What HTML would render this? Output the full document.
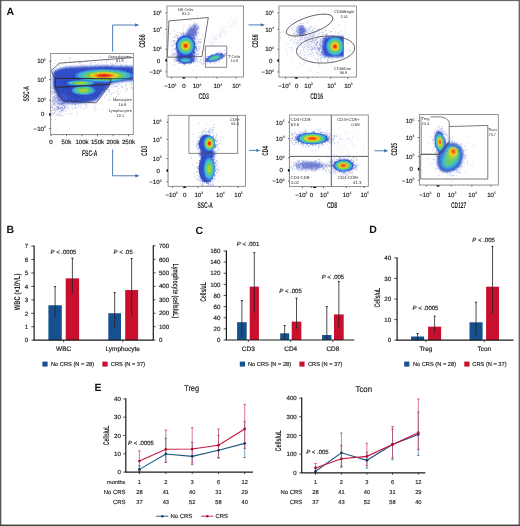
<!DOCTYPE html><html><head><meta charset="utf-8"><style>html,body{margin:0;padding:0;background:#fff;}svg{display:block;will-change:transform;}</style></head><body>
<svg width="520" height="526" viewBox="0 0 520 526" text-rendering="geometricPrecision" font-family='"Liberation Sans", sans-serif'>
<defs>
<filter id="bl04" x="-50%" y="-50%" width="200%" height="200%"><feGaussianBlur stdDeviation="0.4"/></filter>
<filter id="bl06" x="-50%" y="-50%" width="200%" height="200%"><feGaussianBlur stdDeviation="0.6"/></filter>
<filter id="bl07" x="-50%" y="-50%" width="200%" height="200%"><feGaussianBlur stdDeviation="0.7"/></filter>
<filter id="bl08" x="-50%" y="-50%" width="200%" height="200%"><feGaussianBlur stdDeviation="0.8"/></filter>
<filter id="bl09" x="-50%" y="-50%" width="200%" height="200%"><feGaussianBlur stdDeviation="0.9"/></filter>
<filter id="bl12" x="-50%" y="-50%" width="200%" height="200%"><feGaussianBlur stdDeviation="1.2"/></filter>
<filter id="bl16" x="-50%" y="-50%" width="200%" height="200%"><feGaussianBlur stdDeviation="1.6"/></filter>
</defs>
<rect width="520" height="526" fill="#fff"/>
<text x="10.2" y="15.08" font-size="10.5" text-anchor="middle" font-weight="bold" fill="#111">A</text>
<clipPath id="c1"><rect x="51.1" y="53.5" width="82.00000000000001" height="81.1"/></clipPath>
<g clip-path="url(#c1)">
<path d="M88.86 79.58h0.8M89.57 73.79h0.8M72.68 74.51h0.8M121.69 78.97h0.8M119.89 77.74h0.8M104.47 77.3h0.8M55.01 81.99h0.8M107.15 79.49h0.8M54.41 63.79h0.8M73.65 72.72h0.8M102.33 75.68h0.8M107.5 71.5h0.8M102.41 78.76h0.8M79.13 88.02h0.8M108.36 84.38h0.8M80.11 70.82h0.8M86.74 75.26h0.8M110.17 77.74h0.8M84.26 69.3h0.8M82.51 84.55h0.8M75.61 77.71h0.8M105.24 65.57h0.8M96.16 85.14h0.8M46.66 73.75h0.8M92.45 70.28h0.8M106.94 75.56h0.8M59.85 81.79h0.8M111.06 82.62h0.8M129.57 78.54h0.8M97.86 66.91h0.8M109.77 71.72h0.8M84.14 67.15h0.8M71.78 72.28h0.8M125.93 61.78h0.8M60.02 77.68h0.8M129.64 80.05h0.8M49.4 58.37h0.8M103.58 70.85h0.8M68.13 82.84h0.8M121.44 77.1h0.8M100.9 79.04h0.8M133.26 80.33h0.8M107.45 79.83h0.8M57.36 84.97h0.8M117.92 79.71h0.8M47.63 71.56h0.8M115.22 63.32h0.8M90.58 83.14h0.8M63.53 87.27h0.8M108.25 74.95h0.8M102.8 80.55h0.8M97.89 84.02h0.8M79.12 73.1h0.8M120 76.19h0.8M73.87 82.63h0.8M130.17 72.89h0.8M61.88 75.06h0.8M91.42 73.91h0.8M128.71 68.81h0.8M125.25 67.12h0.8M76.11 80.42h0.8M122.09 82.01h0.8M103.29 77h0.8M98.66 80.03h0.8M90.77 77.94h0.8M108.75 76.01h0.8M113.34 79.96h0.8M143.26 78.27h0.8M84.74 73.39h0.8M94.69 82.47h0.8M86.92 78.7h0.8M139.1 58.05h0.8M68.03 77.71h0.8M104.56 77.67h0.8M84.65 80.59h0.8M101.77 72.35h0.8M153.32 78.49h0.8M81.7 75.3h0.8M89.59 75.56h0.8M29.53 72.59h0.8M119.21 67.82h0.8M93.4 82.67h0.8M115.55 86.44h0.8M54.17 73.53h0.8M86.82 80.36h0.8M121.2 57.22h0.8M121.13 65.87h0.8M111.4 65.56h0.8M99.22 84.36h0.8M91.42 77.34h0.8M114.13 76.99h0.8M92.88 86.73h0.8M120.16 73.94h0.8M160.89 67.97h0.8M116.95 74.14h0.8M98.18 80.94h0.8M100.33 80.47h0.8M58.34 65.43h0.8M109.76 69.26h0.8M70.36 65.71h0.8M125.39 81.23h0.8M130.35 69.44h0.8M95.02 68.02h0.8M113.38 87.13h0.8M73.63 86.92h0.8M118.71 74.76h0.8M47.67 85.85h0.8M92.69 71.78h0.8M104.59 78.87h0.8M130.95 68.86h0.8M122.27 86.41h0.8M129.85 74.74h0.8M77.14 83.13h0.8M97.76 76.87h0.8M129.18 74.16h0.8M39.88 73.29h0.8M50.51 81.73h0.8M102.61 71.72h0.8M94.77 81.83h0.8M96.89 85.29h0.8M93.53 83.28h0.8M130.8 87.27h0.8M78.88 82.16h0.8M49.98 68.42h0.8M47.89 83.48h0.8M65.43 75.91h0.8M90.39 75.8h0.8M80.8 77.64h0.8M137.99 76.31h0.8M107.74 83h0.8M90.25 67.18h0.8M81.67 83.52h0.8M55.49 71.82h0.8M119.18 81.55h0.8M95.18 81.64h0.8M98.98 67.75h0.8M57.47 71.53h0.8M117.15 72.04h0.8M73.34 70.6h0.8M58.24 75.18h0.8M66.69 78.55h0.8M38.36 78.29h0.8M79.6 62.4h0.8M112.39 74.07h0.8M41.48 69.87h0.8M101.98 72.79h0.8M113.72 81.23h0.8M110.99 78.29h0.8M127.01 80.62h0.8M105.83 61.41h0.8M116.52 85.17h0.8M87.87 72.71h0.8M141.57 63.69h0.8M106.25 92.97h0.8M72.74 80.83h0.8M140.27 75.16h0.8M108.47 82.32h0.8M73.26 75.38h0.8M102.03 81.78h0.8M94.17 74.63h0.8M70.61 73.49h0.8M116.4 76.71h0.8M74.53 70.11h0.8M159 83.98h0.8M110.3 57.85h0.8M109.92 79.36h0.8M135.42 78.99h0.8M93.38 79.66h0.8M48.34 83.23h0.8M102.8 71.09h0.8M126.81 88.67h0.8M61.34 71.34h0.8M101.99 77.28h0.8M85.44 69.18h0.8M145.89 83.26h0.8M66.34 66.58h0.8M135.88 82.92h0.8M138.7 81.67h0.8M74.07 77.82h0.8M43.16 70.76h0.8M93.59 79.66h0.8M77.54 75.13h0.8M106.01 78.64h0.8M110.31 77.46h0.8M87.23 81.52h0.8M96.18 70.22h0.8M79.98 76h0.8M92.37 77.1h0.8M94.99 77.23h0.8M91.78 67.19h0.8M105.11 83.38h0.8M105.43 74.68h0.8M105.71 69.24h0.8M49.49 76.42h0.8M72.67 81.18h0.8M68.98 57.6h0.8M70.05 87.05h0.8M85.84 66.41h0.8M76.68 79.65h0.8M106.92 77.24h0.8M130.61 80.95h0.8M94.5 80.18h0.8M134.71 82.8h0.8M119.57 68.42h0.8M91.44 81.11h0.8M87.89 83.48h0.8M109.31 82.36h0.8M89.9 93.82h0.8M124.76 74.49h0.8M97.17 94.17h0.8M86.76 82.12h0.8M118.53 76.05h0.8M66.99 77.31h0.8M103.63 83.91h0.8M113.79 76.17h0.8M115.49 79.78h0.8M99.95 76.39h0.8M89.16 80.8h0.8M69.7 71.6h0.8M95.12 65.75h0.8M84.54 61.94h0.8M78.61 79.98h0.8M108.59 75.62h0.8M89.43 66.08h0.8M138.87 79.61h0.8M121.24 69.82h0.8M90.55 63.26h0.8M113.73 82.55h0.8M49.46 75.64h0.8M110.13 63.67h0.8M51.19 68.54h0.8M79.9 66.18h0.8M95.76 77.75h0.8M110.22 80.91h0.8M131.06 84.15h0.8M63.51 72.46h0.8M69.56 68.46h0.8M93.05 76.04h0.8M106.77 64.89h0.8M65.3 75.84h0.8M90.21 73.82h0.8M93.48 70.68h0.8M111.83 78.48h0.8M92.89 71.3h0.8M90.82 56.95h0.8M71.45 76.26h0.8M58.9 77.4h0.8M98.54 66.36h0.8M88.99 73.8h0.8M106.04 80.28h0.8M94.13 70.04h0.8M91.54 75.54h0.8M112.63 78.06h0.8M77.66 66.52h0.8M86.05 70.82h0.8M68.31 75.19h0.8M83.21 76.74h0.8M107.56 73.11h0.8M150.78 73.75h0.8M121.44 76.85h0.8M121.79 59.37h0.8M76.96 77.73h0.8M109.46 92.36h0.8M102.74 84.96h0.8M113.39 82.63h0.8M107.24 74.91h0.8M107.22 68.45h0.8M123.35 68.88h0.8M100.98 90.85h0.8M89.64 76.14h0.8M122.91 76.18h0.8M75.62 77.81h0.8M108.97 80.97h0.8M76.46 88.27h0.8M135 76.13h0.8M101.45 73h0.8M128.94 71.07h0.8M111.18 72.64h0.8M78.34 81.03h0.8M127.01 75.93h0.8M78.74 81.68h0.8M93.81 78.17h0.8M131.55 83.92h0.8M82.52 91.99h0.8M95.08 81.5h0.8M79.46 75.69h0.8M53 88.51h0.8M127.78 67.49h0.8M58.88 64.65h0.8M123.22 72.78h0.8M93.55 73.81h0.8M92.09 68.38h0.8M95.58 65.93h0.8M93.28 78.16h0.8M106.22 74.38h0.8M73.31 77.12h0.8M83.37 86.96h0.8M113.43 75.19h0.8M83.69 71.08h0.8M72.51 73.53h0.8M102.07 79.61h0.8M108.65 90.69h0.8M78.08 76.09h0.8M162.07 62.93h0.8M82.48 77.19h0.8M98.71 78.86h0.8M89.27 78.56h0.8M96.27 81.4h0.8M49.58 69.8h0.8M94.95 68.78h0.8M69.93 80.39h0.8M79.4 80.44h0.8M112.9 78.15h0.8M107.19 75.27h0.8M61.18 75.79h0.8M105.9 72.29h0.8M92.61 81.24h0.8M73.93 80.48h0.8M139.7 72.12h0.8M98.52 74.95h0.8M131.97 78.21h0.8M116.55 71.17h0.8M94.61 75.93h0.8M52.38 86.09h0.8M116.59 63.76h0.8M112.86 75.08h0.8M105.76 78.57h0.8M59.02 74.52h0.8M130.82 71.98h0.8M70.45 66.48h0.8M65.69 78.35h0.8M135.62 79.01h0.8M100.89 91.64h0.8M82.53 71.28h0.8M107.68 79.84h0.8M70.65 67.81h0.8M101.98 77.73h0.8M63.64 74.58h0.8M81.98 79.22h0.8M92.2 75.4h0.8M86.52 83.37h0.8M128.38 73.43h0.8M115.31 70.7h0.8M96.73 81.25h0.8M131.34 73.32h0.8M93.22 77.37h0.8M59.05 76.11h0.8M78.78 78.6h0.8M67.88 62.16h0.8M95.92 77.82h0.8M81.83 82.22h0.8M88.44 71.76h0.8M106.47 65.02h0.8M78.74 75.85h0.8M115.37 74.86h0.8M102.4 71.41h0.8M102.24 87.64h0.8M78.53 92.56h0.8M79.55 76.12h0.8M99.16 83.17h0.8M65.31 61.3h0.8M109.54 81.57h0.8M109.97 94.41h0.8M99.92 77.78h0.8M117.3 78.58h0.8M134.93 67.33h0.8M85.99 51.89h0.8M114.5 73.39h0.8M117.18 91.08h0.8M94.86 74.22h0.8M83.01 70.13h0.8M79.87 80.47h0.8M95.88 76.46h0.8M90.84 82.4h0.8M106.86 75.01h0.8M110.95 74.94h0.8M67.33 86.19h0.8M106.17 69.3h0.8M120.89 78.41h0.8M57.46 87.27h0.8M103 82.24h0.8M99.75 74.95h0.8M57.84 82.8h0.8M95.72 73.99h0.8M103.42 76.55h0.8M111.22 73.4h0.8M94.12 61.03h0.8M84.84 80.73h0.8M127.08 73.45h0.8M92.09 87.08h0.8M87.18 81.14h0.8M135.28 76.28h0.8M124.45 71.03h0.8M99.98 75.46h0.8M97.76 83.91h0.8M152.36 71.34h0.8M81.2 79.48h0.8M69.68 79.48h0.8M108.73 74.06h0.8M107.75 65.15h0.8M113.24 65.19h0.8M78.29 72.11h0.8M85.37 82.01h0.8M96.96 73.22h0.8M108.04 87.07h0.8M95.15 78.56h0.8M124.75 77.87h0.8M64.19 93.43h0.8M148 62.11h0.8M94.06 78.92h0.8M118.18 80.68h0.8M88.47 68.62h0.8M97.47 83.23h0.8M68.85 68.81h0.8M94.41 62.44h0.8M88.75 72.94h0.8M105.82 71.09h0.8M73.83 73.24h0.8M93.8 71.35h0.8M95.29 81.25h0.8M123.44 87.93h0.8M76.2 73.06h0.8M35.41 89.3h0.8M77.61 75.77h0.8M107.54 66.49h0.8M106.13 75.82h0.8M51.18 78.04h0.8M123.67 62.93h0.8M114.37 77.46h0.8M106.4 79.09h0.8M126.29 74.43h0.8M115.97 73.13h0.8M112.47 70.3h0.8M92.4 88.12h0.8M105.69 74.89h0.8M67.52 70.47h0.8M99.65 82.58h0.8M105.23 79.67h0.8M94 85.46h0.8M85.62 72.15h0.8M116.31 76.45h0.8M88.31 71.97h0.8M88.83 80.36h0.8M103.49 67.53h0.8M105.23 77.25h0.8M71 81.41h0.8M88.27 73.65h0.8M114.1 85.24h0.8M78.47 79.07h0.8M73.97 92.2h0.8M83.15 84.36h0.8M79.46 81.68h0.8M148.25 58.21h0.8M84.57 79.5h0.8M92.77 71.32h0.8M146.65 76.56h0.8M55.53 81.98h0.8M53.68 84.06h0.8M81.13 77.01h0.8M125.26 76.83h0.8M61.61 64.13h0.8M123.38 81.18h0.8M75.42 82.02h0.8M106.92 80.53h0.8M40.79 73.89h0.8M116.61 81.13h0.8M116.15 58.8h0.8M99.06 79.45h0.8M156.25 69.32h0.8M87.1 76.25h0.8M116.27 72.9h0.8M122.53 70.48h0.8M101.4 72.31h0.8M98.8 71.16h0.8M56.67 83.65h0.8M102.28 72.09h0.8M99.82 82.93h0.8M71.54 75.23h0.8M107.94 79.68h0.8M86.95 61.25h0.8M124.83 78.3h0.8M95.31 74.05h0.8M101.32 73.02h0.8M70.41 70.82h0.8M80.68 71.71h0.8M67.19 80.45h0.8M63.56 80.62h0.8M70.65 78.47h0.8M127.98 77.42h0.8M77.46 76.34h0.8M98.56 63.86h0.8M80.42 77.14h0.8M83.74 76.56h0.8M112.62 81.37h0.8M116.74 80.12h0.8M88.09 75.87h0.8M88.49 73.81h0.8M90.69 63.93h0.8M87 75.83h0.8M71.62 75.83h0.8M107.37 74.85h0.8M144.84 57.75h0.8M90.05 63.22h0.8M118.52 94.58h0.8M34.95 76.9h0.8M107.46 73.88h0.8M108.24 60.3h0.8M115.45 78.6h0.8M95.55 71.89h0.8M110.32 72.6h0.8M100.35 72.43h0.8M41.08 75.78h0.8M99.85 81.28h0.8M73.97 75.77h0.8M109.81 77.02h0.8M124.82 89.94h0.8M73.19 62.55h0.8M115.56 86.71h0.8M117.14 81.7h0.8M80.15 71.01h0.8M116.32 69.62h0.8M51.48 69.02h0.8M154.81 89.46h0.8M78.52 70.9h0.8M100.55 70.75h0.8M126.44 75.45h0.8M68.93 85.16h0.8M81 77.55h0.8M94.7 73.8h0.8M102.8 71.15h0.8M50.73 60.54h0.8M64.6 70.69h0.8M94.45 76.39h0.8M108.34 76.84h0.8M75.96 71.04h0.8M44.15 74.82h0.8M106.64 79.71h0.8M92.09 74.78h0.8M117.47 76.11h0.8M112.71 80.08h0.8M100.12 85.14h0.8M81.26 73.49h0.8M75.61 70.42h0.8M132.34 88.32h0.8M95.55 79.98h0.8M123.21 81.65h0.8M123.93 67.16h0.8M79.65 79.17h0.8M129.45 76.73h0.8M74.4 73.52h0.8M79.15 69.99h0.8M131.03 71.62h0.8M95.49 91.14h0.8M123.43 78.35h0.8M80.31 78.87h0.8M133.92 80.36h0.8M125.28 76.69h0.8M107.39 74.59h0.8M105.25 85.1h0.8M60.65 75.56h0.8M100.77 72h0.8M87.61 81.51h0.8M143.04 80.41h0.8M102.83 65.14h0.8M141.26 76.54h0.8M94.19 68.17h0.8M93.64 68.33h0.8M96.7 79.26h0.8M95.75 77.96h0.8M74.56 86.01h0.8M79.32 63.27h0.8M90.5 70.65h0.8M70.77 73.52h0.8M101.99 67.73h0.8M91.7 85.99h0.8M111.39 74.94h0.8M98.07 75.16h0.8M93.85 81.13h0.8M92.78 59.17h0.8M94.48 69.77h0.8M110.63 71.73h0.8M98.56 91.24h0.8M69.87 68.13h0.8M61.12 59.24h0.8M49.92 78.55h0.8M79.69 62.92h0.8M59.42 80.32h0.8M76.39 73.43h0.8M102.93 85.49h0.8M141.58 83.23h0.8M98.45 77.29h0.8M138.25 86h0.8M87.55 79.2h0.8M101.89 76.37h0.8M83 66.71h0.8M82.18 65.19h0.8M124.37 79.76h0.8M66.06 85.77h0.8M116.4 62.64h0.8M139.19 81.67h0.8M144.54 67.38h0.8M107.74 78.96h0.8M99.84 77.2h0.8M120.28 65.54h0.8M65.19 66.24h0.8M81.62 71.76h0.8M103.82 77.87h0.8M95.75 71.26h0.8M84.39 82.67h0.8M113.33 76.71h0.8M87.26 86.87h0.8M80.74 80.54h0.8M122.69 74.14h0.8M114.81 68.19h0.8M119.3 77.4h0.8M56.92 80.69h0.8M73.59 84.97h0.8M78.7 74.85h0.8M101.79 73.67h0.8M101.23 72.13h0.8M111.12 76.04h0.8M100.07 56.73h0.8M122.87 76.22h0.8M52.22 76.67h0.8M106.21 83.5h0.8M69.01 86.83h0.8M91.18 92.76h0.8M91.49 80.76h0.8M86.2 68.19h0.8M121.32 82.34h0.8M131.93 82h0.8M81.24 64.36h0.8M79.39 71.27h0.8M75.44 80.08h0.8M102.87 74.11h0.8M99.14 74.98h0.8M100.11 81.26h0.8M118.03 71.2h0.8M58.84 85.99h0.8M97.75 83.74h0.8M55.57 73.69h0.8M95.65 65.91h0.8M82.62 81.07h0.8M120.89 87.16h0.8M74.27 66.19h0.8M107.49 82.58h0.8M99.63 66.89h0.8M113.77 81.55h0.8M108.28 72.59h0.8M102.3 81.53h0.8M81.59 63.09h0.8M102.89 79.37h0.8M95.32 82.22h0.8M80.92 75.42h0.8M87.68 80h0.8M133.3 74.24h0.8M144.32 86.7h0.8M113.98 80.11h0.8M137.5 74.74h0.8M92.31 68.56h0.8M106.35 85.41h0.8M107.78 78.96h0.8M90.18 77.19h0.8M60.8 83.34h0.8M85.16 68.27h0.8M76.97 70.23h0.8M115.53 83.41h0.8M62.41 82.48h0.8M116.31 71.94h0.8M59.32 70.78h0.8M79.79 78.4h0.8M86.42 61.8h0.8M100.61 65.26h0.8M116.73 67.55h0.8M78.37 70.02h0.8M81.98 85.09h0.8M115.45 80.21h0.8M102.66 65.17h0.8M82.5 72.14h0.8M71.54 79.56h0.8M77.21 71.03h0.8M69.93 61.6h0.8M109.29 85.32h0.8M99.19 69.16h0.8M30.08 77.21h0.8M124.19 78.08h0.8M117.25 86.35h0.8M122.05 72.91h0.8M120.26 81.43h0.8M58.11 73.16h0.8M60.83 75.24h0.8M108.88 68.52h0.8M45.66 85.09h0.8M104.04 86.3h0.8M63.23 83.42h0.8M144.77 90.05h0.8M89.96 77.88h0.8M91.3 82.99h0.8M119.91 76.61h0.8M62.38 81.19h0.8" stroke="#4050c8" stroke-width="0.8" opacity="0.45"/>
<path d="M66.36 100.4h0.8M75.16 107.37h0.8M85.65 92.84h0.8M76.19 108.35h0.8M65.55 99.03h0.8M86.29 104.8h0.8M78.22 86.76h0.8M56.87 97.73h0.8M76.65 113.83h0.8M61.66 103.96h0.8M81.25 84.3h0.8M62.18 97.16h0.8M66.08 94.92h0.8M77.64 90.33h0.8M77.6 91.55h0.8M65.46 99.76h0.8M65.12 98.01h0.8M91.19 96.19h0.8M70.25 101.15h0.8M67.61 103.58h0.8M56.61 100.33h0.8M65.86 90.41h0.8M93.24 90.05h0.8M93.08 100.61h0.8M89.44 89.16h0.8M86.39 106.2h0.8M70.6 95.1h0.8M101.47 97.24h0.8M66.93 91.59h0.8M77.35 98.31h0.8M74.13 108.05h0.8M68.07 99.31h0.8M89.51 88.97h0.8M84.46 108.82h0.8M55.74 88.32h0.8M59.54 83.08h0.8M77.43 83.01h0.8M77.99 106.17h0.8M52.62 93.78h0.8M48.98 101.45h0.8M63.15 94.14h0.8M72.65 99.82h0.8M67.84 96.11h0.8M65.44 96.8h0.8M57.93 96.45h0.8M48.81 92.57h0.8M94.98 96.56h0.8M56.88 97.8h0.8M60.33 84.44h0.8M63.16 101.16h0.8M76.61 95.32h0.8M60.88 88.45h0.8M88.2 97.71h0.8M60.58 81.22h0.8M55.56 113.33h0.8M58.21 95.46h0.8M74.52 94.9h0.8M68.66 86.39h0.8M59.39 107.82h0.8M62.92 101.92h0.8M51.67 94.08h0.8M75.13 103.26h0.8M58.53 100.17h0.8M76.63 90.84h0.8M77.73 89.71h0.8M62.45 95.87h0.8M39.43 95.23h0.8M60 85.76h0.8M66.9 101.34h0.8M67.15 104.86h0.8M58.08 86.81h0.8M90.61 98.79h0.8M83.34 90.21h0.8M81.65 97.82h0.8M79.78 96.18h0.8M86.48 91.46h0.8M60.43 85.66h0.8M85.93 90.83h0.8M59.48 89.42h0.8M66.66 87.1h0.8M68.51 91.61h0.8M65.38 89.28h0.8M72.44 92.77h0.8M73.38 97.75h0.8M76.08 80.67h0.8M65.57 90.43h0.8M81.29 84.96h0.8M63.43 93.94h0.8M67.97 102.94h0.8M66.69 102.75h0.8M54.41 83.31h0.8M86.63 99.05h0.8M77.85 96.86h0.8M77.81 87.49h0.8M83.38 92.27h0.8M83.83 96.61h0.8M48.32 86.99h0.8M85.53 95.04h0.8M67.25 97.7h0.8M66.9 92.19h0.8M73.23 97.01h0.8M90.2 96.32h0.8M94.56 108.62h0.8M92.6 103.43h0.8M73.57 96.96h0.8M70.29 90.88h0.8M71.2 91.51h0.8M91.68 99.74h0.8M66.64 82.59h0.8M71.36 93.09h0.8M58.97 88.05h0.8M45 99.98h0.8M71.21 114.07h0.8M71.63 94.96h0.8M89.33 96.94h0.8M74.01 93.4h0.8M64.74 106.5h0.8M84.01 108.01h0.8M67.8 96.21h0.8M61.43 102.77h0.8M55.28 99.95h0.8M85.15 105.88h0.8M60.72 103.63h0.8M63.44 90.7h0.8M56.12 104.09h0.8M91.78 91.84h0.8M62.89 93.63h0.8M102.09 103.03h0.8M65.49 83.44h0.8M63.93 104.31h0.8M94.41 94.13h0.8M63.7 92.43h0.8M49.37 102.36h0.8M58.97 103.44h0.8M51.51 87.11h0.8M75.46 90.66h0.8M81.38 96.06h0.8M57.9 100.35h0.8M82.1 82.61h0.8M93.91 99.48h0.8M81.12 82.98h0.8M63.36 93.56h0.8M84.93 85.78h0.8M61.39 81.79h0.8M69.11 98.42h0.8M51.77 91.86h0.8M78.12 107.1h0.8M79.97 93.87h0.8M57.87 89.45h0.8M64.03 97.03h0.8M71.4 107.67h0.8M75.45 88.5h0.8M90.53 102.64h0.8M73.21 90.95h0.8M49.55 88.84h0.8M82.94 90.38h0.8M56.16 97.37h0.8M74.93 100.24h0.8M79.87 105.86h0.8M61.93 102.85h0.8M60.15 100.86h0.8M74.15 97.7h0.8M83.61 95.88h0.8M85.35 102.13h0.8M73.63 92.03h0.8M62.96 92.31h0.8M69.57 95.83h0.8M107.77 100.47h0.8M81.23 89.98h0.8M63.47 93.77h0.8M74.31 88.75h0.8M91.34 92.06h0.8M84.94 79.65h0.8M71.92 97.94h0.8M74.3 100.21h0.8M75.36 97.14h0.8M49.29 91.01h0.8M43.89 100.4h0.8M75.69 94.63h0.8M62.14 91.93h0.8M94.15 108.12h0.8M71.3 105.02h0.8M52.94 82.45h0.8M66.2 89.88h0.8M65.29 97.32h0.8M108.3 91.37h0.8M72.6 97.93h0.8M71.59 102.52h0.8M93.31 87.29h0.8M73.94 94.15h0.8M76.28 85.28h0.8M50.9 79.78h0.8M78.3 97.34h0.8M72.88 79.43h0.8M67.52 90.71h0.8M55.04 89.59h0.8M80.37 99.81h0.8M71.73 99.6h0.8M64.76 96.5h0.8M72.48 99.88h0.8M71.16 95h0.8M70.38 91.49h0.8M98.8 99.6h0.8M77.15 112.04h0.8M88.84 85.1h0.8M80.34 101.87h0.8M94.62 105.21h0.8M81.25 87.76h0.8M61.55 97.88h0.8M78.06 88.85h0.8M67.39 93.2h0.8M72.73 98.35h0.8M68.56 87.34h0.8M86.91 107.17h0.8M70.73 103.17h0.8M77.33 100.62h0.8M77.78 90.66h0.8M78.89 103.07h0.8M61.24 109.76h0.8M97.08 108.76h0.8M95.87 101.2h0.8M67.94 91.8h0.8M62.24 96.81h0.8M71.61 100.69h0.8M47.76 112.18h0.8M99.32 95.81h0.8M80.11 99.33h0.8M75.28 94.54h0.8M70.53 90.23h0.8M74.14 95.83h0.8M75.84 90.01h0.8M72.47 96.33h0.8M79.25 88.56h0.8M77.03 102.88h0.8M79.17 93.42h0.8M66.1 94.35h0.8M80.75 106.87h0.8M70.1 91.5h0.8M76.51 97.43h0.8M61.1 90.84h0.8M70.78 100.7h0.8M57.68 88.87h0.8M77.99 87.43h0.8M73.31 98.47h0.8M70.67 88.87h0.8M71.28 93.67h0.8M76.03 90.13h0.8M85.1 84.27h0.8M69.88 96.05h0.8M83.54 91.74h0.8M78.55 92.03h0.8M80.86 108.16h0.8M67.19 99.1h0.8M60.87 102.81h0.8M86.53 96.25h0.8M58.38 98.82h0.8M85.79 103.63h0.8M81.76 83.19h0.8M63.84 105.95h0.8M57.29 103.92h0.8M94.59 101.33h0.8M85.44 93.67h0.8M57.29 95.28h0.8M69.61 95.67h0.8M80.36 94.99h0.8M74.3 98.97h0.8M71.94 108.9h0.8M77.31 96.59h0.8M69.51 91.62h0.8M88.13 97.05h0.8M59.05 92.06h0.8M70.36 92.88h0.8M85.01 87.87h0.8M77.9 97h0.8M57.87 96.33h0.8M70.87 99.51h0.8M66.6 98.12h0.8M52.02 88.41h0.8M81.42 103.29h0.8M71.85 91.81h0.8M84.99 81.36h0.8M62.41 100.71h0.8M79.83 88.77h0.8M49.35 106.16h0.8M73.84 89.73h0.8M72.66 102.31h0.8M40.9 103.77h0.8M80.88 81.43h0.8M81.25 83.54h0.8M85.67 98.79h0.8M99.03 91.73h0.8M72.06 103.33h0.8M64.32 91.07h0.8M67.54 95.49h0.8M59.01 99.39h0.8M78.52 96.5h0.8M92.4 93.71h0.8M87.68 92.17h0.8M81.07 82.46h0.8M74.38 94.77h0.8" stroke="#4858c8" stroke-width="0.8" opacity="0.4"/>
<path d="M57.03 96.5h0.8M57.92 95.52h0.8M46.84 96.63h0.8M56.7 97.28h0.8M53.65 100.78h0.8M64.71 99.75h0.8M57.04 114.22h0.8M65.86 110.3h0.8M66.93 99.06h0.8M59.22 112.02h0.8M56.68 100.92h0.8M62.27 105.35h0.8M58.34 110.85h0.8M58.93 108.53h0.8M66.42 107.93h0.8M64.4 91.56h0.8M52.13 96.43h0.8M62.85 115.51h0.8M52.67 104.76h0.8M54.88 95.41h0.8M58.34 108.23h0.8M61.28 112.62h0.8M54.09 110h0.8M65.58 102.63h0.8M62.86 96.93h0.8M53.46 98.35h0.8M56.14 128.01h0.8M57.09 116.85h0.8M61.21 104.81h0.8M64.46 94.99h0.8M65.5 105.39h0.8M50.91 107.41h0.8M63.32 106.07h0.8M69.51 98.27h0.8M63.07 108.74h0.8M54.6 112.8h0.8M51.3 90.3h0.8M63.13 92.2h0.8M59.3 87.2h0.8M60.41 91.8h0.8M62.05 88.21h0.8M62.69 99.6h0.8M60.38 101.39h0.8M60.78 90.11h0.8M44.61 102.31h0.8M54.39 97.91h0.8M62.56 84.13h0.8M55.42 96.51h0.8M53.66 104.94h0.8M59.16 94.61h0.8M54.09 109.27h0.8M56.04 107.27h0.8M62.7 84.96h0.8M53.5 102.03h0.8M62.05 109.02h0.8M64.81 111.31h0.8M57.76 100.11h0.8M64.65 98.17h0.8M66.34 87.7h0.8M63.92 100.44h0.8M48.2 110.82h0.8M61.87 102.19h0.8M53.54 97.81h0.8M69.07 94.55h0.8M39.17 94.29h0.8M52.8 100.81h0.8M57.64 93.79h0.8M54.95 111.43h0.8M51.35 119.61h0.8M56.74 92.17h0.8M64.72 107.08h0.8M53.74 108.74h0.8M48.96 93.69h0.8M66.76 99.7h0.8M52.19 106.63h0.8M65.5 101.8h0.8M49.16 98.88h0.8M62.51 108.92h0.8M71.12 99.73h0.8M57.11 101.66h0.8M67.24 93.53h0.8M67.83 77.26h0.8M64.79 95.92h0.8M62.75 108.2h0.8M52.9 101.22h0.8M61.44 107.29h0.8M54.42 93.08h0.8M48.46 124.86h0.8M58.85 100h0.8M51.03 110.37h0.8M56.79 114.92h0.8M65.11 102.19h0.8M64.36 91.99h0.8M58.05 96.82h0.8M52.38 102.15h0.8M59.13 114.92h0.8M39.88 95.95h0.8M54.49 97.82h0.8M62.53 105.63h0.8M60.17 97.73h0.8M62.97 105.24h0.8M48.94 99.64h0.8M51.75 91.37h0.8M60.88 102.54h0.8M60.68 94.12h0.8M58.79 93.79h0.8M62.29 108.2h0.8M70.53 113.39h0.8M55.17 97.88h0.8M54.37 104.75h0.8M71.88 108.38h0.8M46.8 90.68h0.8M52.24 106.64h0.8M60.01 104.7h0.8M70.69 94.56h0.8M54.91 119.69h0.8M62.05 94.99h0.8M47.83 88.28h0.8M45.33 102.62h0.8M60.26 110.94h0.8M59.16 95.76h0.8M55.55 119.11h0.8M49.41 103.56h0.8M60.15 107.55h0.8M57.57 106.49h0.8M64.89 100.67h0.8M57.25 100.32h0.8M54.21 100.13h0.8M58.19 103.89h0.8M68.02 113.77h0.8M57.33 107.43h0.8M61.77 108.85h0.8M60.13 104.39h0.8M57.19 94.94h0.8M65.23 113.69h0.8M63.97 105.92h0.8M61.6 97.95h0.8M49.3 107.97h0.8M61.2 97.01h0.8M54.21 113.5h0.8M49.17 117.86h0.8M63.84 123.34h0.8M55.69 101.8h0.8M56.96 103.4h0.8M58.74 95.26h0.8M66.45 94.94h0.8M56.95 106.99h0.8M56.77 98.09h0.8M62.14 98.69h0.8M52.52 101.08h0.8" stroke="#5060d0" stroke-width="0.8" opacity="0.4"/>
<g filter="url(#bl09)">
<path d="M53 72 Q58 67.5 70 67 Q100 65.5 134 66.5 L134 80.5 Q118 81 111 83.5 Q104 92 97 100 Q85 104.5 64 103 Q55 96 53 86 Z" fill="#3050c8"/>
</g>
<path d="M68.02 102.23h0.8M60.13 97.82h0.8M62.93 89.86h0.8M67.06 93.62h0.8M77.77 102.5h0.8M64.27 99.98h0.8M78.96 96.88h0.8M63.17 97.4h0.8M69.03 94.12h0.8M67.58 95.98h0.8M80.04 98.79h0.8M68.15 97.97h0.8M83.07 86.39h0.8M83.25 83.99h0.8M74.88 95.56h0.8M83.35 93.67h0.8M65.67 87.22h0.8M58.74 96.6h0.8M67.87 87.69h0.8M74.79 87.41h0.8M66.07 89.25h0.8M84.89 100.78h0.8M68.58 82.57h0.8M72.49 92.43h0.8M73.14 95.39h0.8M67.12 97.55h0.8M77.53 93.26h0.8M66.34 89.12h0.8M76.23 85.4h0.8M68.56 87.5h0.8M57.46 95.62h0.8M69.77 92.21h0.8M77.87 83.04h0.8M69.4 93.73h0.8M77.49 85.49h0.8M76.44 93.32h0.8M82.2 98.83h0.8M74.95 104.89h0.8M69.99 89.45h0.8M66.93 86.36h0.8M69.74 80.73h0.8M69.24 94.56h0.8M78.92 89.92h0.8M82.5 88.09h0.8M68.79 80.73h0.8M63.15 87.25h0.8M83.13 95.11h0.8M60.3 95.13h0.8M74.23 90.63h0.8M70.2 90.21h0.8M65.23 81.61h0.8M69.2 99.53h0.8M82.59 90.37h0.8M63.44 90.76h0.8M77.89 94.06h0.8M64.87 94.12h0.8M68.19 95.02h0.8M66.42 83.39h0.8M70.51 96.45h0.8M60.28 91.37h0.8M77.7 89.81h0.8M64.29 103.88h0.8M77.28 98.01h0.8M61.71 101.54h0.8M55.48 88.97h0.8M76.48 99.77h0.8M61.85 88.12h0.8M71.72 80.74h0.8M75.6 95.27h0.8M66.08 95.14h0.8M76.79 93.8h0.8M74.57 100.82h0.8M65.83 92.94h0.8M65.44 98.02h0.8M66.44 94.76h0.8M71.19 92.39h0.8M84.98 91.51h0.8M82.36 96.8h0.8M81.5 91.04h0.8M78.08 96.39h0.8M64.65 93.56h0.8M68.88 91.79h0.8M81.33 87.82h0.8M55.37 81.9h0.8M66.07 88.26h0.8M70.12 95.28h0.8M85.3 93.79h0.8M74.03 87.75h0.8M75.04 99.87h0.8M81.64 80.69h0.8M77.73 101.16h0.8M77.17 83.35h0.8M67.34 95.4h0.8M73.6 87.31h0.8M62.28 97.58h0.8M58.43 100.29h0.8M70.17 93.74h0.8M58.44 88.56h0.8M75.97 83.5h0.8M87.94 83.89h0.8M59.42 92.25h0.8M74.17 96.23h0.8M66.79 90.8h0.8M67.96 88.68h0.8M47.69 97.55h0.8M72.17 92.91h0.8M64.56 93.45h0.8M69.89 91.56h0.8M79.56 82.07h0.8M72.18 85.85h0.8M67.25 100.64h0.8M60.63 91.42h0.8M64.89 97.47h0.8M61.53 82.3h0.8M74.44 89.96h0.8M67.24 98.23h0.8M62.33 89.85h0.8M71.28 94.38h0.8M65.53 97.96h0.8M89.37 89.65h0.8M86.16 79.84h0.8M82.16 90.02h0.8M71.19 90.04h0.8M64.5 84.64h0.8M66.59 99.47h0.8M79.85 89.99h0.8M65.44 87.96h0.8M59.63 102.39h0.8M75.73 92.68h0.8M65.75 86.11h0.8M81.38 96.5h0.8M61.77 97.7h0.8M60.43 95.7h0.8M61.7 89.61h0.8M74.28 94.49h0.8M78.74 87.18h0.8M83.64 99.74h0.8M69.91 94.68h0.8M63.28 91.12h0.8M58.59 92.51h0.8M71.72 99.74h0.8M78.19 96.69h0.8M66.87 90.71h0.8M67.05 93.28h0.8M53.32 96.44h0.8M56.46 89.03h0.8M70.19 89.04h0.8M84.37 91.44h0.8M83.58 98.76h0.8M65.71 94.31h0.8M81.22 90.08h0.8M70.76 88.79h0.8M70.51 89.96h0.8M70.71 97.77h0.8M82.03 92.77h0.8M71.74 96.93h0.8M67.49 85.9h0.8M79.59 86.62h0.8M78.04 86.44h0.8M85.82 85.99h0.8M77.34 100.64h0.8M61.7 100.56h0.8M62.89 81.84h0.8M76.24 96.04h0.8M68.25 77.46h0.8M69.53 90.24h0.8M66.72 90.33h0.8M54.53 88.73h0.8M85.55 100.91h0.8M66.88 87.9h0.8M73.42 98.12h0.8M76.25 85.27h0.8M71.4 92.81h0.8M82.43 98.89h0.8M74.53 99.01h0.8M66.58 100.86h0.8M66.32 94.28h0.8M77.93 86.74h0.8M63.93 81.87h0.8M71.42 91.68h0.8M67.18 94.87h0.8M51.72 91.86h0.8M70.75 90.47h0.8M76.86 102.09h0.8M66.15 86.59h0.8M64.78 92.53h0.8M75.06 87.04h0.8M78.63 86.1h0.8M77.15 94.46h0.8M74.01 104.43h0.8M67.72 91.05h0.8M74.12 96.97h0.8M58.43 93.58h0.8M63.59 95.63h0.8M81.83 92.3h0.8M69.08 93.06h0.8M44.47 96.44h0.8M74.85 92.95h0.8M66.58 87.79h0.8M68.45 98.99h0.8M69.12 99.76h0.8M47.78 89.35h0.8M72.37 91.92h0.8M55.66 88.17h0.8M80.8 84.56h0.8M61.44 85.68h0.8M65.23 95.7h0.8M75.13 80.31h0.8M82.61 88.59h0.8M64.92 101.61h0.8M69.29 84.86h0.8M64.48 87.81h0.8M61.28 90.08h0.8M77.58 94.02h0.8M58.07 108.06h0.8M61.45 92.67h0.8M70.27 96.39h0.8M67.16 94.63h0.8M88.19 92.55h0.8M60.65 93.89h0.8M63.06 89.87h0.8M71.63 93.94h0.8M67.54 96.89h0.8M68.33 84.49h0.8M77.59 89.9h0.8M80.48 88.23h0.8M74.95 93.81h0.8M46.7 83.4h0.8M60.33 100.1h0.8M53.69 97.26h0.8M79.44 94.85h0.8M75.83 89.14h0.8M69.91 93.29h0.8M73.64 96.07h0.8M68.21 87.96h0.8M65.14 94.37h0.8M55.65 84.78h0.8M66.44 88.82h0.8M67.66 76.66h0.8M67.05 90.55h0.8M76.71 80.6h0.8M67.36 94.73h0.8M74.23 98.89h0.8M79.12 85.95h0.8M75.5 90.07h0.8M63.06 100.84h0.8M64.56 87.08h0.8M66.47 87.09h0.8M78.71 94.19h0.8M82.12 94.37h0.8M64.68 98.04h0.8M64.33 89.33h0.8M68.55 92.23h0.8M80.34 88.5h0.8M73.05 91.84h0.8M59.1 85.68h0.8M68.1 94.34h0.8M72.78 94.77h0.8M70.42 89.41h0.8M73.7 86.21h0.8M58.36 90.08h0.8M57.61 89.03h0.8M63.52 88.8h0.8M69.61 87.37h0.8M66.33 82.11h0.8M71.26 86.91h0.8M73.51 75.65h0.8M63.04 93.41h0.8M48.82 89.92h0.8M70.82 92.6h0.8M57.02 93.33h0.8M71.29 86.37h0.8M76.46 91.72h0.8M70.16 89.4h0.8M74.76 92.56h0.8M79.87 94.61h0.8M64.64 90.71h0.8M77.98 89.88h0.8M73.33 95.02h0.8M68.44 78.51h0.8M71.15 93.24h0.8M71.18 87.6h0.8M80.52 91.22h0.8M64.58 87.84h0.8M73.12 85.67h0.8M61.29 103.6h0.8M81.4 98.11h0.8M81.88 95.45h0.8M55.33 98.93h0.8M80.79 94.85h0.8M52.96 99.22h0.8M81.89 89.14h0.8M71.11 96.51h0.8M69.26 98.38h0.8M70.71 96.02h0.8M70.74 83.41h0.8M61.32 110.4h0.8M72.43 99.62h0.8M79.93 101.97h0.8M74.83 88.54h0.8M70.16 80.84h0.8M68.36 97.27h0.8M51.13 93.15h0.8M77.19 99.73h0.8M61.91 88.21h0.8M53.62 86.07h0.8M74.66 104.05h0.8M59.99 100.03h0.8M73.73 89.12h0.8M89.17 77.31h0.8M69.41 93.28h0.8M88.62 102.47h0.8M89.79 92.78h0.8M78.57 99.95h0.8M74.48 94.1h0.8M68.4 89.62h0.8M59.25 103.36h0.8M66.1 79.87h0.8M72.31 91.8h0.8M71.54 102.58h0.8M69.07 90.45h0.8M63.47 91.87h0.8M66.16 93.19h0.8M97.34 94.29h0.8M62.5 103.26h0.8M77.56 96.76h0.8M76.26 96.78h0.8M75.91 100.23h0.8M78.81 99.87h0.8M65.61 91.99h0.8M63.62 97.59h0.8M77.28 89.28h0.8M75.12 107.33h0.8M80.83 85.48h0.8M69.19 95.71h0.8M69.69 94.26h0.8M80.34 93.92h0.8M60.38 96.18h0.8M69.15 92.67h0.8M65.04 83.92h0.8M59.08 89.94h0.8M60.63 76.14h0.8M80.06 85.21h0.8M63.65 95.11h0.8M48.87 99.84h0.8M63.26 95.86h0.8M65.78 93.79h0.8M70.92 91.99h0.8M53.99 83.41h0.8M69.64 100.24h0.8" stroke="#1e2c98" stroke-width="0.8" opacity="0.45"/>
<path d="M61.34 102.59h0.8M64.79 102.36h0.8M68.83 92.7h0.8M65.34 99.13h0.8M62.48 95.84h0.8M60.17 94.99h0.8M58.65 112.23h0.8M72.28 100.05h0.8M67.62 95.25h0.8M50.45 91.12h0.8M64.69 107.01h0.8M63.79 95.12h0.8M62.82 95.14h0.8M57.21 98.87h0.8M62.05 96.04h0.8M59.68 95.47h0.8M65.15 106.79h0.8M62.98 110.89h0.8M56.12 101.34h0.8M58.36 99.21h0.8M64.5 102.72h0.8M69.51 97.3h0.8M57.95 99.08h0.8M65.43 96.6h0.8M68.35 108.2h0.8M57.07 101.77h0.8M68.95 90.64h0.8M65 98.9h0.8M57.06 106.41h0.8M65.06 97.67h0.8M66.16 103.13h0.8M67.75 102.83h0.8M65.99 94.27h0.8M61.95 100.63h0.8M50.51 110.39h0.8M62.15 94.86h0.8M55.14 101.21h0.8M64.16 97.15h0.8M61.97 95.67h0.8M60.35 99.52h0.8M60.86 103.31h0.8M63.31 100.64h0.8M65.98 106.19h0.8M66.93 101.11h0.8M63.2 96.07h0.8M62.33 103.33h0.8M65.1 98.11h0.8M57.51 92.53h0.8M65.57 105h0.8M65.82 93.31h0.8M62.96 101.08h0.8M59.53 101.69h0.8M63.02 95.93h0.8M57.95 103.95h0.8M65.74 95.68h0.8M59.06 104.34h0.8M66.9 98.52h0.8M71.76 98.59h0.8M58.85 105.32h0.8M63.08 101.68h0.8M64.19 95.12h0.8M58.22 99.05h0.8M70.85 95.11h0.8M70.62 101.07h0.8M58.58 101.3h0.8M66.76 95.62h0.8M53.63 101.74h0.8M58.6 102.15h0.8M54.7 99.31h0.8M60.06 92.79h0.8M62.83 100.83h0.8M61.29 94.25h0.8M65.03 91.49h0.8M66.6 102.39h0.8M72.16 104.3h0.8M65.73 101.28h0.8M64.13 93.56h0.8M71.11 102.56h0.8M62.61 94.43h0.8M71.21 102.59h0.8M58.24 103.27h0.8M73.21 99.89h0.8M65.94 97.98h0.8M60.95 105.21h0.8M78.96 100.57h0.8M63.4 103.85h0.8M62.52 103.54h0.8M68.02 95.06h0.8M58.79 99.64h0.8M68.04 101.35h0.8M70.03 93.32h0.8M66.39 96.98h0.8M64.49 101.56h0.8M59.29 98.89h0.8M58.35 101.29h0.8M59.87 97.6h0.8M65.06 96.83h0.8M69.57 96.91h0.8M68.12 101.37h0.8M58.98 98.94h0.8M59.94 98.25h0.8M62.69 108.82h0.8M61.97 107.61h0.8M66.17 93.66h0.8M52.79 103.29h0.8M54.35 103.48h0.8M68.99 101.89h0.8M62.98 98.78h0.8M65.26 98.53h0.8M61.41 98.21h0.8M69.67 96.99h0.8M65.84 94.42h0.8M60.55 93.35h0.8M63.04 103.31h0.8M65.48 97.61h0.8M66.96 98.32h0.8M65.8 101.32h0.8M66.62 88.01h0.8M57.7 103.75h0.8M63.48 110.86h0.8M62.86 97.33h0.8M71.23 102.69h0.8M73.18 102.47h0.8M63.01 103.5h0.8M60.19 97.84h0.8M61.32 98.93h0.8M67.77 97.67h0.8M65.56 97.59h0.8M68.27 86.67h0.8M63 100.82h0.8M58.79 104.9h0.8M65.05 106.19h0.8M68.65 103.1h0.8M63.28 94.75h0.8M62.94 97.78h0.8M65.21 97.75h0.8M78.77 92.28h0.8M69.68 97.73h0.8M62.83 104.47h0.8M64.01 94.14h0.8M66 99.06h0.8M54.06 100.96h0.8M58.9 96.4h0.8M66.33 101.45h0.8M62.6 110.48h0.8M66.03 97.04h0.8M65.14 99.41h0.8M53.36 92.39h0.8M57.29 109.97h0.8M63.11 98.67h0.8M61.27 104.74h0.8M64.13 108.23h0.8M67.81 107.94h0.8M63.43 101.81h0.8M61.91 99.19h0.8M55.65 97.2h0.8M59.41 96.86h0.8M69.87 101.26h0.8M69.91 104.14h0.8M68.44 104.84h0.8M61.08 103.87h0.8M62.45 97.44h0.8M69.76 110.43h0.8M59.28 108.37h0.8M68 95.92h0.8M65.32 101.79h0.8M65.81 98.28h0.8M57.81 100.15h0.8M68.15 103.78h0.8M67.18 105.31h0.8M59.22 99.8h0.8M65.64 104.81h0.8M64.75 102.5h0.8M64.64 110.11h0.8M53.48 99.88h0.8M75.93 101.14h0.8M55.18 100.64h0.8M57.09 96.73h0.8M65.08 108.26h0.8M66.23 103.22h0.8M68.9 100.96h0.8M59.87 99.53h0.8M65.62 98.67h0.8M60.79 98.27h0.8M56.77 95.07h0.8M63.56 98.26h0.8M64.18 106.76h0.8M65.44 99.84h0.8M58.35 94.81h0.8M65.81 95.8h0.8M66.07 94.83h0.8M64.65 99.65h0.8M68.79 98.11h0.8M62.21 101.18h0.8M64.26 108.13h0.8M62.76 97.42h0.8M62.46 102.28h0.8M65.13 103.34h0.8M57.34 111.92h0.8M72.85 99.85h0.8" stroke="#7080d8" stroke-width="0.8" opacity="0.5"/>
<path d="M53.93 105.74h0.8M59.4 94.26h0.8M58.05 97.89h0.8M59.54 111.65h0.8M61.48 97.75h0.8M62.65 109.36h0.8M56.78 107.42h0.8M63.11 103.4h0.8M57.95 102.31h0.8M61.89 94.64h0.8M62.78 100.34h0.8M61.12 97.18h0.8M54.85 102.12h0.8M60.79 97.2h0.8M60.03 101.94h0.8M62.18 103.5h0.8M59.64 104.17h0.8M64.04 103.27h0.8M57.92 114.55h0.8M58.26 108.3h0.8M55.52 105.96h0.8M50.36 105.51h0.8M55.82 97.77h0.8M53.23 110.49h0.8M59.44 97.71h0.8M64.11 101.65h0.8M56.76 106.19h0.8M54.17 97.22h0.8M55.49 110.68h0.8M61.21 97.4h0.8M62.05 105.16h0.8M59.69 105.25h0.8M59.39 100.19h0.8M54.94 101.62h0.8M56.76 107.98h0.8M53.9 112.67h0.8M55.87 102.17h0.8M60.37 107.09h0.8M56.86 99.85h0.8M54.63 97.31h0.8M61.85 110.21h0.8M64.29 107.4h0.8M59.12 108.64h0.8M61.2 103.75h0.8M59.19 115.36h0.8M52.29 98.24h0.8M54.76 108.63h0.8M62 103.37h0.8M60.26 104.77h0.8M59.01 102.4h0.8M57.91 104.98h0.8M61.81 115.74h0.8M51.89 107.56h0.8M57.98 109.66h0.8M61.58 108.76h0.8M60.73 100.43h0.8M52.25 113.04h0.8M62.07 100.42h0.8M62.35 108.21h0.8M49.73 109.33h0.8M54.67 110.61h0.8M55.7 101.42h0.8M52.79 103.96h0.8M61.43 101.77h0.8M51.73 115.33h0.8M64.22 108.32h0.8M56.19 99.16h0.8M52.48 107.69h0.8M62.38 99.89h0.8M58 103.66h0.8M57.14 107.42h0.8M65.06 101.93h0.8M60.87 110.25h0.8M57.04 104.28h0.8M53.48 110.2h0.8M56.21 101.85h0.8M58.23 100.86h0.8M54.48 103.56h0.8M63.02 104.01h0.8M59.78 97.93h0.8M51.43 113.76h0.8M56.66 97.58h0.8M57.64 107.93h0.8M52.17 100.75h0.8M58.88 100.55h0.8M60.69 109.64h0.8M59.49 102.93h0.8M57.84 101.95h0.8M57.56 106.53h0.8M56.99 109.7h0.8M66.76 102.36h0.8M59.16 108.97h0.8M60.18 103.85h0.8M56.38 109.85h0.8M60.11 107.44h0.8M55.28 108.05h0.8M60.69 104.11h0.8M60.18 115.49h0.8M51.66 107.93h0.8M54.04 98.41h0.8M57.2 107.64h0.8M58.18 99.37h0.8M53.14 102.31h0.8M58.05 100.99h0.8M52.91 113.48h0.8M55.16 104.24h0.8M56.14 102.17h0.8M58.14 103.56h0.8M60.1 99.27h0.8M52.97 114.43h0.8M57.75 108.72h0.8M62 107.68h0.8M58.12 97.47h0.8M52.58 109.73h0.8M60.29 107.76h0.8M52.38 94.68h0.8M54.42 99.28h0.8M58.54 100.05h0.8M63.36 101.99h0.8M56.1 109.19h0.8M59.11 100.64h0.8M60.79 114.32h0.8M53.84 103.8h0.8M54.35 95.59h0.8M60.13 108.38h0.8M61.31 107.08h0.8M51.16 104.87h0.8M55.73 99.29h0.8M54.24 108.71h0.8M56.99 114.54h0.8M59.6 95.73h0.8M61.04 111.07h0.8M58.11 99.11h0.8M64.01 98.62h0.8M57.71 95.73h0.8M53.73 96.74h0.8M61.71 110.73h0.8M56.62 98.4h0.8M57.79 106.84h0.8M52.8 99.36h0.8M57.65 108.43h0.8M58.25 107.19h0.8M53.74 92.87h0.8M59.06 100.53h0.8M57.58 103.16h0.8M59.64 101.24h0.8M62.93 105.15h0.8M59.81 108.07h0.8M61.54 106.97h0.8M52.02 101.93h0.8" stroke="#4050c0" stroke-width="0.8" opacity="0.5"/>
<path d="M140.43 73.85h0.8M122.67 73.83h0.8M106.23 69.35h0.8M106.15 76.53h0.8M119.99 78.96h0.8M121.82 79.4h0.8M121.27 67.37h0.8M138.85 73.32h0.8M131.33 72.84h0.8M110.51 72.66h0.8M99.61 67.32h0.8M102.81 69.94h0.8M96.39 71.6h0.8M119.18 79.96h0.8M140.27 71.8h0.8M127.15 71.14h0.8M120.37 71.87h0.8M107.57 72.3h0.8M94.67 73.73h0.8M111.02 67.74h0.8M110.05 74.18h0.8M105.65 73.87h0.8M122.85 78.13h0.8M100.03 71.56h0.8M122.05 77.91h0.8M118.61 74.97h0.8M94.78 69.7h0.8M137.9 70.88h0.8M144.82 69.13h0.8M111.17 65.72h0.8M123.77 73.04h0.8M142.85 72.65h0.8M111.54 66.45h0.8M113.86 75.73h0.8M125.22 76.85h0.8M126.94 71.82h0.8M123.36 72.68h0.8M96.59 78.76h0.8M120.18 67.85h0.8M120.33 73.14h0.8M128.78 77.71h0.8M72.94 74.19h0.8M136.18 68.25h0.8M89.28 73.11h0.8M119.65 73.39h0.8M99.63 70.15h0.8M117.7 74.95h0.8M145.37 73.16h0.8M106.65 62.66h0.8M129.89 71.48h0.8M113.48 68.09h0.8M125.18 64.9h0.8M116.5 72.48h0.8M119.16 77.17h0.8M113.63 72.37h0.8M126.89 65.85h0.8M110.94 72.27h0.8M128.27 68.82h0.8M126.16 73.53h0.8M94.34 66.13h0.8M95.1 72.55h0.8M117.87 74.87h0.8M126.41 69.81h0.8M129.87 75.25h0.8M121.56 73.9h0.8M97.11 73.44h0.8M100.64 67.26h0.8M110.14 72.55h0.8M114.26 70.69h0.8M101.08 72.74h0.8M104.69 66.4h0.8M116.3 77.78h0.8M109.37 67.78h0.8M134.28 78.81h0.8M110.91 71.16h0.8M117.95 83.74h0.8M116.86 75.96h0.8M121.18 64.76h0.8M99.65 67.09h0.8M121.03 72.42h0.8M139.94 70.92h0.8M119.3 72.3h0.8M116.94 81.23h0.8M118.97 77.86h0.8M133.09 69.58h0.8M124.56 70.48h0.8M116.53 72.63h0.8M115.29 70.13h0.8M136.72 70.94h0.8M124.8 78.69h0.8M123.74 76.09h0.8M134.38 76.34h0.8M138.99 66.31h0.8M142.34 72.11h0.8M90.6 69.45h0.8M95.53 71.91h0.8M94.2 67.99h0.8M119.13 72.63h0.8M103.86 71.07h0.8M113.62 72.3h0.8M114.9 71.12h0.8M127.27 65.59h0.8M108.1 72.53h0.8M109.4 69.79h0.8M108.89 72.83h0.8M132.4 71.26h0.8M111.26 73.42h0.8M111.61 64.27h0.8M118.75 70.49h0.8M106.99 74.51h0.8M115.62 69.74h0.8M84.55 65.12h0.8M115.19 71.53h0.8M121.13 72.89h0.8M108.31 66.94h0.8M99.68 71.44h0.8M98.93 75.02h0.8M96.44 64.84h0.8M112.29 64.9h0.8M137.78 68.03h0.8M114.27 71.02h0.8M103.52 64.93h0.8M88.95 75.46h0.8M129.29 80.65h0.8M94.53 74.24h0.8M114.8 75.38h0.8M107.81 74.89h0.8M127.54 74.43h0.8M135.25 71.3h0.8M136.61 69.2h0.8M138.34 61.01h0.8M115.19 68.8h0.8M115.02 76.12h0.8M125.05 72.38h0.8M138.82 66.1h0.8M103.6 78.04h0.8M119.59 63.7h0.8M119.77 67.26h0.8M135.68 76.58h0.8M107.34 77.17h0.8M103.33 75.68h0.8M123.11 71.49h0.8M95.1 70.88h0.8M82.95 69.75h0.8M89.09 76.86h0.8M101.47 62.27h0.8M123.18 73.48h0.8M107.9 80.47h0.8M125.83 72.27h0.8M105.97 60.18h0.8M121.72 75.84h0.8M106.72 66.35h0.8M114.42 65.31h0.8M115.1 75.08h0.8M136.14 73.06h0.8M117.75 75h0.8M134.6 70.72h0.8M97.81 68.83h0.8M97.38 68.44h0.8M113.31 73.37h0.8M117.19 72.28h0.8M110 73.69h0.8M127.4 75.04h0.8M135.96 70.84h0.8M111.48 78.78h0.8M117.81 73.65h0.8M110.29 75.88h0.8M109.37 67.97h0.8M114.15 70.23h0.8M126.68 70.49h0.8M116.73 71.13h0.8M119.76 69.48h0.8M130.47 66.3h0.8M109.61 69.17h0.8M124.07 72.16h0.8M121.79 70.68h0.8M104.95 67.52h0.8M110.32 69.86h0.8M118.92 73.42h0.8M128.68 71.57h0.8M104.52 67.76h0.8M115.86 73.44h0.8M142.27 72.73h0.8M139.61 79.49h0.8M100.32 76.84h0.8M130.91 77.38h0.8M114.86 75.82h0.8M108.26 71.72h0.8M115.27 79.13h0.8M111.99 75.82h0.8M115.93 69.16h0.8M118.4 74.64h0.8M105.03 74.54h0.8M105.03 68.49h0.8M118.08 71.06h0.8M101.24 65.48h0.8M115.33 72.97h0.8M108.57 72.75h0.8M93.62 73.57h0.8M120.83 73.11h0.8" stroke="#1e2c98" stroke-width="0.8" opacity="0.4"/>
<g transform="translate(104 75.6) rotate(0)" filter="url(#bl06)">
<ellipse cx="0" cy="0" rx="29" ry="6.6" fill="#3a86dc"/>
<ellipse cx="0" cy="0" rx="25.83" ry="5.88" fill="#42b6dc"/>
<ellipse cx="0" cy="0" rx="22.69" ry="5.16" fill="#4cc8a8"/>
<ellipse cx="0" cy="0" rx="19.59" ry="4.46" fill="#66cc66"/>
<ellipse cx="0" cy="0" rx="16.53" ry="3.76" fill="#a8d438"/>
<ellipse cx="0" cy="0" rx="13.53" ry="3.08" fill="#e8d424"/>
<ellipse cx="0" cy="0" rx="10.58" ry="2.41" fill="#f4a020"/>
<ellipse cx="0" cy="0" rx="7.71" ry="1.76" fill="#f05a1a"/>
<ellipse cx="0" cy="0" rx="4.94" ry="1.12" fill="#e02a16"/>
</g>
<g transform="translate(80.5 83) rotate(0)" filter="url(#bl06)">
<ellipse cx="0" cy="0" rx="14" ry="2.8" fill="#3a86dc"/>
<ellipse cx="0" cy="0" rx="12.06" ry="2.41" fill="#42b6dc"/>
<ellipse cx="0" cy="0" rx="10.02" ry="2" fill="#4cc8a8"/>
<ellipse cx="0" cy="0" rx="7.82" ry="1.56" fill="#66cc66"/>
<ellipse cx="0" cy="0" rx="5.39" ry="1.08" fill="#a8d438"/>
</g>
<g transform="translate(83.5 90.4) rotate(0)" filter="url(#bl06)">
<ellipse cx="0" cy="0" rx="12" ry="4.6" fill="#3a86dc"/>
<ellipse cx="0" cy="0" rx="10.34" ry="3.96" fill="#42b6dc"/>
<ellipse cx="0" cy="0" rx="8.59" ry="3.29" fill="#4cc8a8"/>
<ellipse cx="0" cy="0" rx="6.7" ry="2.57" fill="#66cc66"/>
<ellipse cx="0" cy="0" rx="4.62" ry="1.77" fill="#a8d438"/>
</g>
<path d="M73.61 84.79h0.7M95.9 94.69h0.7M100.28 86.54h0.7M70.29 92.62h0.7M127.18 79.06h0.7M111.17 87.08h0.7M90.6 71.14h0.7M144.69 65.35h0.7M101.09 80.24h0.7M126.33 79.77h0.7M93.18 90.1h0.7M105.68 78.81h0.7M112.42 87.92h0.7M121.63 78.9h0.7M90.62 80.09h0.7M66.9 86.54h0.7M104.25 98.17h0.7M82.25 87.87h0.7M126.22 82.86h0.7M93.89 85.34h0.7M71.35 74.14h0.7M125.42 85.73h0.7M89.77 71.61h0.7M95.52 95.7h0.7M57.59 75.11h0.7M125.17 98.26h0.7M138.42 78.49h0.7M109.93 76.52h0.7M107.56 80.37h0.7M97.86 97.36h0.7M102.11 81.6h0.7M93.67 86.65h0.7M76.69 86.06h0.7M109.91 99.52h0.7M30.47 72.16h0.7M55.08 92.71h0.7M164.82 85.93h0.7M95.62 95.32h0.7M19.17 82.22h0.7M-0.93 85.54h0.7M76.84 79.18h0.7M102.14 78.2h0.7M125.13 83.97h0.7M103.36 109.21h0.7M78.63 93.2h0.7M67.36 96.39h0.7M120.73 85.39h0.7M121.54 99.97h0.7M133.03 84.01h0.7M90.37 94.99h0.7M48.21 78.02h0.7M106.43 89.65h0.7M147.37 101.45h0.7M101.65 88.38h0.7M52.79 82.16h0.7M99.77 81.76h0.7M93.79 90.03h0.7M63.72 78.38h0.7M39.18 95.34h0.7M60.65 67.14h0.7M114.88 81.88h0.7M120.69 80.35h0.7M155.11 91.07h0.7M96.47 85.14h0.7M85.89 92h0.7M151.34 79.82h0.7M59.71 89.91h0.7M123.66 69.25h0.7M71.48 74.15h0.7M108.67 89h0.7M70.25 72.87h0.7M112.25 63.69h0.7M111.08 82.47h0.7M148.87 93.81h0.7M74.83 81.29h0.7M83.8 76.82h0.7M94.42 93.52h0.7M47.38 81.75h0.7M136.17 91.32h0.7M67.92 76.05h0.7M66.71 68.17h0.7M126.01 84.69h0.7M71.38 69.87h0.7M80.65 78.96h0.7M142.87 79.47h0.7M95.41 94.55h0.7M111.73 82.22h0.7M27.56 97.8h0.7M109.66 79.73h0.7M89.38 74.6h0.7M65.48 69.4h0.7M106.81 89.1h0.7M97.16 91.67h0.7M107.82 85.2h0.7M65.94 89.81h0.7M127 90.21h0.7M128.8 79.35h0.7M63.13 96.3h0.7M74.8 86.39h0.7M86.38 84.22h0.7M84.03 78.71h0.7M39.48 102.71h0.7M98 65.11h0.7M65.3 72.95h0.7M70.15 59h0.7M108.93 100.09h0.7M84.76 91.3h0.7M109.68 71.79h0.7M127.86 67.47h0.7M75.08 80.48h0.7M128.95 85.16h0.7M88.35 76.12h0.7M94.65 84.42h0.7M113.48 97.67h0.7M113.68 84.18h0.7M87.51 99.69h0.7M97.91 83.84h0.7M144.78 99.36h0.7M108.72 82.94h0.7M73.37 94.45h0.7M78.69 93.4h0.7M69 85.03h0.7M103.82 85.42h0.7M98.87 87.73h0.7M59.04 73.14h0.7M87.68 101.66h0.7M88.35 74.94h0.7M72.64 84.33h0.7M126.69 78.47h0.7M108.45 85.83h0.7M81.56 74.77h0.7M87.54 76.94h0.7M107.76 66.79h0.7M125.07 91.41h0.7M108.97 98.63h0.7M109.68 67.31h0.7M93.56 88.4h0.7M71.97 72.96h0.7M104.68 88.99h0.7M79.55 81.63h0.7M77.16 78.46h0.7M90.31 94.48h0.7M44.87 80.68h0.7M139.26 87.1h0.7M96.51 92.15h0.7M62.64 72.2h0.7M43.44 69.78h0.7M99.28 92.29h0.7M79.82 77.37h0.7M103.82 89.98h0.7M99.51 65.44h0.7M76.07 59.32h0.7M99.11 75.72h0.7M72.83 98.65h0.7M130.64 88.7h0.7M100.06 85.69h0.7M74.88 83.51h0.7M147.87 75.47h0.7M72.66 85.58h0.7M118.07 92.12h0.7M63.77 82.73h0.7M84.27 72h0.7M94.26 79.32h0.7M118.85 88.22h0.7M69.23 84.79h0.7M81.59 77.82h0.7M77.8 94.35h0.7M79.94 67.33h0.7M69.4 91.85h0.7M154.81 73.75h0.7M81.63 80.8h0.7M50.94 87.91h0.7M90.52 86.72h0.7M157.32 81.41h0.7M115.16 92.11h0.7M73.46 78.24h0.7M137.44 90.96h0.7M96.19 73.37h0.7M117.77 89.13h0.7M156.11 98.34h0.7M115.46 86.61h0.7M93.82 78.65h0.7M101 86.38h0.7M111.02 94.56h0.7M101.11 78.72h0.7M115.55 99.1h0.7M67.66 88.08h0.7M107.99 89.22h0.7M106.73 83.12h0.7M89.04 100.4h0.7M142.52 70.38h0.7M18 88.26h0.7M72.34 78.98h0.7M45.53 87.44h0.7M90.41 78.76h0.7M118.21 107.64h0.7M135.01 95.41h0.7M80 90.4h0.7M90.91 95.25h0.7M108.98 83.66h0.7M108.12 77.03h0.7M115.11 98.62h0.7M81.48 89.41h0.7M43.45 93.11h0.7M117.59 74.08h0.7M142.83 85.11h0.7M41.58 70.7h0.7M117.5 81.36h0.7M124.17 68.94h0.7M89.13 93.5h0.7M72.25 90.61h0.7M81.54 87.35h0.7M101.41 105.7h0.7M55.92 91.57h0.7M130.25 73.08h0.7M94.38 106.44h0.7M122.61 55.19h0.7M85.09 67.39h0.7M100.84 76.95h0.7M75.64 75.87h0.7M100.58 79.47h0.7M65.65 81.8h0.7M103.85 75.69h0.7M124.38 67.87h0.7M103.89 80.22h0.7M137.86 77.75h0.7M72.67 70.97h0.7M149.88 90h0.7M60.39 80.74h0.7M64.1 98.8h0.7M104.19 64.22h0.7M98.12 92.89h0.7M92.06 88.6h0.7M88.79 86.03h0.7M98.21 77.13h0.7M102.14 85.61h0.7M90.89 77.36h0.7M62.45 86.39h0.7M116.08 60.51h0.7M76.41 97.16h0.7M118.7 77.07h0.7M131.42 74.41h0.7M68.98 102.85h0.7M79.28 81.9h0.7M43.91 74.18h0.7M57.72 82.66h0.7M38.5 94.33h0.7M81.63 78.11h0.7M73.51 91.23h0.7M136.74 80.04h0.7M139.07 99.66h0.7M131.15 86.91h0.7M48.54 90.56h0.7M80.08 85.89h0.7M37.02 81.25h0.7M98.81 74.89h0.7M100.58 100.28h0.7M98.74 77.34h0.7M161.6 63.05h0.7M65.17 87.97h0.7M74.74 61.68h0.7M99.6 92.09h0.7M68.8 98.27h0.7M106.6 95.6h0.7M47.42 83.97h0.7M138.72 103.63h0.7M130.5 84h0.7M97.35 77.89h0.7M124.1 77.23h0.7M95.61 63.89h0.7M48.03 101.34h0.7M93.73 86.1h0.7M27.81 83.68h0.7M152.56 69.42h0.7M22.48 82.43h0.7M76.46 81.95h0.7M55.23 70.77h0.7M55.84 90.25h0.7M90.62 92.02h0.7M60.42 89.76h0.7M79.05 84.87h0.7M119.34 84.32h0.7M81.71 67.75h0.7M93.87 91.66h0.7M73.47 83.35h0.7M40.15 70.95h0.7M103.83 96.67h0.7M82.89 67.65h0.7M80.85 68.7h0.7M83.92 102.9h0.7M100.79 82.51h0.7M122.46 80.28h0.7M101.76 85.96h0.7M105.1 69.6h0.7M112.89 92.65h0.7M24.9 57.41h0.7M65.66 98.63h0.7M92.61 90.66h0.7M108.32 92.72h0.7M73.22 78.25h0.7M103.07 89.97h0.7M108.92 87.33h0.7M77.72 94.85h0.7M105.9 94.45h0.7M17.07 93.92h0.7M20.06 86.08h0.7M72.39 85.19h0.7M77.95 80.95h0.7M97.69 87.41h0.7M68.41 59.09h0.7M68.96 89.33h0.7M67.09 88.22h0.7M81.11 74.71h0.7M126.53 100.34h0.7M88.94 83.5h0.7M120.35 70.91h0.7M66.18 95.17h0.7M118.66 79.13h0.7M68.98 87.46h0.7M50.31 79.07h0.7M85.13 59.69h0.7M109.5 91.55h0.7M123.63 69.79h0.7M53.91 75.94h0.7M53.28 104.32h0.7M63.01 80.9h0.7M98.12 88.51h0.7M135.08 73.22h0.7M118.14 85.48h0.7M57.18 85.49h0.7M50.33 100.07h0.7M70.3 93.98h0.7M130.69 77.87h0.7M65.3 85.3h0.7M60.8 92.93h0.7M97.22 76.43h0.7M71.59 91.2h0.7M48.83 100.77h0.7M68.62 82.05h0.7M64.45 100.13h0.7M116.55 96.93h0.7M111.47 84.89h0.7M142.55 90.61h0.7M105.02 89.74h0.7M113.96 86.77h0.7M87.02 68.13h0.7M153.46 71.06h0.7M27.68 76.9h0.7M149.76 96.15h0.7M74.02 86.64h0.7M91.27 64.22h0.7M82.01 86.91h0.7M127.04 72.01h0.7M24.51 68.3h0.7M101.89 84.8h0.7M96.47 85.48h0.7M81.04 70.38h0.7M105.58 87.86h0.7M109.29 96.44h0.7M54.9 60.65h0.7M38.58 105.35h0.7M64.62 87.99h0.7M91.55 91.28h0.7M188.23 78.84h0.7M86.9 78.03h0.7M99.35 89.2h0.7M62.92 97.16h0.7M126.38 88.45h0.7M88.69 81.63h0.7M42.7 90.56h0.7M62.77 78.98h0.7M121.88 74.81h0.7M76.35 92.58h0.7M147.7 77.1h0.7M125.11 77.46h0.7M103.64 88.84h0.7M57.85 94.25h0.7M145.97 84.52h0.7M100.09 72.28h0.7M145.63 84.63h0.7M53.71 91.64h0.7M48.16 77.14h0.7M28.06 97.76h0.7M158.31 77.65h0.7M72.4 78.22h0.7M75.04 89.54h0.7M135.75 73.92h0.7M105.21 65.97h0.7M137.71 83.12h0.7M70.99 99.31h0.7M88.82 97.7h0.7M124.23 100.57h0.7M68 84.57h0.7M103.05 82.06h0.7M137.68 76.86h0.7M122.07 97.63h0.7M33.4 74.31h0.7M64.89 78.54h0.7M103.71 82.26h0.7M94.37 79.41h0.7M89.54 88.84h0.7M114.36 76.19h0.7M88.58 76.38h0.7M86.65 69.65h0.7M120.63 90.71h0.7M88.33 77.16h0.7M78.31 77.35h0.7M45.69 100.33h0.7M190.69 71.71h0.7M56.99 89.78h0.7M110.17 68.27h0.7M34.37 89.42h0.7M32.25 98.23h0.7M77.15 84.86h0.7M91.91 78.4h0.7M87.74 81h0.7M129.33 83.08h0.7M91.04 78.71h0.7M72.97 76.63h0.7M92.31 102.37h0.7M125.46 86.37h0.7M142.07 94.14h0.7M98.22 82.35h0.7M59.08 86.49h0.7M82.52 68.15h0.7M53.46 103.36h0.7M98.43 88.98h0.7M98 79.35h0.7M105.84 94.84h0.7M82.74 89.12h0.7M122.76 79.17h0.7M97.09 76.6h0.7M110.09 80.31h0.7M126.39 76.36h0.7M142.67 80.89h0.7M66.8 74.96h0.7M111.88 75.44h0.7M146.14 96.82h0.7M107.54 69.78h0.7M91.28 76.74h0.7M37.65 88.25h0.7M158.05 78.64h0.7M116.28 96.84h0.7M63.17 80.6h0.7M100.05 88.72h0.7M57.63 86.16h0.7M88.79 93.51h0.7M44.08 78.36h0.7M76.9 80.83h0.7M113.67 77.72h0.7M174.14 76.93h0.7M117.2 94.2h0.7M120.94 81.96h0.7M67.11 81.45h0.7M111.97 85.21h0.7M109.46 89.75h0.7M65.48 74.65h0.7M135.24 79.14h0.7M44.47 102.59h0.7M66.99 74.66h0.7M121.02 72.68h0.7M65.87 94.48h0.7M67.4 109.08h0.7M94.93 110.84h0.7M95.88 84.55h0.7M72.76 81.77h0.7M76.97 83.76h0.7M115.15 71.29h0.7M64.46 63.06h0.7M137.12 83.25h0.7M91.59 83.42h0.7M122.14 87.21h0.7M117.51 82.33h0.7M88.37 83.44h0.7M36.13 94.9h0.7M44.67 74.06h0.7M112.13 84.55h0.7M116.38 101.06h0.7M147.86 97.83h0.7M85.23 104.49h0.7M65.6 83.14h0.7M121.9 81.86h0.7M88.37 80.47h0.7M132.94 59.33h0.7M130.18 94.6h0.7M89.83 89.61h0.7M62.95 95.09h0.7M183.81 74.81h0.7M133.89 83.44h0.7M81.86 79.13h0.7M86.31 71.48h0.7M51.27 100.62h0.7M91.47 89.52h0.7M101.31 88.77h0.7M46.23 74.51h0.7M111 93.98h0.7M57.66 78.22h0.7M59.94 90.53h0.7M102.33 84.33h0.7M72.5 87.43h0.7" stroke="#1c2a90" stroke-width="0.7" opacity="0.35"/>
</g>
<g clip-path="url(#c1)">
<polygon points="51,71 59.2,63.2 140,57 140,78.75 55.3,78.4" fill="none" stroke="#333" stroke-width="0.7" stroke-linejoin="round"/>
</g>
<polygon points="55.3,78.4 111,78.7 109.8,84.3 55.3,87.4" fill="none" stroke="#222" stroke-width="0.7" stroke-linejoin="round"/>
<polygon points="55.3,87.4 109.8,84.3 96.3,102.8 63.1,100.9" fill="none" stroke="#333" stroke-width="0.7" stroke-linejoin="round"/>
<rect x="50.7" y="53.5" width="82.6" height="81.1" fill="none" stroke="#7a7a7a" stroke-width="0.8"/>
<line x1="49.1" y1="61.2" x2="50.7" y2="61.2" stroke="#444" stroke-width="0.8"/>
<text x="45.9" y="63.4" font-size="6.1" text-anchor="end" font-weight="normal" fill="#1a1a1a" stroke="#1a1a1a" stroke-width="0.16">10<tspan dy="-2.44" font-size="3.54" stroke-width="0.04">5</tspan></text>
<line x1="49.1" y1="79.6" x2="50.7" y2="79.6" stroke="#444" stroke-width="0.8"/>
<text x="45.9" y="81.8" font-size="6.1" text-anchor="end" font-weight="normal" fill="#1a1a1a" stroke="#1a1a1a" stroke-width="0.16">10<tspan dy="-2.44" font-size="3.54" stroke-width="0.04">4</tspan></text>
<line x1="49.1" y1="100.2" x2="50.7" y2="100.2" stroke="#444" stroke-width="0.8"/>
<text x="45.9" y="102.4" font-size="6.1" text-anchor="end" font-weight="normal" fill="#1a1a1a" stroke="#1a1a1a" stroke-width="0.16">10<tspan dy="-2.44" font-size="3.54" stroke-width="0.04">3</tspan></text>
<line x1="49.1" y1="114" x2="50.7" y2="114" stroke="#444" stroke-width="0.8"/>
<text x="44.3" y="116.2" font-size="6.1" text-anchor="end" font-weight="normal" fill="#1a1a1a" stroke="#1a1a1a" stroke-width="0.16">0</text>
<line x1="49.1" y1="128.5" x2="50.7" y2="128.5" stroke="#444" stroke-width="0.8"/>
<text x="45.9" y="130.7" font-size="6.1" text-anchor="end" font-weight="normal" fill="#1a1a1a" stroke="#1a1a1a" stroke-width="0.16">&#8722;10<tspan dy="-2.44" font-size="3.54" stroke-width="0.04">3</tspan></text>
<line x1="49.9" y1="64.88" x2="50.7" y2="64.88" stroke="#666" stroke-width="0.5"/>
<line x1="49.9" y1="68.56" x2="50.7" y2="68.56" stroke="#666" stroke-width="0.5"/>
<line x1="49.9" y1="72.24" x2="50.7" y2="72.24" stroke="#666" stroke-width="0.5"/>
<line x1="49.9" y1="75.92" x2="50.7" y2="75.92" stroke="#666" stroke-width="0.5"/>
<line x1="49.9" y1="83.72" x2="50.7" y2="83.72" stroke="#666" stroke-width="0.5"/>
<line x1="49.9" y1="87.84" x2="50.7" y2="87.84" stroke="#666" stroke-width="0.5"/>
<line x1="49.9" y1="91.96" x2="50.7" y2="91.96" stroke="#666" stroke-width="0.5"/>
<line x1="49.9" y1="96.08" x2="50.7" y2="96.08" stroke="#666" stroke-width="0.5"/>
<line x1="49.9" y1="102.96" x2="50.7" y2="102.96" stroke="#666" stroke-width="0.5"/>
<line x1="49.9" y1="105.72" x2="50.7" y2="105.72" stroke="#666" stroke-width="0.5"/>
<line x1="49.9" y1="108.48" x2="50.7" y2="108.48" stroke="#666" stroke-width="0.5"/>
<line x1="49.9" y1="111.24" x2="50.7" y2="111.24" stroke="#666" stroke-width="0.5"/>
<line x1="49.9" y1="116.9" x2="50.7" y2="116.9" stroke="#666" stroke-width="0.5"/>
<line x1="49.9" y1="119.8" x2="50.7" y2="119.8" stroke="#666" stroke-width="0.5"/>
<line x1="49.9" y1="122.7" x2="50.7" y2="122.7" stroke="#666" stroke-width="0.5"/>
<line x1="49.9" y1="125.6" x2="50.7" y2="125.6" stroke="#666" stroke-width="0.5"/>
<line x1="51" y1="134.6" x2="51" y2="136.2" stroke="#444" stroke-width="0.8"/>
<text x="51" y="144.4" font-size="6.1" text-anchor="middle" font-weight="normal" fill="#1a1a1a" stroke="#1a1a1a" stroke-width="0.16">0</text>
<line x1="66.5" y1="134.6" x2="66.5" y2="136.2" stroke="#444" stroke-width="0.8"/>
<text x="66.5" y="144.4" font-size="6.1" text-anchor="middle" font-weight="normal" fill="#1a1a1a" stroke="#1a1a1a" stroke-width="0.16">50k</text>
<line x1="82" y1="134.6" x2="82" y2="136.2" stroke="#444" stroke-width="0.8"/>
<text x="82" y="144.4" font-size="6.1" text-anchor="middle" font-weight="normal" fill="#1a1a1a" stroke="#1a1a1a" stroke-width="0.16">100k</text>
<line x1="97.5" y1="134.6" x2="97.5" y2="136.2" stroke="#444" stroke-width="0.8"/>
<text x="97.5" y="144.4" font-size="6.1" text-anchor="middle" font-weight="normal" fill="#1a1a1a" stroke="#1a1a1a" stroke-width="0.16">150k</text>
<line x1="113" y1="134.6" x2="113" y2="136.2" stroke="#444" stroke-width="0.8"/>
<text x="113" y="144.4" font-size="6.1" text-anchor="middle" font-weight="normal" fill="#1a1a1a" stroke="#1a1a1a" stroke-width="0.16">200k</text>
<line x1="128.5" y1="134.6" x2="128.5" y2="136.2" stroke="#444" stroke-width="0.8"/>
<text x="128.5" y="144.4" font-size="6.1" text-anchor="middle" font-weight="normal" fill="#1a1a1a" stroke="#1a1a1a" stroke-width="0.16">250k</text>
<line x1="54.1" y1="134.6" x2="54.1" y2="135.4" stroke="#666" stroke-width="0.5"/>
<line x1="57.2" y1="134.6" x2="57.2" y2="135.4" stroke="#666" stroke-width="0.5"/>
<line x1="60.3" y1="134.6" x2="60.3" y2="135.4" stroke="#666" stroke-width="0.5"/>
<line x1="63.4" y1="134.6" x2="63.4" y2="135.4" stroke="#666" stroke-width="0.5"/>
<line x1="69.6" y1="134.6" x2="69.6" y2="135.4" stroke="#666" stroke-width="0.5"/>
<line x1="72.7" y1="134.6" x2="72.7" y2="135.4" stroke="#666" stroke-width="0.5"/>
<line x1="75.8" y1="134.6" x2="75.8" y2="135.4" stroke="#666" stroke-width="0.5"/>
<line x1="78.9" y1="134.6" x2="78.9" y2="135.4" stroke="#666" stroke-width="0.5"/>
<line x1="85.1" y1="134.6" x2="85.1" y2="135.4" stroke="#666" stroke-width="0.5"/>
<line x1="88.2" y1="134.6" x2="88.2" y2="135.4" stroke="#666" stroke-width="0.5"/>
<line x1="91.3" y1="134.6" x2="91.3" y2="135.4" stroke="#666" stroke-width="0.5"/>
<line x1="94.4" y1="134.6" x2="94.4" y2="135.4" stroke="#666" stroke-width="0.5"/>
<line x1="100.6" y1="134.6" x2="100.6" y2="135.4" stroke="#666" stroke-width="0.5"/>
<line x1="103.7" y1="134.6" x2="103.7" y2="135.4" stroke="#666" stroke-width="0.5"/>
<line x1="106.8" y1="134.6" x2="106.8" y2="135.4" stroke="#666" stroke-width="0.5"/>
<line x1="109.9" y1="134.6" x2="109.9" y2="135.4" stroke="#666" stroke-width="0.5"/>
<line x1="116.1" y1="134.6" x2="116.1" y2="135.4" stroke="#666" stroke-width="0.5"/>
<line x1="119.2" y1="134.6" x2="119.2" y2="135.4" stroke="#666" stroke-width="0.5"/>
<line x1="122.3" y1="134.6" x2="122.3" y2="135.4" stroke="#666" stroke-width="0.5"/>
<line x1="125.4" y1="134.6" x2="125.4" y2="135.4" stroke="#666" stroke-width="0.5"/>
<ellipse cx="49.9" cy="114.6" rx="0.8" ry="1.5" fill="#111"/>
<text x="119.4" y="58" font-size="3.9" text-anchor="middle" font-weight="normal" fill="#2a2a2a">Granulocytes</text>
<text x="119.8" y="62.3" font-size="3.9" text-anchor="middle" font-weight="normal" fill="#2a2a2a">51.8</text>
<text x="122.3" y="101" font-size="3.9" text-anchor="middle" font-weight="normal" fill="#2a2a2a">Monocytes</text>
<text x="122.3" y="105.9" font-size="3.9" text-anchor="middle" font-weight="normal" fill="#2a2a2a">16.8</text>
<text x="120.2" y="112.2" font-size="3.9" text-anchor="middle" font-weight="normal" fill="#2a2a2a">Lymphocytes</text>
<text x="120.4" y="116.8" font-size="3.9" text-anchor="middle" font-weight="normal" fill="#2a2a2a">22.1</text>
<text x="89.7" y="155.79" font-size="8.3" text-anchor="middle" font-weight="bold" fill="#222" textLength="15.5" lengthAdjust="spacingAndGlyphs">FSC-A</text>
<text x="26.2" y="96.79" font-size="8.3" text-anchor="middle" font-weight="bold" fill="#222" textLength="15.6" lengthAdjust="spacingAndGlyphs" transform="rotate(-90 26.2 93.8)">SSC-A</text>
<path d="M112.6 51.5 L112.6 25 L138.5 25" fill="none" stroke="#3a6ea8" stroke-width="0.9"/>
<polygon points="138.5,25 135.1,23.3 135.1,26.7" fill="#3a6ea8"/>
<path d="M112.6 149.5 L112.6 175.8 L138.8 175.8" fill="none" stroke="#3a6ea8" stroke-width="0.9"/>
<polygon points="138.8,175.8 135.4,174.1 135.4,177.5" fill="#3a6ea8"/>
<clipPath id="c2"><rect x="167.4" y="6.0" width="76.0" height="71.0"/></clipPath>
<g clip-path="url(#c2)">
<path d="M220.09 31.32h0.7M223.36 28.64h0.7M231.95 25.25h0.7M214.83 40.53h0.7M220.52 31.06h0.7M208.71 38.47h0.7M209.82 44.24h0.7M232.51 20.52h0.7M223.24 32.14h0.7M229.86 26.51h0.7M235.05 22.93h0.7M213.74 40.87h0.7M196.33 54.61h0.7M222.18 33.88h0.7M219.25 37.37h0.7M233.34 19.07h0.7M215.78 38.57h0.7M226.34 28.67h0.7M227.67 23.02h0.7M231.02 27.9h0.7M233.26 23.39h0.7M219.2 35.97h0.7M217.57 30.75h0.7M214.63 38.6h0.7M214.07 36.1h0.7M217.97 34.48h0.7M221.64 32.26h0.7M224.45 33.23h0.7M223.1 32.48h0.7M203.35 38.97h0.7M217.97 38.01h0.7M216.43 35.02h0.7M209.59 46.27h0.7M215.92 38.4h0.7M233.66 23.4h0.7M244.12 11.74h0.7M232.11 25.33h0.7M214.26 39.23h0.7M213.41 36.39h0.7M222.82 28.75h0.7M237.24 15.89h0.7M215.49 38.27h0.7M215.69 37.96h0.7M212.3 36.05h0.7M193.74 53.2h0.7M237.57 19.57h0.7M221.82 30.7h0.7M219.99 34.92h0.7M205.21 44.53h0.7M213.84 43.68h0.7M211.97 45.08h0.7M220.72 42.43h0.7M220.24 33.8h0.7M236.52 21.97h0.7M228.98 22.21h0.7M235.63 25.48h0.7M219.13 33.06h0.7M211.35 45.11h0.7M224.07 30.26h0.7M210.86 47.58h0.7M230.07 24.76h0.7M234.77 17.4h0.7M228.5 22.89h0.7M235.22 19.27h0.7M233.03 20.77h0.7M227.06 31.39h0.7M211.78 41.63h0.7M213.7 42.44h0.7M214.1 37.96h0.7M220.84 37.06h0.7M210.12 42.71h0.7M216.66 35.06h0.7M212.54 40.08h0.7M220.45 28.29h0.7M221.45 28.61h0.7M224.97 37.1h0.7M210.82 41.94h0.7M219.99 37.21h0.7M213.08 34.13h0.7M204.53 48.42h0.7M225.42 32.61h0.7M216.53 39.27h0.7M212.09 45.38h0.7M219.13 32.41h0.7M225.77 34.57h0.7M210.11 38.63h0.7M208.5 40.37h0.7M221.06 34.13h0.7M219.62 34.9h0.7M232.85 21.36h0.7M204.14 40.49h0.7M222.38 29.47h0.7M219.09 36.09h0.7M223.19 25.75h0.7M211.17 42.1h0.7M221.42 36.48h0.7M212.33 33.86h0.7M230.44 19h0.7M211.55 42.82h0.7M214.14 47.55h0.7M224.37 31.76h0.7M220.17 41.21h0.7M225.42 26.61h0.7M231.23 18.11h0.7M215.38 39.03h0.7M220.83 29.93h0.7M239.9 20.93h0.7M211.9 42.45h0.7M213.68 38.14h0.7M231.47 23.99h0.7M220.04 34.21h0.7M210.85 46.25h0.7M215.37 42.47h0.7M215.47 36.45h0.7M236.78 19.44h0.7M213.45 37.99h0.7M230.43 30.8h0.7M226.73 26.52h0.7M208.21 42.25h0.7M220.17 34.57h0.7" stroke="#8090d8" stroke-width="0.7" opacity="0.35"/>
<path d="M187.13 65.36h0.7M183.51 41.43h0.7M200.97 55.77h0.7M190.32 61.54h0.7M178.1 69.61h0.7M221.24 73.43h0.7M196.43 73.61h0.7M195.64 65.95h0.7M192.61 52.33h0.7M201.29 29.04h0.7M192.5 70.61h0.7M159.94 54.62h0.7M206.06 53.93h0.7M197.33 66.64h0.7M199.03 27.3h0.7M183.67 46.45h0.7M196.73 44.63h0.7M193.74 70.02h0.7M159.82 63.82h0.7M206.24 57.22h0.7M195.18 50.76h0.7M199.36 52.91h0.7M186.32 59.37h0.7M185.09 49.51h0.7M190.7 36.19h0.7" stroke="#7080d0" stroke-width="0.7" opacity="0.35"/>
<ellipse cx="191.5" cy="33" rx="8.5" ry="4.6" transform="rotate(-62 191.5 33)" fill="#5a6cd0" opacity="0.55" filter="url(#bl09)"/>
<path d="M192.55 30.68h0.9M189.04 37.23h0.9M191.82 39.72h0.9M196.72 33.32h0.9M191.88 35.89h0.9M187.79 35.63h0.9M192.19 33.79h0.9M192.75 29.28h0.9M195.71 30h0.9M189.4 36.04h0.9M193.3 38.3h0.9M192.29 36.03h0.9M192.76 29.33h0.9M191.27 35.19h0.9M187.31 34.45h0.9M190.32 36.95h0.9M195.6 34.27h0.9M188.97 40.32h0.9M191.67 38.56h0.9M193.13 30.57h0.9M193.61 27.14h0.9M188.24 33.78h0.9M190.45 35.55h0.9M195.52 31.95h0.9M189.43 33.17h0.9M189.94 33.75h0.9M189.73 34.27h0.9M189.68 36.16h0.9M190.14 34.7h0.9M189.09 38.27h0.9M193.99 31.61h0.9M188.02 33.74h0.9M186.48 36.48h0.9M189.59 35.02h0.9M189.44 40.28h0.9M187.05 37.9h0.9M191.83 36.58h0.9M194.36 25.84h0.9M190.14 33.57h0.9M190.75 33.55h0.9M194.04 22.71h0.9M189.63 32.52h0.9M191.11 31.11h0.9M190.36 29.68h0.9M196.07 25.48h0.9M189.52 40.27h0.9M188.16 33.44h0.9M191.28 30.8h0.9M191.79 29.68h0.9M193.58 29.85h0.9M192.53 31.86h0.9M190.03 33.94h0.9M193.87 32.13h0.9M195.39 36.99h0.9M192.4 25.52h0.9M193.47 28.94h0.9M190.3 31.27h0.9M193 26.03h0.9M189.83 32.49h0.9M197.89 27.31h0.9M187.99 37.33h0.9M191.31 31.19h0.9M188.56 33.1h0.9M189.71 30.87h0.9M198.13 32.61h0.9M194.3 36.02h0.9M190.83 30.89h0.9M188.83 33.2h0.9M193.19 33.36h0.9M192.73 29.29h0.9M189.02 37.28h0.9M195.34 27.19h0.9M187.05 30.93h0.9M191.8 35.19h0.9M192.48 37.96h0.9M188.59 34.11h0.9M190.18 35.02h0.9M192.27 28.72h0.9M187.88 39.43h0.9M195.73 32.8h0.9M192.41 38.74h0.9M193.77 31.03h0.9M188.18 34.83h0.9M191.59 37.52h0.9M194.15 33.38h0.9M195.08 26.38h0.9M195.4 35.3h0.9M188.04 37.27h0.9M190 33.93h0.9M190.04 31.55h0.9M190.93 27.26h0.9M186.42 34.11h0.9M190.01 38.77h0.9M192.32 30.49h0.9M194.43 30.61h0.9M190.31 35.07h0.9M196.4 33.88h0.9M191.43 35.02h0.9M195.1 32.36h0.9M194.56 32.64h0.9M188.9 36.6h0.9M187.65 40.01h0.9M196.53 24.77h0.9M192.24 32.97h0.9M189.05 31.02h0.9M189.81 35.34h0.9M190.05 31.44h0.9M189.79 32.58h0.9M187.59 37.09h0.9M191.69 36.86h0.9M195.31 28.76h0.9M189.95 33.17h0.9M187.38 38.15h0.9M196.94 28.57h0.9M191.44 31.92h0.9M192.4 33.46h0.9M192.39 33.51h0.9M190.11 35.87h0.9M193.06 35.47h0.9M191.79 38.96h0.9M190.31 32.76h0.9M191.81 33.06h0.9M191.94 34.32h0.9M186.89 33.25h0.9M192.81 30.44h0.9M195.54 27.36h0.9M190.2 41.66h0.9M191.32 36.11h0.9M198.07 26.12h0.9M189.21 36.89h0.9M189.78 39.6h0.9M190.48 29.83h0.9M194.33 32.38h0.9M191.7 29.33h0.9M187.86 34.3h0.9M189.66 38.06h0.9M194.28 34.29h0.9M191.38 31.66h0.9M191.94 39.9h0.9M191.77 32.37h0.9M187.41 35.52h0.9M190.74 29.63h0.9M193.95 31.57h0.9M187.43 32.62h0.9M195.21 33.05h0.9M187.32 34.63h0.9M193.92 29.2h0.9M192.84 36.62h0.9M191.91 34.51h0.9M189.19 33.65h0.9M190.17 31.27h0.9M186.97 38.88h0.9M196.17 29.72h0.9M197.77 26.18h0.9M195.16 27.41h0.9M191.64 35.1h0.9M191.2 37.27h0.9M191.18 34.92h0.9M189.6 35.97h0.9M192.97 29.21h0.9M190.8 35.77h0.9M192.84 29.6h0.9M186.05 35.56h0.9M191.12 39.05h0.9M192.33 33.86h0.9M194.18 29.42h0.9M191.42 30.7h0.9M189.7 39.55h0.9M192.52 33.99h0.9M189.17 36.73h0.9M193.69 24.76h0.9M194.4 34.08h0.9M191.33 33.99h0.9M189 41.61h0.9M193.31 36.02h0.9M190.58 32.94h0.9M191.87 31.17h0.9M193.69 36.57h0.9M193.65 29.56h0.9M194.78 30.97h0.9M192.74 30.95h0.9M192.5 33.19h0.9M193.34 31.34h0.9M190.31 34.93h0.9M190.4 30.28h0.9M193.06 33.87h0.9M191.27 32.09h0.9M190.5 32.57h0.9M192.66 29.04h0.9M185.85 37.75h0.9M192.53 32.15h0.9M187.94 33.31h0.9M189.53 32.65h0.9M190.26 35.4h0.9M190.68 36.14h0.9M189.16 35.2h0.9M194.06 35.42h0.9M196.49 28.31h0.9M190.12 35.69h0.9M194.93 30.57h0.9M188.27 38.87h0.9M191.63 36.51h0.9M191.67 30.12h0.9M195.1 24.94h0.9M195.9 23.97h0.9M195.22 35.37h0.9M189.56 34.42h0.9M194.3 27.62h0.9M189.9 29.92h0.9M196.98 27.58h0.9M193.65 32.48h0.9M189.61 34.32h0.9M189.25 39.12h0.9M195.65 29.45h0.9M194.74 30.44h0.9M187.12 34.95h0.9M193.11 30.87h0.9M192.88 29.14h0.9M190.73 36.7h0.9M187.14 33.27h0.9M188.59 34.28h0.9M188.27 36.47h0.9M198.12 32.1h0.9M194.03 26.3h0.9M193.59 28.79h0.9M190.94 30.83h0.9M188 31.49h0.9M193.45 25.69h0.9M191.48 30.26h0.9M189.68 30.77h0.9M192.65 35.36h0.9M188.76 28.78h0.9M190.53 28.52h0.9M193.13 32.54h0.9M189.66 35.01h0.9M191.87 34.34h0.9M196.05 31.16h0.9M196.19 33.97h0.9M193.29 38.36h0.9M192.58 34.79h0.9M191.46 33.56h0.9M190.54 36.77h0.9M195.74 25.83h0.9M191.5 33.1h0.9M192.5 30.21h0.9M191.96 33.27h0.9M195.97 29.31h0.9M188.23 36.16h0.9M193.28 33.85h0.9M192.99 29.28h0.9M195.31 25.12h0.9M197.12 29.44h0.9M195.02 27.44h0.9M189.57 29.29h0.9M186.87 38.82h0.9M195.07 31.55h0.9M193.43 34.5h0.9M195.72 32.55h0.9M186.79 37.91h0.9M187.59 35.37h0.9" stroke="#2e44b8" stroke-width="0.9" opacity="0.55"/>
<path d="M193.23 23.87h0.8M188.38 36.4h0.8M192.54 28.16h0.8M194.89 30.31h0.8M183.59 32.69h0.8M185.88 35.61h0.8M193.76 24.22h0.8M189.85 38.65h0.8M189.17 31.43h0.8M196.77 29.12h0.8M190.22 30.61h0.8M183.84 34.25h0.8M193.57 31.76h0.8M189.28 37.44h0.8M196.81 15.81h0.8M188.86 42.02h0.8M189.14 34.35h0.8M192.77 29.88h0.8M195.44 29.02h0.8M194.8 27.67h0.8M189.72 45.23h0.8M190.04 42.61h0.8M188.45 29.84h0.8M194.07 33.96h0.8M189.07 37.94h0.8M186.97 35.1h0.8M193.4 37.78h0.8M193.2 29.71h0.8M191.67 33.59h0.8M192.76 31.92h0.8M189.66 42.51h0.8M182.37 33.38h0.8M190.08 27.95h0.8M190.92 33.56h0.8M191.47 36.6h0.8M190.09 33.92h0.8M188.36 37.16h0.8M189.02 38.01h0.8M197.6 28.15h0.8M188.96 29.03h0.8M196.65 29.45h0.8M190.71 19.97h0.8M190.68 32.46h0.8M191.37 26.27h0.8M196.8 38.14h0.8M188.7 25.42h0.8M195.26 34.87h0.8M191.57 36.81h0.8M187.85 30.45h0.8M192.99 37.63h0.8M192.92 26.5h0.8M192.47 26.63h0.8M192.09 31.8h0.8M189.22 39.44h0.8M183.15 30.94h0.8M187.14 35.76h0.8M186.77 35.6h0.8M183.18 32.79h0.8M193.98 28.86h0.8M191.45 31.42h0.8M190.98 32.33h0.8M184.66 36.04h0.8M194.45 34.11h0.8M196.46 34.2h0.8M187.34 39.15h0.8M193.27 37.73h0.8M194.42 24.17h0.8M192.72 29.17h0.8M188.68 37.62h0.8M193.05 40.2h0.8M196.22 31.89h0.8M185.87 27.81h0.8M193.8 29.31h0.8M185.73 44.54h0.8M198.7 30.63h0.8M191.05 39.02h0.8M191.9 31.17h0.8M192.22 35.12h0.8M194.76 31.2h0.8M186.92 33.06h0.8M198.37 28.57h0.8M189.99 35.66h0.8M188.82 26.63h0.8M199.32 34.1h0.8M190.3 30.7h0.8M196.73 23.26h0.8M190.9 31.38h0.8M187.12 29.56h0.8M184.26 37.01h0.8M193.55 28.56h0.8M188.93 24.57h0.8M193.93 37.96h0.8M184.46 34.11h0.8M188.68 36.07h0.8M195 34.94h0.8M199.08 28.89h0.8M191.63 29.51h0.8M186.25 33.24h0.8M198.13 28.73h0.8M189.32 31.3h0.8M194.54 30.48h0.8M188.75 30.59h0.8M190.58 31.04h0.8M195 30.33h0.8M191.47 30.29h0.8M197.47 26.85h0.8M197 28.16h0.8M194.25 30.4h0.8M183.87 35.49h0.8M190.79 38.35h0.8M194.31 28.92h0.8M196.7 35.22h0.8M185.67 32.33h0.8M186.71 39.92h0.8M195.27 30.72h0.8M193.16 35.23h0.8M189.42 32.19h0.8M192.59 35.89h0.8M190.88 26.83h0.8M189.33 37.89h0.8" stroke="#7080d8" stroke-width="0.8" opacity="0.5"/>
<path d="M195.25 52.31h0.9M184.86 48.54h0.9M194.16 52.24h0.9M176.79 52.79h0.9M190.72 62.88h0.9M173.22 59.04h0.9M177.84 61.05h0.9M184.28 62.8h0.9M196.62 53.43h0.9M176.45 58.99h0.9M179.7 62.14h0.9M191.98 61.13h0.9M194.21 52.89h0.9M173.64 60.25h0.9M176.08 60.96h0.9M178.73 63.14h0.9M174.83 53.77h0.9M195.98 58.07h0.9M196.68 54.71h0.9M175.82 60.14h0.9M200.78 60.04h0.9M194.69 60.99h0.9M176.61 53.05h0.9M193.26 50.44h0.9M193.93 51.17h0.9M185.53 63.58h0.9M180.04 62.94h0.9M176.03 58.71h0.9M187.03 48.95h0.9M176.09 59.36h0.9M185.45 65.11h0.9M191.93 61.16h0.9M182.39 49.5h0.9M189.95 47.4h0.9M197.07 60.95h0.9M175.56 58.98h0.9M180.27 62.73h0.9M192.43 50.4h0.9M193.3 59.87h0.9M188.26 49.47h0.9M184.05 62.79h0.9M194.37 59.97h0.9M183.43 64.26h0.9M179.17 61.15h0.9M173.83 54.47h0.9M195.46 56.32h0.9M178.22 63.38h0.9M191.63 50.77h0.9M180.13 62.14h0.9M190.95 63.66h0.9M184.07 46.57h0.9M173.55 64.63h0.9M174.05 54.2h0.9M175.87 52.4h0.9M194.54 53.79h0.9M195.99 54.58h0.9M172.4 54.92h0.9" stroke="#5a6ad0" stroke-width="0.9" opacity="0.5"/>
<path d="M177.5 55.93h0.9M178.89 60.25h0.9M190.49 51.01h0.9M179.32 60.4h0.9M187.27 61.37h0.9M188.26 61.59h0.9M180.88 60.75h0.9M186.59 62.3h0.9M191.04 51.76h0.9M180.85 60.51h0.9M177.79 53.31h0.9M187.62 61.58h0.9M178.04 54.28h0.9M191.29 59.69h0.9M194.29 56.94h0.9M178.85 51.42h0.9M192.23 60.31h0.9M186.68 50.57h0.9M178.9 58.93h0.9M179.2 59.95h0.9M177.08 57.07h0.9M193.64 59.12h0.9M178.4 52.59h0.9M193.17 55.82h0.9M184.5 50.48h0.9M178.83 52.78h0.9M189.3 50.67h0.9M184.23 50.62h0.9M180.64 51.4h0.9M177.64 56.21h0.9M192.45 52.08h0.9M182.83 50.42h0.9M186.36 61.87h0.9M191.54 51.07h0.9M193.23 58.51h0.9M177.54 58.24h0.9M184.19 61.69h0.9M187.58 61.96h0.9M187.58 50.37h0.9M193.27 55.37h0.9M194.01 57.62h0.9M182.99 62.19h0.9M182.27 50.6h0.9M183.22 50.35h0.9M190.52 61.12h0.9M177.21 57.48h0.9M177.79 55.55h0.9M190.59 51.74h0.9M177.63 54.9h0.9M191.8 52.8h0.9M177.16 56.49h0.9M177.7 53.71h0.9M193 52.59h0.9M194.33 55.45h0.9M190.71 51.17h0.9M192.36 60.12h0.9M178.11 52.71h0.9M185.13 62.12h0.9M193.88 55.92h0.9M177.46 57.5h0.9M177.03 53.68h0.9M188.41 62.2h0.9M185.21 61.99h0.9" stroke="#2e44b8" stroke-width="0.9" opacity="0.7"/>
<g transform="translate(185.5 56) rotate(0)" filter="url(#bl09)">
<ellipse cx="0" cy="0" rx="8.5" ry="6" fill="#3050c8"/>
</g>
<path d="M190.92 57.6h0.9M175.77 57.77h0.9M176.79 61.28h0.9M177.25 59.12h0.9M181.88 63.28h0.9M174 62.1h0.9M193.45 58.4h0.9M184.52 63.89h0.9M195.75 62.08h0.9M175.03 57.83h0.9M186.93 56.47h0.9M183 56.9h0.9M179.13 57.37h0.9M176.63 60.61h0.9M191.33 57.51h0.9M178.48 62.82h0.9M191.94 56.06h0.9M195.96 59.09h0.9M200.49 59.8h0.9M175.46 58.61h0.9M176.19 58.26h0.9M195.47 61.13h0.9M183.59 63.81h0.9M189.77 63.08h0.9M184.72 63.91h0.9M194.03 58.81h0.9M174.85 60.03h0.9M178.5 56.92h0.9M178.98 63.53h0.9M174.88 57.92h0.9M190.05 57.16h0.9M177.2 58.55h0.9M176.92 58.96h0.9M176.3 59.17h0.9M184.04 64.56h0.9M198.54 61.54h0.9M193.6 58.84h0.9M175.29 60.16h0.9M183.96 63.97h0.9M191.33 57.61h0.9M193.24 61.82h0.9M187.99 56.33h0.9M194.31 62.08h0.9M175.6 61.23h0.9M194.37 61.6h0.9M190.99 62.81h0.9M183.57 64.21h0.9M195.54 59.05h0.9M192.39 57.38h0.9M193.13 63.48h0.9M178.08 58.67h0.9M189.15 63.75h0.9M184.86 63.79h0.9M195.27 59.41h0.9" stroke="#5a6ad0" stroke-width="0.9" opacity="0.5"/>
<path d="M190.82 61.88h0.9M180.95 58.22h0.9M180.79 57.49h0.9M184.92 63.06h0.9M191.63 58.46h0.9M188.12 57.49h0.9M189.7 57.61h0.9M186.47 57.26h0.9M179.75 61.61h0.9M182.62 63.18h0.9M190.35 62.85h0.9M179.36 58.72h0.9M192.66 59.84h0.9M193.2 60.58h0.9M187.59 63.14h0.9M193.22 60.52h0.9M191.69 61.5h0.9M187.98 63.31h0.9M188.74 57.37h0.9M177.62 59.7h0.9M191.63 61.57h0.9M186.33 63.06h0.9M182.67 62.66h0.9M178.25 60.33h0.9M191.65 61.31h0.9M187.29 63.05h0.9M178.24 58.73h0.9M179.26 58.12h0.9M193.34 61.24h0.9M182.71 63.11h0.9M185.22 62.92h0.9M178.4 59.88h0.9M193.48 59.56h0.9M190.62 62.26h0.9M179.79 57.91h0.9M184.77 63.5h0.9M191.03 62.09h0.9M178.16 58.9h0.9M193.42 60.7h0.9M191.69 58.96h0.9M192.75 58.7h0.9M180.99 57.83h0.9M190.54 62.8h0.9M191.25 58.61h0.9M192.8 61.72h0.9M184.75 63.02h0.9M177.32 60.49h0.9M182.58 63.2h0.9M189.86 62.92h0.9M183.99 63.12h0.9M185.84 57.05h0.9M192.93 61.24h0.9M179.32 59.19h0.9M189.28 62.53h0.9M192.96 59.6h0.9M188.82 57.53h0.9M181.82 63.11h0.9M179.48 61.51h0.9M186.72 56.94h0.9M191.43 62.51h0.9M184.21 63.27h0.9M178.06 59.76h0.9M183 62.99h0.9M191.48 58.3h0.9M181.52 62.81h0.9M182.13 57.35h0.9" stroke="#2e44b8" stroke-width="0.9" opacity="0.7"/>
<g transform="translate(185.5 60.2) rotate(0)" filter="url(#bl06)">
<ellipse cx="0" cy="0" rx="7.4" ry="3" fill="#3050c8"/>
<ellipse cx="0" cy="0" rx="5.74" ry="2.33" fill="#3a86dc"/>
<ellipse cx="0" cy="0" rx="4.07" ry="1.65" fill="#42b6dc"/>
<ellipse cx="0" cy="0" rx="2.4" ry="0.97" fill="#4cc8a8"/>
</g>
<path d="M195.08 51.9h0.9M173.19 41.33h0.9M181.21 33.75h0.9M199.36 46.87h0.9M194.74 32.58h0.9M176.71 56.07h0.9M198.67 49.06h0.9M171.64 46.45h0.9M195.53 39.89h0.9M198.11 46.51h0.9M174.25 48.39h0.9M191.3 28.76h0.9M185.04 58.78h0.9M185.63 59.9h0.9M174.43 55.77h0.9M184.78 59.76h0.9M192.4 61.35h0.9M178.14 55.15h0.9M195.4 34.08h0.9M198.44 49.82h0.9M187.75 58.06h0.9M196.02 50.17h0.9M176.23 35.52h0.9M177.77 53.91h0.9M195.05 38.09h0.9M185.88 34.29h0.9M191.16 57h0.9M185.39 34.12h0.9M176.24 52.45h0.9M197.61 59.79h0.9M178.1 36.29h0.9M194.05 53.74h0.9M182.23 33.09h0.9M173.15 40.81h0.9M172.6 41.29h0.9M198.12 41.6h0.9M191.42 32.87h0.9M194.8 38.65h0.9M170.82 41.61h0.9M198.58 42.09h0.9M177.59 36.11h0.9M176.77 61.23h0.9M197.58 42.24h0.9M179.21 56.86h0.9M196.64 35.89h0.9M196.86 50.96h0.9M200.06 42.07h0.9M173.57 37.21h0.9M195.28 53.46h0.9M196.85 50.75h0.9M187.6 34.33h0.9M177.17 61.81h0.9M193.16 55.34h0.9M199.05 49.04h0.9M177.51 35.45h0.9M180.62 34.47h0.9M180.46 57.25h0.9M189.22 31.68h0.9M180.75 34.77h0.9M194.04 58.63h0.9M198.31 54.24h0.9M176.48 55.57h0.9M180.47 35.41h0.9M200.13 42.62h0.9M193.94 38h0.9M183.53 25.83h0.9M188.88 64.33h0.9M197.26 39.04h0.9M177.31 54.17h0.9M192.35 36.71h0.9M171 49.95h0.9M175.3 34.81h0.9M174.34 31.01h0.9M200.67 52.08h0.9M174.4 42.12h0.9M199.76 46.61h0.9M195.17 39.24h0.9M196.86 50.92h0.9M194.09 37.24h0.9M179.63 32.74h0.9M172.78 49.21h0.9M172.6 54.21h0.9M177.03 37.14h0.9M198.17 52.14h0.9M183.43 33.78h0.9M176.84 57.96h0.9M182.26 59.02h0.9M172.88 53h0.9M171.66 52.72h0.9M173.52 41h0.9M170.33 55.16h0.9M194.8 55.39h0.9M181.23 58.19h0.9M172.81 45.5h0.9M181.82 56.97h0.9M196.15 41.94h0.9M197.85 44.64h0.9M201.71 34.92h0.9M177.15 32.53h0.9M191.34 33.98h0.9M196.67 29.46h0.9M193.49 54.58h0.9M185.25 32.12h0.9M196.63 43.82h0.9M199.27 42.61h0.9M172.71 55.73h0.9M183.11 34.63h0.9M183.01 57.06h0.9M174.75 40.66h0.9M181.36 34.4h0.9M182.81 33.75h0.9M174.82 48.7h0.9M175.01 49.78h0.9M178.44 61.52h0.9M175.54 55.07h0.9M196.44 49.13h0.9M174.6 53.18h0.9M194.05 56.42h0.9M186.42 33.89h0.9M191.29 33.85h0.9M201.08 41.74h0.9M174.47 42.92h0.9M175.24 49.79h0.9M171.54 45.06h0.9M182.5 28.85h0.9M200.22 39.26h0.9M197.14 43.15h0.9M174.32 50.96h0.9M182.08 58.38h0.9M190.56 34.47h0.9M197.63 48.27h0.9M183.63 33.46h0.9M177.68 37.54h0.9M188.74 34.38h0.9M172.7 44.27h0.9M187.81 59.62h0.9M175.82 38.18h0.9M183.07 57.88h0.9M174.05 36.86h0.9M183.49 33.58h0.9M177.61 57.04h0.9M187.23 33.38h0.9M183.92 57.1h0.9M184.78 57.71h0.9M198.94 42.11h0.9M183.21 58.74h0.9M187.97 57.02h0.9M198.69 39.59h0.9M175.21 37.15h0.9M185.49 58.77h0.9M188.55 30.92h0.9M184.32 57.5h0.9M173.59 49.03h0.9M169.81 33.91h0.9" stroke="#5a6ad0" stroke-width="0.9" opacity="0.5"/>
<path d="M178 51.92h0.9M194.08 51.99h0.9M193.48 38.1h0.9M189.25 54.32h0.9M182.12 56.47h0.9M191.63 54.78h0.9M182.78 36h0.9M185.27 36.26h0.9M190.65 55.13h0.9M180.59 53.36h0.9M194.54 50.37h0.9M183.03 35h0.9M184.88 56.6h0.9M185.28 56.25h0.9M195.05 47.85h0.9M188.82 35.02h0.9M193.51 52.25h0.9M190.31 37.24h0.9M181.58 54h0.9M185.56 35.82h0.9M177.88 40.11h0.9M193.57 52.89h0.9M193.31 51.87h0.9M189.08 35.62h0.9M174.8 44.32h0.9M191.62 53.81h0.9M195.77 47.4h0.9M194.39 44.13h0.9M189.03 37.18h0.9M185.19 55.33h0.9M195.87 46.42h0.9M176.42 44.86h0.9M175.57 48.73h0.9M185.27 36.03h0.9M180.91 37.75h0.9M177.44 41.82h0.9M176.42 46.59h0.9M193.48 50.95h0.9M176.02 45.19h0.9M176.59 45.45h0.9M177.83 38.72h0.9M181.77 55.55h0.9M188.68 55.17h0.9M176.5 46.67h0.9M180.01 54.95h0.9M189.16 36.53h0.9M192.72 51.55h0.9M184.61 55.67h0.9M181.76 55.93h0.9M185.49 35.46h0.9M181.91 36.89h0.9M186.26 35.01h0.9M177.13 52.51h0.9M175.57 43.23h0.9M193.06 52.77h0.9M176.29 44.34h0.9M175.36 46.88h0.9M176.55 46.76h0.9M184.8 35.85h0.9M180.91 54.82h0.9M177.04 50.55h0.9M194.49 44.09h0.9M182.77 35.71h0.9M179.6 53.37h0.9M190.06 37.52h0.9M180.86 54.16h0.9M194.29 42.23h0.9M183.85 36.6h0.9M179.43 37.4h0.9M184.12 35.32h0.9M176.7 51.52h0.9M186.61 34.43h0.9M185.17 36.48h0.9M176.52 41.07h0.9M192.63 53.77h0.9M177.39 52.2h0.9M179.78 53.63h0.9M194.17 38.67h0.9M189.1 56h0.9M175.95 44.91h0.9M184.01 36.69h0.9M176.22 47.67h0.9M176.13 48.97h0.9M182.84 35.84h0.9M195.41 46.83h0.9M185.07 36.61h0.9M193.97 39.23h0.9M183.44 56.19h0.9M182.14 37.01h0.9M193.82 52.54h0.9M177.22 38.85h0.9M188.83 36.11h0.9M178.55 38.41h0.9M177.98 52.58h0.9M190.43 37.96h0.9M188.58 54.66h0.9M193.73 52.48h0.9M194.43 50.95h0.9M175.44 43.86h0.9M181.91 54.39h0.9M190.89 53.59h0.9M191.23 55.02h0.9M192.61 38.18h0.9M176.32 47.85h0.9M186.9 55.02h0.9M195.89 49.57h0.9M176.39 51.29h0.9M176.1 47.95h0.9M195.2 47.73h0.9M184.19 54.95h0.9M189.35 36.59h0.9M180.83 36.39h0.9M178 51.18h0.9M194.43 44.27h0.9M194.67 41.53h0.9M179.94 37.09h0.9M183.46 56.12h0.9M178.54 51.59h0.9M176.65 50.81h0.9M194.79 46.67h0.9M196.11 48.66h0.9M177.92 40.32h0.9M195.71 47.96h0.9M182.4 36.92h0.9M192.72 38.42h0.9M191.57 53.25h0.9M189.48 55.02h0.9M190.35 53.93h0.9M176.9 42.24h0.9M182.61 35.69h0.9M193.89 39.6h0.9M176.57 50.75h0.9M190.02 54.51h0.9M178.4 39.74h0.9M193.79 53.36h0.9M189.4 56.02h0.9M176.41 44.53h0.9M195.16 48.73h0.9M193.06 52.91h0.9M193.98 40.17h0.9M187.77 56.27h0.9M195.33 44.03h0.9M177.48 50.88h0.9M176.15 42.77h0.9M192.4 52.01h0.9M176.92 50.04h0.9" stroke="#2e44b8" stroke-width="0.9" opacity="0.7"/>
<g transform="translate(185.6 45.8) rotate(0)" filter="url(#bl06)">
<ellipse cx="0" cy="0" rx="9.8" ry="10.2" fill="#3050c8"/>
<ellipse cx="0" cy="0" rx="8.71" ry="9.07" fill="#3a86dc"/>
<ellipse cx="0" cy="0" rx="7.65" ry="7.96" fill="#42b6dc"/>
<ellipse cx="0" cy="0" rx="6.61" ry="6.88" fill="#4cc8a8"/>
<ellipse cx="0" cy="0" rx="5.61" ry="5.84" fill="#66cc66"/>
<ellipse cx="0" cy="0" rx="4.64" ry="4.83" fill="#a8d438"/>
<ellipse cx="0" cy="0" rx="3.71" ry="3.86" fill="#e8d424"/>
<ellipse cx="0" cy="0" rx="2.83" ry="2.94" fill="#f4a020"/>
<ellipse cx="0" cy="0" rx="2" ry="2.08" fill="#f05a1a"/>
<ellipse cx="0" cy="0" rx="1.23" ry="1.28" fill="#e02a16"/>
</g>
<path d="M203.93 60.84h0.9M225 55.25h0.9M216.68 61.1h0.9M216.82 52.84h0.9M225.83 52.93h0.9M224.57 54.57h0.9M223.13 57.66h0.9M217.55 52.39h0.9M225.5 55.52h0.9M203.46 57.6h0.9M203.4 58.76h0.9M201.77 63.29h0.9M224.47 54.14h0.9M203.65 63.58h0.9M224.57 54.48h0.9M203.13 62.78h0.9M224.41 53.53h0.9M219.96 51.71h0.9M209.86 62.57h0.9M224.98 54.6h0.9M225.2 55.49h0.9M218.96 60.98h0.9M207 62.64h0.9M203.1 60.54h0.9M201.35 62.39h0.9M199.8 62.3h0.9M223.89 56.71h0.9M214.02 62.99h0.9M222.01 58.42h0.9M216.75 52.54h0.9M201.81 64.51h0.9M206.24 56.9h0.9M207.77 56.79h0.9M221.39 58.61h0.9M218.47 62.03h0.9M220.76 53.01h0.9M203.02 59.05h0.9M207.81 56.39h0.9M221.16 53.3h0.9M225.39 53.83h0.9M214.51 63.15h0.9M218.44 52.93h0.9M224.46 55.49h0.9M218.55 60.99h0.9M219.41 59.84h0.9M215.45 53.52h0.9M210.15 62.9h0.9M224.05 50.2h0.9M206.19 63.96h0.9M215.14 61.5h0.9M212.67 62h0.9M218.45 53.26h0.9M204.65 61.28h0.9M207.09 56.41h0.9M210.98 55.03h0.9M210.82 54.83h0.9" stroke="#5a6ad0" stroke-width="0.9" opacity="0.5"/>
<path d="M222.74 54.74h0.9M209.03 56.99h0.9M219.63 53.33h0.9M223.37 56.61h0.9M205.47 61.26h0.9M221.27 54.13h0.9M223.06 55.13h0.9M206.82 60.07h0.9M219.56 53.98h0.9M221.45 54.35h0.9M217.92 53.87h0.9M215.65 60.47h0.9M213.22 55.03h0.9M207.58 61.17h0.9M207.09 61.01h0.9M213.02 61.14h0.9M218.64 59.58h0.9M207.72 57.96h0.9M216.18 54.05h0.9M221.4 54.62h0.9M222.49 56.25h0.9M213.31 55.06h0.9M215.9 53.83h0.9M221.61 57.76h0.9M206.3 59.06h0.9M221.96 54.47h0.9M222.8 55.31h0.9M208.49 57.19h0.9M220.26 53.85h0.9M215.16 54.11h0.9M206.77 60.04h0.9M222.35 56.19h0.9M205.45 59.1h0.9M221.88 53.67h0.9M221.36 53.96h0.9M213.23 61.38h0.9M220.95 58.62h0.9M206.47 61.03h0.9M221.02 58.49h0.9M223.4 56.6h0.9M205.62 60.48h0.9M209.84 56.26h0.9M211.05 61.8h0.9M208.14 57.61h0.9M221.54 54.8h0.9M205.94 58.64h0.9M211.67 55.18h0.9M206.57 61.5h0.9M220.22 54.21h0.9M206.45 61.52h0.9M215.92 60.93h0.9M210.74 55.61h0.9M216.08 60.85h0.9M218.57 59.41h0.9M220.62 54.37h0.9M221.91 56.66h0.9M218.86 59.16h0.9M213.89 61.23h0.9M222.68 56h0.9M216.56 54.26h0.9M209.77 61.71h0.9M212.08 55.13h0.9M217.22 60.02h0.9M214.88 60.95h0.9M208.76 56.76h0.9M209.63 55.97h0.9M209.67 56.52h0.9M220.81 53.72h0.9M216.8 53.65h0.9M223.69 55.53h0.9M206.07 59.58h0.9M221.38 54.3h0.9M208.65 61.28h0.9M221.17 57.87h0.9M205.73 60.45h0.9M223.26 56.33h0.9M210.48 55.54h0.9M208.07 61.61h0.9M221.6 54.82h0.9M206.14 58.72h0.9M222.7 56.88h0.9M210.6 61.77h0.9M220.15 58.68h0.9M206.91 60.18h0.9" stroke="#2e44b8" stroke-width="0.9" opacity="0.7"/>
<g transform="translate(214.5 57.8) rotate(-17)" filter="url(#bl06)">
<ellipse cx="0" cy="0" rx="8.8" ry="3.2" fill="#3050c8"/>
<ellipse cx="0" cy="0" rx="7.29" ry="2.65" fill="#3a86dc"/>
<ellipse cx="0" cy="0" rx="5.76" ry="2.09" fill="#42b6dc"/>
<ellipse cx="0" cy="0" rx="4.21" ry="1.53" fill="#4cc8a8"/>
<ellipse cx="0" cy="0" rx="2.63" ry="0.95" fill="#66cc66"/>
</g>
</g>
<polygon points="167.3,57.2 168.9,20.9 208.3,17.5 202,56.6" fill="none" stroke="#333" stroke-width="0.7" stroke-linejoin="round"/>
<polygon points="205.4,46 226.7,46 226.7,67.3 205.4,67.3" fill="none" stroke="#555" stroke-width="0.7" stroke-linejoin="round"/>
<rect x="167" y="6" width="76.6" height="71" fill="none" stroke="#7a7a7a" stroke-width="0.8"/>
<line x1="165.4" y1="12.8" x2="167" y2="12.8" stroke="#444" stroke-width="0.8"/>
<text x="161.8" y="15" font-size="6.1" text-anchor="end" font-weight="normal" fill="#1a1a1a" stroke="#1a1a1a" stroke-width="0.16">10<tspan dy="-2.44" font-size="3.54" stroke-width="0.04">5</tspan></text>
<line x1="165.4" y1="29.3" x2="167" y2="29.3" stroke="#444" stroke-width="0.8"/>
<text x="161.8" y="31.5" font-size="6.1" text-anchor="end" font-weight="normal" fill="#1a1a1a" stroke="#1a1a1a" stroke-width="0.16">10<tspan dy="-2.44" font-size="3.54" stroke-width="0.04">4</tspan></text>
<line x1="165.4" y1="49.1" x2="167" y2="49.1" stroke="#444" stroke-width="0.8"/>
<text x="161.8" y="51.3" font-size="6.1" text-anchor="end" font-weight="normal" fill="#1a1a1a" stroke="#1a1a1a" stroke-width="0.16">10<tspan dy="-2.44" font-size="3.54" stroke-width="0.04">3</tspan></text>
<line x1="165.4" y1="60.3" x2="167" y2="60.3" stroke="#444" stroke-width="0.8"/>
<text x="160.2" y="62.5" font-size="6.1" text-anchor="end" font-weight="normal" fill="#1a1a1a" stroke="#1a1a1a" stroke-width="0.16">0</text>
<line x1="165.4" y1="71.9" x2="167" y2="71.9" stroke="#444" stroke-width="0.8"/>
<text x="161.8" y="74.1" font-size="6.1" text-anchor="end" font-weight="normal" fill="#1a1a1a" stroke="#1a1a1a" stroke-width="0.16">&#8722;10<tspan dy="-2.44" font-size="3.54" stroke-width="0.04">3</tspan></text>
<line x1="166.2" y1="16.1" x2="167" y2="16.1" stroke="#666" stroke-width="0.5"/>
<line x1="166.2" y1="19.4" x2="167" y2="19.4" stroke="#666" stroke-width="0.5"/>
<line x1="166.2" y1="22.7" x2="167" y2="22.7" stroke="#666" stroke-width="0.5"/>
<line x1="166.2" y1="26" x2="167" y2="26" stroke="#666" stroke-width="0.5"/>
<line x1="166.2" y1="33.26" x2="167" y2="33.26" stroke="#666" stroke-width="0.5"/>
<line x1="166.2" y1="37.22" x2="167" y2="37.22" stroke="#666" stroke-width="0.5"/>
<line x1="166.2" y1="41.18" x2="167" y2="41.18" stroke="#666" stroke-width="0.5"/>
<line x1="166.2" y1="45.14" x2="167" y2="45.14" stroke="#666" stroke-width="0.5"/>
<line x1="166.2" y1="51.34" x2="167" y2="51.34" stroke="#666" stroke-width="0.5"/>
<line x1="166.2" y1="53.58" x2="167" y2="53.58" stroke="#666" stroke-width="0.5"/>
<line x1="166.2" y1="55.82" x2="167" y2="55.82" stroke="#666" stroke-width="0.5"/>
<line x1="166.2" y1="58.06" x2="167" y2="58.06" stroke="#666" stroke-width="0.5"/>
<line x1="166.2" y1="62.62" x2="167" y2="62.62" stroke="#666" stroke-width="0.5"/>
<line x1="166.2" y1="64.94" x2="167" y2="64.94" stroke="#666" stroke-width="0.5"/>
<line x1="166.2" y1="67.26" x2="167" y2="67.26" stroke="#666" stroke-width="0.5"/>
<line x1="166.2" y1="69.58" x2="167" y2="69.58" stroke="#666" stroke-width="0.5"/>
<line x1="171.4" y1="77" x2="171.4" y2="78.6" stroke="#444" stroke-width="0.8"/>
<text x="170.4" y="88" font-size="6.1" text-anchor="middle" font-weight="normal" fill="#1a1a1a" stroke="#1a1a1a" stroke-width="0.16">&#8722;10<tspan dy="-2.44" font-size="3.54" stroke-width="0.04">3</tspan></text>
<line x1="183.9" y1="77" x2="183.9" y2="78.6" stroke="#444" stroke-width="0.8"/>
<text x="183.9" y="88" font-size="6.1" text-anchor="middle" font-weight="normal" fill="#1a1a1a" stroke="#1a1a1a" stroke-width="0.16">0</text>
<line x1="196.3" y1="77" x2="196.3" y2="78.6" stroke="#444" stroke-width="0.8"/>
<text x="197.1" y="88" font-size="6.1" text-anchor="middle" font-weight="normal" fill="#1a1a1a" stroke="#1a1a1a" stroke-width="0.16">10<tspan dy="-2.44" font-size="3.54" stroke-width="0.04">3</tspan></text>
<line x1="217" y1="77" x2="217" y2="78.6" stroke="#444" stroke-width="0.8"/>
<text x="217.8" y="88" font-size="6.1" text-anchor="middle" font-weight="normal" fill="#1a1a1a" stroke="#1a1a1a" stroke-width="0.16">10<tspan dy="-2.44" font-size="3.54" stroke-width="0.04">4</tspan></text>
<line x1="235.8" y1="77" x2="235.8" y2="78.6" stroke="#444" stroke-width="0.8"/>
<text x="236.6" y="88" font-size="6.1" text-anchor="middle" font-weight="normal" fill="#1a1a1a" stroke="#1a1a1a" stroke-width="0.16">10<tspan dy="-2.44" font-size="3.54" stroke-width="0.04">5</tspan></text>
<line x1="173.9" y1="77" x2="173.9" y2="77.8" stroke="#666" stroke-width="0.5"/>
<line x1="176.4" y1="77" x2="176.4" y2="77.8" stroke="#666" stroke-width="0.5"/>
<line x1="178.9" y1="77" x2="178.9" y2="77.8" stroke="#666" stroke-width="0.5"/>
<line x1="181.4" y1="77" x2="181.4" y2="77.8" stroke="#666" stroke-width="0.5"/>
<line x1="186.38" y1="77" x2="186.38" y2="77.8" stroke="#666" stroke-width="0.5"/>
<line x1="188.86" y1="77" x2="188.86" y2="77.8" stroke="#666" stroke-width="0.5"/>
<line x1="191.34" y1="77" x2="191.34" y2="77.8" stroke="#666" stroke-width="0.5"/>
<line x1="193.82" y1="77" x2="193.82" y2="77.8" stroke="#666" stroke-width="0.5"/>
<line x1="200.44" y1="77" x2="200.44" y2="77.8" stroke="#666" stroke-width="0.5"/>
<line x1="204.58" y1="77" x2="204.58" y2="77.8" stroke="#666" stroke-width="0.5"/>
<line x1="208.72" y1="77" x2="208.72" y2="77.8" stroke="#666" stroke-width="0.5"/>
<line x1="212.86" y1="77" x2="212.86" y2="77.8" stroke="#666" stroke-width="0.5"/>
<line x1="220.76" y1="77" x2="220.76" y2="77.8" stroke="#666" stroke-width="0.5"/>
<line x1="224.52" y1="77" x2="224.52" y2="77.8" stroke="#666" stroke-width="0.5"/>
<line x1="228.28" y1="77" x2="228.28" y2="77.8" stroke="#666" stroke-width="0.5"/>
<line x1="232.04" y1="77" x2="232.04" y2="77.8" stroke="#666" stroke-width="0.5"/>
<ellipse cx="166.2" cy="60.3" rx="0.8" ry="1.5" fill="#111"/>
<ellipse cx="183.8" cy="77.9" rx="1.8" ry="0.7" fill="#111"/>
<text x="185.6" y="11" font-size="3.9" text-anchor="middle" font-weight="normal" fill="#2a2a2a">NK Cells</text>
<text x="185.8" y="15.3" font-size="3.9" text-anchor="middle" font-weight="normal" fill="#2a2a2a">92.2</text>
<text x="234.2" y="58.2" font-size="3.9" text-anchor="middle" font-weight="normal" fill="#2a2a2a">T Cells</text>
<text x="234.4" y="62.3" font-size="3.9" text-anchor="middle" font-weight="normal" fill="#2a2a2a">10.9</text>
<text x="203.6" y="99.29" font-size="8.3" text-anchor="middle" font-weight="bold" fill="#222" textLength="10.4" lengthAdjust="spacingAndGlyphs">CD3</text>
<text x="142.2" y="43.99" font-size="8.3" text-anchor="middle" font-weight="bold" fill="#222" textLength="13.6" lengthAdjust="spacingAndGlyphs" transform="rotate(-90 142.2 41)">CD56</text>
<path d="M248.5 24.9 L264.2 24.9" fill="none" stroke="#3a6ea8" stroke-width="0.9"/>
<polygon points="264.2,24.9 260.8,23.2 260.8,26.6" fill="#3a6ea8"/>
<clipPath id="c3"><rect x="279.4" y="6.0" width="76.9" height="71.1"/></clipPath>
<clipPath id="c3b"><rect x="279.0" y="6.0" width="64.80000000000001" height="71.1"/></clipPath>
<g clip-path="url(#c3)">
<path d="M318.67 36.44h0.8M316.9 47.29h0.8M311.63 37.83h0.8M314.62 48.23h0.8M327.67 60.26h0.8M291.19 47.71h0.8M321.49 39.99h0.8M320.07 61.51h0.8M317.46 55.77h0.8M329.41 41.52h0.8M286.91 54.16h0.8M335.39 31.12h0.8M313.53 39.51h0.8M318.59 45.5h0.8M330.4 40.35h0.8M340.28 31.53h0.8M318.74 66.14h0.8M314.78 49.97h0.8M310.08 71.06h0.8M327.26 42.24h0.8M291.93 46.68h0.8M325.24 28.9h0.8M309.87 49.43h0.8M285.79 43.5h0.8M296.03 34.42h0.8M321.13 53.98h0.8M330.67 39.82h0.8M322.41 31.02h0.8M297.4 49.31h0.8M311 36.96h0.8M292.49 43.16h0.8M344.12 29.08h0.8M302.87 53.89h0.8M291.88 40.09h0.8M316.88 53.96h0.8M315.09 59.41h0.8M315.64 44.12h0.8M321.58 47.79h0.8M297.13 37.5h0.8M313.06 47.7h0.8M300.58 39.35h0.8M306.64 47.69h0.8M310.59 49.77h0.8M320.9 37.76h0.8M312.27 35.17h0.8M317.37 51.42h0.8M303.57 31h0.8M322.53 42.71h0.8M315.66 48.65h0.8M320.79 52.34h0.8M310.24 27.55h0.8M309.86 42.58h0.8M310.84 48.12h0.8M312.86 55.28h0.8M308.01 44.95h0.8M311.48 61.8h0.8M303.97 37.07h0.8M311.2 51.06h0.8M316.16 43.61h0.8M297.53 28.53h0.8M313.31 43.11h0.8M338.28 47.96h0.8M321.39 52.69h0.8M304.69 35.23h0.8M311.36 56.77h0.8M328.52 40.36h0.8M300.27 52.38h0.8M329.85 36.28h0.8M336.35 38.85h0.8M325.5 43.37h0.8M311.85 40.14h0.8M324.79 49.92h0.8M326.24 42.77h0.8M305.26 62.06h0.8M337.74 43.47h0.8M301.46 56.91h0.8M317.7 45.46h0.8M326.82 47.79h0.8M317.42 60.82h0.8M292.03 50.13h0.8M303.49 45.59h0.8M313.84 47.11h0.8M285.35 50.52h0.8M345.64 41.72h0.8M327.48 49.98h0.8M319.79 41h0.8M324.09 47.17h0.8M334.43 51.63h0.8M306.96 21.77h0.8M335.24 48.89h0.8M318.2 40.17h0.8M347.94 55.66h0.8M317.24 42.07h0.8M323.34 55.83h0.8M322.63 52.53h0.8M319.35 47.84h0.8M299.82 45.98h0.8M316.66 44.42h0.8M312.92 47.45h0.8M308.61 43.44h0.8M299.26 63.43h0.8M304.59 35.41h0.8M309.13 41.69h0.8M302.26 25.55h0.8M337.03 53.14h0.8M311.15 49.45h0.8M301.76 32.08h0.8M320.29 49.6h0.8M307.2 44.97h0.8M276.56 43.96h0.8M329.56 46.36h0.8M318.33 49.61h0.8M289.22 34.73h0.8M299.68 46.93h0.8M307.93 29.96h0.8M327.45 43.51h0.8M328.78 61h0.8M294.75 34.83h0.8M329.86 56.25h0.8M321.09 47.88h0.8M324.92 50.23h0.8M299.6 50.94h0.8M328.73 41.77h0.8M304.22 41.1h0.8M308.44 49.22h0.8M325.99 45.2h0.8M312.05 30.88h0.8M310.52 37.06h0.8M308.87 47.75h0.8M318.11 72.93h0.8M304.73 40.74h0.8M301.22 42.96h0.8M312.31 53.01h0.8M290.82 52.25h0.8M324.3 40.83h0.8M307.14 46.56h0.8M322.73 43.73h0.8M313.98 45.15h0.8M302.01 47.17h0.8M323.43 45.41h0.8M301.27 45.01h0.8M314.57 47.52h0.8M310.6 51.61h0.8M329.98 51.56h0.8M319 54.68h0.8M315.45 43.69h0.8M297.49 45.16h0.8M331.66 37.44h0.8M326.03 34.95h0.8M319.83 59.47h0.8M316.55 35.77h0.8M319.67 43.86h0.8M326.24 40.88h0.8M293.6 41.24h0.8M323.57 53.13h0.8M319.52 45.21h0.8M324.81 43.46h0.8M310.1 46.8h0.8M330.07 41.06h0.8M322.36 39.97h0.8M306.47 46.38h0.8M298.77 38.3h0.8M300.57 40.28h0.8M304.17 63.35h0.8M323.79 45.59h0.8M298.68 26.34h0.8M321.62 40.08h0.8M329.46 41.92h0.8M299.07 40.01h0.8M296.22 33.92h0.8M325.11 40.86h0.8M324.82 40.63h0.8M312.92 40.71h0.8M308.87 39.85h0.8M335.21 44.59h0.8M290.74 58.3h0.8M332.12 53.8h0.8M314.56 43.81h0.8M309.74 45.99h0.8M321.96 45h0.8M305.28 37.47h0.8M337.43 58.22h0.8M299.87 40.03h0.8M315.37 49.61h0.8M314.42 46.89h0.8M320.59 53.93h0.8M299.02 53.59h0.8M321.56 49.23h0.8M296.39 43.23h0.8M312.52 50h0.8M324.73 50.38h0.8M299.15 54.83h0.8M316.74 52.29h0.8M315.73 39.55h0.8M349.79 50.14h0.8M325.73 41.43h0.8M313 53.69h0.8M321.64 58.62h0.8M331.4 36.66h0.8M295.92 54.05h0.8M323.63 43.02h0.8M312.07 40.71h0.8M339.08 43.76h0.8M297.98 52.07h0.8M314.74 47.79h0.8M310.88 44.73h0.8M291.48 49.2h0.8M306.95 42.07h0.8M319.92 54.94h0.8M287.93 43.99h0.8M322.9 52.89h0.8M304.03 47.51h0.8M320.99 52.24h0.8M307.77 43.6h0.8M309.18 53.84h0.8M329.88 41.62h0.8M314.04 46.74h0.8M304.14 44.17h0.8M327.01 51.03h0.8M306.98 40.04h0.8M314.29 33.74h0.8M319.82 45.98h0.8M298.5 43.26h0.8M307.21 42.98h0.8M304.45 55.55h0.8M303.28 50.93h0.8M318.47 56.16h0.8M315.03 45.08h0.8M316.65 30.58h0.8M346.95 43.44h0.8M311.69 36.43h0.8M314 57.42h0.8M305.98 48.45h0.8M329.16 52.31h0.8M310.54 31.72h0.8M321.06 49.43h0.8M311.54 41.8h0.8M338.5 33h0.8M309.11 40.44h0.8M295.52 39.79h0.8M305.43 54.58h0.8M293.13 34.59h0.8M319.16 33.26h0.8M289.77 40.32h0.8M300.12 37.65h0.8M313.7 48.54h0.8M307.38 42.98h0.8M325.03 43.93h0.8M325.28 40.61h0.8M322.11 54.8h0.8M297.84 67.89h0.8M311.57 42.51h0.8M313.67 48.62h0.8M300.09 45.4h0.8M308.18 55.95h0.8M293.36 50.03h0.8M311.67 39.41h0.8M317.53 43.28h0.8M316.29 46.91h0.8M331.36 42.03h0.8M337.43 24.6h0.8M339.42 54.33h0.8M336.03 46.61h0.8M319.43 37.4h0.8M333.1 36.31h0.8M305.44 45.1h0.8M318.79 47.68h0.8M300.67 42.49h0.8M322.11 54.09h0.8M325.68 48.24h0.8M312.38 41h0.8M309.11 44.38h0.8M322.61 41.28h0.8M342.43 37.52h0.8M326.33 43.57h0.8M313.94 42.23h0.8M335.65 42.85h0.8M322.91 46h0.8M325.47 49.55h0.8M337.17 39.57h0.8M305.11 57.94h0.8M332.28 45.67h0.8M312.04 47.03h0.8M332.65 39.32h0.8M334.58 44.69h0.8M311.08 42.12h0.8M288.61 47.54h0.8M298.71 40.89h0.8M304.15 46.89h0.8M325.11 45.41h0.8M318.22 48.22h0.8M336.57 49.48h0.8M336.1 44.64h0.8M320.33 40.2h0.8M323.45 38.65h0.8M321.86 40.33h0.8M311.18 54.32h0.8M317.66 51.1h0.8M312.65 31.03h0.8M334.85 43.76h0.8M307.36 52.26h0.8M301.05 39.5h0.8M330.61 39.87h0.8M330.39 42.81h0.8M313.03 45.64h0.8M309.3 53.21h0.8M329.95 45.63h0.8M323.65 49.2h0.8M337.56 33.16h0.8M329.03 52.01h0.8M311.7 45.23h0.8M311.28 54.45h0.8M300.94 49.7h0.8M332.39 49.44h0.8M309.55 41.66h0.8M288.33 37.37h0.8M329.95 38h0.8M294.55 43.27h0.8M296.49 48.58h0.8M304.47 52.3h0.8M314.25 34.44h0.8M305.78 40.25h0.8M304.84 54.44h0.8M302.78 47.87h0.8M308.2 49.57h0.8M297.25 33.33h0.8M322.39 55.9h0.8M297.85 42.77h0.8M309.19 38.08h0.8M328.33 45.5h0.8M297.84 43.51h0.8M333.05 39.8h0.8M309.1 38.9h0.8M317.88 40.95h0.8M327.32 38.87h0.8M296.89 48.54h0.8M274.65 37.98h0.8M319.43 46.99h0.8M308.29 41.79h0.8M322.55 73.21h0.8M305.35 43.79h0.8M309.87 49.3h0.8M315.91 49.31h0.8M336.95 43.08h0.8M312.03 47.97h0.8M342.99 42.43h0.8M337.69 54.07h0.8M280.29 37.65h0.8M303.06 48.13h0.8M333.01 45.55h0.8M317.9 61.47h0.8M320.41 61.35h0.8M304.19 57.55h0.8M309.23 26.85h0.8M305.05 41.56h0.8M315.23 50.83h0.8M324.74 49.07h0.8M306.1 58.58h0.8M331.34 45.41h0.8M308.38 44.78h0.8M312.92 39.89h0.8M315.66 40.13h0.8M324.13 40.22h0.8M322.15 47.55h0.8M317.96 49.08h0.8M302.49 64.56h0.8M306.82 50.67h0.8M316.09 41.87h0.8M338.38 53.45h0.8M312.25 49.39h0.8M324.68 57.07h0.8M328.98 43.86h0.8M312.55 36.35h0.8M319.23 51.67h0.8M310.76 50.14h0.8M317.54 41.64h0.8M299.99 53.53h0.8M348.73 49.25h0.8M301.82 37.31h0.8M319.11 50.04h0.8M335.55 26.88h0.8M339.86 46.38h0.8M317.61 48.05h0.8M311.23 42.96h0.8M329.54 32.02h0.8M314.37 49.36h0.8M294.45 43.91h0.8M335.73 47.95h0.8M325.04 50.46h0.8M318.72 47.83h0.8M305.29 43.54h0.8M339.86 35.82h0.8M313.68 35.53h0.8M308.93 39.27h0.8M299.93 46.95h0.8M303.6 49.13h0.8M339.35 25.74h0.8M313.72 29.24h0.8M314.26 47.96h0.8M318.62 54.28h0.8M317.95 32.04h0.8M335.44 37.93h0.8M314.68 47.57h0.8M304.44 45.8h0.8M335.31 32.31h0.8M294.23 41.72h0.8M313.72 35.41h0.8M285.95 52.05h0.8M320.98 35.05h0.8M323.36 44.63h0.8M317.99 34.96h0.8M313.06 48.75h0.8M293.12 37.13h0.8M328.51 60.28h0.8M324.51 44.57h0.8M301.83 42.02h0.8M312.64 48.47h0.8M312.61 63.95h0.8M333.14 28.39h0.8M300.71 45.09h0.8M328.7 48.19h0.8M280.11 32.57h0.8M333.48 49.6h0.8M349.25 51.2h0.8M321.95 56.75h0.8M310.13 40.94h0.8M302.76 46.99h0.8M321.65 52.24h0.8M334.79 49.86h0.8M331.98 43.2h0.8M303.39 50.67h0.8M329.15 55.32h0.8M313.8 41.51h0.8M311.21 47.84h0.8M315.32 43.68h0.8M319.27 42.87h0.8M320.34 40.51h0.8M295.84 42.72h0.8M340.57 38.89h0.8M327.87 55.37h0.8M308.88 47.06h0.8M286.23 49.46h0.8M335.99 46.5h0.8M290.05 40.65h0.8M306.28 45.94h0.8M319.69 41.92h0.8M311.93 38.82h0.8M323.44 46.61h0.8M320.47 41.22h0.8M322.4 42.78h0.8M319.84 43.85h0.8M307.33 36.68h0.8M291.69 34.61h0.8M321.98 70.07h0.8M294.58 38.82h0.8M315.85 72.45h0.8M313.3 36.12h0.8M321.44 61.09h0.8M279.55 36.09h0.8M332.11 36.14h0.8M314.62 40.22h0.8M325.92 33.9h0.8M320.03 46.75h0.8M323.34 48.35h0.8M317.98 31.39h0.8M311.76 37.78h0.8M322.9 43.26h0.8M317.96 53.54h0.8M314.58 58.03h0.8M326.87 33.62h0.8M308.37 54.44h0.8M309.48 54.26h0.8M308.66 44.11h0.8M329.38 32.9h0.8M316.98 41.55h0.8M318.2 58.24h0.8M322.38 34.63h0.8M328.51 41.55h0.8M318.14 53.98h0.8M311.95 52.43h0.8M318.31 38.07h0.8M311.96 34.56h0.8M331.39 46.3h0.8M328.6 36.43h0.8M327.03 35.81h0.8M319.65 44.93h0.8M308.31 47.4h0.8M316.44 38.33h0.8M306.32 34.95h0.8M333.84 46.19h0.8M311.27 50.37h0.8M304.78 36.04h0.8M320.63 57.28h0.8M319.9 46.22h0.8M338.7 33.07h0.8M355.81 36.51h0.8M315.04 34.64h0.8M300.19 43.17h0.8M347.8 37.74h0.8M307.97 47.1h0.8" stroke="#5060cc" stroke-width="0.8" opacity="0.4"/>
<path d="M297.76 30.05h0.8M314.76 26.35h0.8M303.22 31.85h0.8M301.34 32.07h0.8M292.2 27.09h0.8M302.78 27.9h0.8M311.19 46.56h0.8M312.44 32.26h0.8M314.86 40.17h0.8M297.85 34.52h0.8M299.7 35.02h0.8M310.01 41.78h0.8M297.28 30.54h0.8M307.04 28.46h0.8M306.97 38.29h0.8M295.52 27.71h0.8M298.79 25.19h0.8M294.7 37.33h0.8M300.66 30.39h0.8M310.74 41.38h0.8M319.02 28.4h0.8M313.59 28.08h0.8M300.92 30.38h0.8M297.45 41.39h0.8M301.8 38.89h0.8M303.74 33.23h0.8M308.11 37.42h0.8M311.64 27.47h0.8M308.28 36.85h0.8M309.6 35.4h0.8M310.24 29.18h0.8M315.53 31.57h0.8M313.86 42.46h0.8M305.01 32.49h0.8M311.35 34.74h0.8M295.6 32.02h0.8M296.57 28.58h0.8M317.15 42.61h0.8M301.73 32.46h0.8M300.15 32.18h0.8M292.97 33.15h0.8M306.12 31.25h0.8M296 44.32h0.8M302.46 30.61h0.8M301.44 30.15h0.8M313.71 40.68h0.8M307.54 36.82h0.8M300.46 19.87h0.8M315.16 41.4h0.8M306.17 35.87h0.8M306.47 34.65h0.8M306.73 23.11h0.8M309.2 35.77h0.8M311.84 38.08h0.8M301.85 35.98h0.8M307.15 32.49h0.8M302.88 31.04h0.8M303.49 31.15h0.8M307.53 50.03h0.8M302.28 38.81h0.8M295.54 13.83h0.8M301.7 31.99h0.8M301.69 25.75h0.8M299.46 29.33h0.8M306.72 32.88h0.8M296.59 29.02h0.8M317.84 34.11h0.8M303.81 38.79h0.8M299.89 29.19h0.8M324.7 47.58h0.8M300.77 33.29h0.8M305.51 34.95h0.8M308.99 33.9h0.8M289.92 23.54h0.8M308.41 28.17h0.8M300.07 39.98h0.8M307.88 31.65h0.8M304.3 39.17h0.8M294.21 23.6h0.8M300.75 30.18h0.8M305.3 31.11h0.8M305.66 34.7h0.8M297.27 27.96h0.8M295.21 31.93h0.8M305.88 37.7h0.8M299.31 29.18h0.8M288.31 27.98h0.8M292.28 31.16h0.8M312.37 38.98h0.8M309.34 36.75h0.8M306.23 39.3h0.8M311.13 46.67h0.8M301.62 37.08h0.8M310.8 38.32h0.8M309.11 28.96h0.8M314.65 32.94h0.8M301.52 28.32h0.8M310.8 31.11h0.8M307.5 37.82h0.8M306.32 32.73h0.8M307.29 41.6h0.8M303.28 27.94h0.8M301.94 28.35h0.8M303.47 32.64h0.8M285.3 34.37h0.8M299.6 29.82h0.8M293.57 19.66h0.8M297 32.27h0.8M314.38 28.07h0.8M304.16 41.51h0.8M301.36 37.41h0.8M308.87 30.63h0.8M313.46 33.93h0.8M308.32 33.14h0.8M303.12 34.1h0.8M317.71 29.93h0.8M296.46 31.42h0.8M312.62 35.8h0.8M302.72 35.89h0.8M318.32 34.18h0.8M293.49 28.35h0.8M312.92 30.1h0.8M311.89 41.35h0.8M312.31 32.3h0.8M294.22 33.46h0.8M305.82 37.84h0.8M299.79 16.86h0.8M311.74 41.61h0.8M302.93 33.21h0.8M307.15 38.64h0.8M304.43 31.14h0.8M295.97 36h0.8M311.39 18.75h0.8M308.52 32.33h0.8M296.29 28.19h0.8M296.15 28.46h0.8M300.04 34.83h0.8M300.42 22.95h0.8M302.74 26.08h0.8M310.89 35.08h0.8M293.9 25.44h0.8M304.86 33.73h0.8M291.4 28.38h0.8M305.58 39.3h0.8M313.43 36.42h0.8M295.85 28.74h0.8M311.39 31.58h0.8M316.03 33.06h0.8M295.17 34.69h0.8M303.71 35.18h0.8M302.66 33.3h0.8M297.48 41.02h0.8M310.12 35.21h0.8M307.16 39.08h0.8M300.75 33.35h0.8M307.47 31.98h0.8M299.52 30.97h0.8M303.42 31.32h0.8M290.3 29.04h0.8M309.78 36.11h0.8M316.42 42.59h0.8M303.44 29.95h0.8M309.37 33.66h0.8M292.67 30.13h0.8M303.14 32.16h0.8M309.27 36.55h0.8M321.39 36.15h0.8M303.76 35.13h0.8M302.54 30.45h0.8M320.51 32.17h0.8M310.5 26.97h0.8M310.71 26.19h0.8M294.37 35.97h0.8M316.33 38.78h0.8M282.95 31.18h0.8M308.66 29.63h0.8M304.52 27.02h0.8M304.44 33.34h0.8M304.61 37.91h0.8M303.81 22.22h0.8M298.32 25.09h0.8M302.95 31h0.8M302.42 40.08h0.8M306.98 29.17h0.8M304.15 29.18h0.8M302.23 35.96h0.8M295.36 34.1h0.8M315.86 45.77h0.8M317.03 38.83h0.8M291.56 39.4h0.8M304.23 34.9h0.8M303.88 28.76h0.8M311.93 29.35h0.8M293.78 32.74h0.8M303.58 29.17h0.8M306.37 41.79h0.8M303.09 32.61h0.8M307.65 39.77h0.8M311.63 39.89h0.8M299.15 34.59h0.8" stroke="#5060cc" stroke-width="0.8" opacity="0.4"/>
<ellipse cx="301" cy="30.5" rx="3.6" ry="4.6" fill="#6878d4" opacity="0.6" filter="url(#bl09)"/>
<path d="M301.02 25.59h0.8M303.71 32.15h0.8M304 30.31h0.8M302.59 30.29h0.8M301.36 33.13h0.8M301.13 32.26h0.8M300.92 34.04h0.8M302.43 25.72h0.8M304.64 31.77h0.8M299.88 28.7h0.8M305.36 30.76h0.8M302.12 32.22h0.8M299.69 35.55h0.8M305.61 28.25h0.8M303.49 25.8h0.8M300.26 30.68h0.8M301.11 32.14h0.8M301.88 31.57h0.8M300.7 31.37h0.8M299.79 36.16h0.8M301.14 34.07h0.8M301.23 30.07h0.8M300.61 26.78h0.8M305.55 31.69h0.8M301.29 29.17h0.8M303.8 29.55h0.8M300 28.94h0.8M304.38 31.4h0.8M300.68 28.65h0.8M303.81 31.33h0.8M300.28 33.08h0.8M302.92 27.64h0.8M303.52 33.64h0.8M300.47 26.68h0.8M303.39 29.52h0.8M300.56 29.68h0.8M300.41 32.91h0.8M298.62 32.03h0.8M303.53 33.53h0.8M302.58 31.27h0.8M300.58 30.16h0.8M299.1 35.31h0.8M300.75 27.61h0.8M302.83 34.83h0.8M301.62 29.6h0.8M298.59 32.35h0.8M300.48 28.61h0.8M302.32 26.8h0.8M302.61 23.54h0.8M299.67 26.41h0.8M300.48 32.79h0.8M298.19 34.4h0.8M299.54 29.13h0.8M303.17 28.42h0.8M304.17 29.92h0.8M300.81 27.75h0.8M303.51 30.32h0.8M299.97 27.79h0.8M299.64 30.23h0.8M299.46 32.78h0.8M300.94 28.74h0.8M302.02 34.58h0.8M296.51 31.53h0.8M303.36 30.9h0.8M302.81 26.11h0.8M299.4 33.39h0.8M300.82 30.68h0.8M302.38 31.55h0.8M302 29.09h0.8M300.38 34.24h0.8M299.96 26.4h0.8M300.27 33.05h0.8M304.9 30.93h0.8M299.69 32.24h0.8M301.68 33.87h0.8M302.15 32.65h0.8M302.13 31.7h0.8M299.07 30.04h0.8M304.48 34.3h0.8M303.11 31.63h0.8M300.8 31.5h0.8M300.33 33.6h0.8M300.36 28.34h0.8M297.57 34.93h0.8M299.42 28.06h0.8M301.91 35.62h0.8M302.48 29.56h0.8M302.26 28.16h0.8M300.5 30.59h0.8M301.07 32.72h0.8M302.2 35.86h0.8M302.84 29.7h0.8M301.6 28.09h0.8M299.74 29.54h0.8M303.23 28.55h0.8M297.7 27.63h0.8M298.48 29.98h0.8M300.4 27.2h0.8M299.36 29.33h0.8M301.9 32.25h0.8M303.89 29.78h0.8M302.41 30.72h0.8M298.72 28.71h0.8M305.74 30.05h0.8M304.59 32.85h0.8M304.62 29.97h0.8M303.06 29.65h0.8M298.7 27.19h0.8M302.01 25.94h0.8M301.85 28.04h0.8M301.83 26.62h0.8M302.89 29.86h0.8M297.81 26.43h0.8M301.21 25.87h0.8M301.78 31.88h0.8M299.68 34.47h0.8M304.16 31.4h0.8M302.05 31.85h0.8M300.52 34.23h0.8M299.94 23.38h0.8M301.13 31.76h0.8M302.84 27.38h0.8M304.05 28.18h0.8M302.43 32.58h0.8M301.46 33.72h0.8M300.03 36.32h0.8M302.13 29.32h0.8M306.63 30.49h0.8M297.63 34.53h0.8M304.38 28.87h0.8M298.98 33.71h0.8M301.21 27.78h0.8M300.06 30.7h0.8M303.18 34.94h0.8M299.77 34.86h0.8M297.87 32.53h0.8M300.79 31.75h0.8M300.16 28.49h0.8M301.69 33.71h0.8M296.37 30.65h0.8M300.23 27.47h0.8M298.23 31.97h0.8M302.27 32.34h0.8M296.86 26.19h0.8M299.78 29.28h0.8M304.84 29.41h0.8M301.36 33.33h0.8M304.65 31.56h0.8M301.82 36h0.8M300.23 25.41h0.8M299.49 29.62h0.8M303.88 31.41h0.8M303.65 30.8h0.8M301.18 28.87h0.8M298.47 31.95h0.8M301.86 32.13h0.8M299.96 29.32h0.8M301.9 32.23h0.8M305.33 28.03h0.8M303.2 33.02h0.8" stroke="#3444c0" stroke-width="0.8" opacity="0.55"/>
<g clip-path="url(#c3b)">
<path d="M326.73 47.8h0.9M327.93 55.7h0.9M343.02 48.85h0.9M326.77 52.41h0.9M331.12 45.97h0.9M332.62 51.96h0.9M325.97 51.85h0.9M315.25 39.71h0.9M326.45 47.92h0.9M319.8 55.41h0.9M326.06 47.87h0.9M328.01 51.3h0.9M324.9 51.24h0.9M323.44 38.6h0.9M331.23 47.93h0.9M333.37 35.99h0.9M328.9 43.36h0.9M327.17 44.78h0.9M326.08 43.21h0.9M334.18 37.24h0.9M318.56 48.97h0.9M339.93 42.67h0.9M323.01 40.37h0.9M322.34 54.12h0.9M332.21 52.14h0.9M330.27 48.34h0.9M324.88 41.5h0.9M331.86 61.11h0.9M326.12 54.23h0.9M324.17 47.23h0.9M338.11 46.59h0.9M331.94 43.82h0.9M339.16 40.01h0.9M331.51 45.66h0.9M329.4 49.08h0.9M335.88 52h0.9M334.37 49.1h0.9M322.06 54.65h0.9M337.18 49.76h0.9M332.86 45.69h0.9M319.9 52.62h0.9M324.04 57.92h0.9M332.26 46.9h0.9M324.69 47.63h0.9M322.39 44.87h0.9M337.52 45.33h0.9M338.93 46.46h0.9M330.67 41.75h0.9M326.5 44.47h0.9M320.18 58.04h0.9M331.67 46.53h0.9M321.89 47.2h0.9M322.13 41.48h0.9M327.15 59.32h0.9M318.13 50.2h0.9M325.07 30.45h0.9M320.04 46.24h0.9M328.6 42.71h0.9M338.55 50.07h0.9M324.57 37.62h0.9M329.25 43.18h0.9M334.18 41.05h0.9M335.18 44.38h0.9M329.36 45.46h0.9M331.86 53.57h0.9M325.07 41.85h0.9M339.24 52.47h0.9M339.32 52.47h0.9M329 56.33h0.9M324.33 44.57h0.9M325.89 50.93h0.9M323.26 46h0.9M323.3 45.67h0.9M334.74 53.36h0.9M326.93 61.58h0.9M324.13 49.63h0.9M325.43 34.35h0.9M321.31 54.1h0.9M318.58 63.75h0.9M327.49 48.56h0.9M335.5 47.18h0.9M324.51 43.52h0.9M322.72 50.16h0.9M325.46 49.94h0.9M319.46 44.54h0.9M340.2 49.1h0.9M327.6 53.8h0.9M329.81 55.79h0.9M321.42 51.41h0.9M322.02 50.91h0.9M342.51 55.77h0.9M323.2 49.42h0.9M330.86 42.89h0.9M329.61 40.91h0.9M333.83 52.25h0.9M327.24 50.95h0.9M342.08 46.1h0.9M317.28 48.94h0.9M325.54 42.54h0.9M333.44 52.75h0.9M331.66 56.37h0.9M324.5 44.63h0.9M330.63 31.5h0.9M312.24 48.99h0.9M326.93 47.35h0.9M322.56 48.31h0.9M334.34 43.39h0.9M331.47 46.13h0.9M327.24 47.68h0.9M336.97 50h0.9M332.16 47.87h0.9M315.62 52.42h0.9M328.05 47.56h0.9M325.21 38.17h0.9M336.86 57.53h0.9M337.33 36.46h0.9M331.37 40.25h0.9M327.07 44.06h0.9M324.53 42.59h0.9M325.33 51.46h0.9M337.56 52.34h0.9M328.07 46.18h0.9M326.71 46.89h0.9M324.52 45.99h0.9M333.1 45.72h0.9M323.37 46.31h0.9M328.64 46.56h0.9M326.6 51.06h0.9M327.87 41.22h0.9M331.45 42.92h0.9M332.65 51.7h0.9M330.96 48.78h0.9M320.24 45.88h0.9M328.86 50.68h0.9M321.55 46.12h0.9M319.11 48.03h0.9M328.58 47.71h0.9M337.81 51.23h0.9M326.98 43.69h0.9M325.51 51.5h0.9M333.48 44.12h0.9M327.43 44.52h0.9M332.14 48.1h0.9M323.89 41.93h0.9M335.75 38.97h0.9M317.47 29.35h0.9M340.04 43.92h0.9M333.13 50.23h0.9M333.04 53.54h0.9M325.36 46.92h0.9M333.89 50.21h0.9M323.66 42.67h0.9M319.62 48.5h0.9M324.98 38.09h0.9M324.83 48.87h0.9M329.18 45.74h0.9M329.07 50.75h0.9M321.06 42.33h0.9M333.84 51.23h0.9M319.85 42.86h0.9M336.65 51.33h0.9M327.25 52.87h0.9M336.18 55.12h0.9M319.91 39.58h0.9M325.11 46.73h0.9M326.02 48.41h0.9M336.85 53.32h0.9M333.96 47h0.9M337.85 49.65h0.9M329.55 46.91h0.9M317.27 59.36h0.9M327.97 52.17h0.9M341.49 45.92h0.9M321.25 52.86h0.9M329.54 41.6h0.9M333.81 47.08h0.9M322.52 32.5h0.9M322.24 49.21h0.9M321.99 52.59h0.9M341.13 48.85h0.9M329.45 46.57h0.9M333.2 47.2h0.9M334.25 55.16h0.9M333.16 41.5h0.9M332.05 45.51h0.9M329.96 52.57h0.9M324.2 48.2h0.9M336.8 42.24h0.9M326.98 51.18h0.9M326.74 52.89h0.9M322.13 38.44h0.9M330.35 46.24h0.9M329.97 52.53h0.9M334.33 45.03h0.9M325.82 35.93h0.9M322.34 48.42h0.9M329.4 38.54h0.9M332.76 46.79h0.9M334.63 45h0.9M333.83 40.69h0.9M317.13 42.41h0.9M332.26 49.36h0.9M316.93 47.86h0.9M332.08 56.61h0.9M332.74 49.93h0.9M318.74 49.15h0.9M316.44 45.34h0.9M325.92 41.48h0.9M322.1 46.22h0.9M331.55 43.33h0.9M329.9 51.07h0.9M327.97 57.93h0.9M326.26 42.85h0.9M316.84 53.13h0.9M332.13 45.96h0.9M329.95 46.28h0.9M333.28 46.96h0.9M329.45 46.57h0.9M322.85 34.37h0.9M331.33 39.93h0.9M330.46 50.66h0.9M339.28 42.78h0.9M328.99 52.42h0.9M324.14 43.67h0.9M330.76 58.77h0.9M334.5 52.46h0.9M322.39 50.78h0.9M334.87 39.83h0.9M328.17 45.92h0.9M331.93 37.11h0.9M332.29 47.02h0.9M326.52 34.98h0.9M315.8 43.93h0.9M331.97 49.44h0.9M332.55 37.36h0.9M329.3 54.68h0.9M318.9 50.72h0.9M323.78 50.14h0.9M328.69 37.77h0.9M321.87 54.25h0.9M327.45 54.05h0.9M330.1 52.09h0.9M325.75 48.26h0.9M325.89 52.17h0.9M324.68 53.31h0.9M337.43 40.11h0.9M327.09 50.09h0.9M338.63 53.55h0.9M328.61 37.19h0.9M333.09 43.68h0.9" stroke="#2e44b8" stroke-width="0.9" opacity="0.6"/>
<g filter="url(#bl09)"><path d="M324 37.5 Q334 35.8 345 36.5 L345 56.8 Q334 57.8 324 56.5 Q320.5 47 324 37.5 Z" fill="#3050c8"/></g>
<g transform="translate(335 46.4) rotate(0)" filter="url(#bl06)">
<ellipse cx="0" cy="0" rx="9" ry="9.6" fill="#3a86dc"/>
<ellipse cx="0" cy="0" rx="7.85" ry="8.37" fill="#42b6dc"/>
<ellipse cx="0" cy="0" rx="6.73" ry="7.18" fill="#4cc8a8"/>
<ellipse cx="0" cy="0" rx="5.66" ry="6.04" fill="#66cc66"/>
<ellipse cx="0" cy="0" rx="4.63" ry="4.94" fill="#a8d438"/>
<ellipse cx="0" cy="0" rx="3.66" ry="3.9" fill="#e8d424"/>
<ellipse cx="0" cy="0" rx="2.73" ry="2.92" fill="#f4a020"/>
<ellipse cx="0" cy="0" rx="1.88" ry="2.01" fill="#f05a1a"/>
<ellipse cx="0" cy="0" rx="1.11" ry="1.18" fill="#e02a16"/>
</g>
</g>
</g>
<ellipse cx="309.6" cy="25.1" rx="24.4" ry="8.2" transform="rotate(-18.5 309.6 25.1)" fill="none" stroke="#333" stroke-width="0.7"/>
<ellipse cx="325.6" cy="49.6" rx="29.2" ry="13.4" transform="rotate(-4 325.6 49.6)" fill="none" stroke="#333" stroke-width="0.7"/>
<rect x="279" y="6" width="77.5" height="71.1" fill="none" stroke="#7a7a7a" stroke-width="0.8"/>
<line x1="277.4" y1="12.8" x2="279" y2="12.8" stroke="#444" stroke-width="0.8"/>
<text x="273.9" y="15" font-size="6.1" text-anchor="end" font-weight="normal" fill="#1a1a1a" stroke="#1a1a1a" stroke-width="0.16">10<tspan dy="-2.44" font-size="3.54" stroke-width="0.04">5</tspan></text>
<line x1="277.4" y1="29.3" x2="279" y2="29.3" stroke="#444" stroke-width="0.8"/>
<text x="273.9" y="31.5" font-size="6.1" text-anchor="end" font-weight="normal" fill="#1a1a1a" stroke="#1a1a1a" stroke-width="0.16">10<tspan dy="-2.44" font-size="3.54" stroke-width="0.04">4</tspan></text>
<line x1="277.4" y1="49.1" x2="279" y2="49.1" stroke="#444" stroke-width="0.8"/>
<text x="273.9" y="51.3" font-size="6.1" text-anchor="end" font-weight="normal" fill="#1a1a1a" stroke="#1a1a1a" stroke-width="0.16">10<tspan dy="-2.44" font-size="3.54" stroke-width="0.04">3</tspan></text>
<line x1="277.4" y1="60.3" x2="279" y2="60.3" stroke="#444" stroke-width="0.8"/>
<text x="272.3" y="62.5" font-size="6.1" text-anchor="end" font-weight="normal" fill="#1a1a1a" stroke="#1a1a1a" stroke-width="0.16">0</text>
<line x1="277.4" y1="71.9" x2="279" y2="71.9" stroke="#444" stroke-width="0.8"/>
<text x="273.9" y="74.1" font-size="6.1" text-anchor="end" font-weight="normal" fill="#1a1a1a" stroke="#1a1a1a" stroke-width="0.16">&#8722;10<tspan dy="-2.44" font-size="3.54" stroke-width="0.04">3</tspan></text>
<line x1="278.2" y1="16.1" x2="279" y2="16.1" stroke="#666" stroke-width="0.5"/>
<line x1="278.2" y1="19.4" x2="279" y2="19.4" stroke="#666" stroke-width="0.5"/>
<line x1="278.2" y1="22.7" x2="279" y2="22.7" stroke="#666" stroke-width="0.5"/>
<line x1="278.2" y1="26" x2="279" y2="26" stroke="#666" stroke-width="0.5"/>
<line x1="278.2" y1="33.26" x2="279" y2="33.26" stroke="#666" stroke-width="0.5"/>
<line x1="278.2" y1="37.22" x2="279" y2="37.22" stroke="#666" stroke-width="0.5"/>
<line x1="278.2" y1="41.18" x2="279" y2="41.18" stroke="#666" stroke-width="0.5"/>
<line x1="278.2" y1="45.14" x2="279" y2="45.14" stroke="#666" stroke-width="0.5"/>
<line x1="278.2" y1="51.34" x2="279" y2="51.34" stroke="#666" stroke-width="0.5"/>
<line x1="278.2" y1="53.58" x2="279" y2="53.58" stroke="#666" stroke-width="0.5"/>
<line x1="278.2" y1="55.82" x2="279" y2="55.82" stroke="#666" stroke-width="0.5"/>
<line x1="278.2" y1="58.06" x2="279" y2="58.06" stroke="#666" stroke-width="0.5"/>
<line x1="278.2" y1="62.62" x2="279" y2="62.62" stroke="#666" stroke-width="0.5"/>
<line x1="278.2" y1="64.94" x2="279" y2="64.94" stroke="#666" stroke-width="0.5"/>
<line x1="278.2" y1="67.26" x2="279" y2="67.26" stroke="#666" stroke-width="0.5"/>
<line x1="278.2" y1="69.58" x2="279" y2="69.58" stroke="#666" stroke-width="0.5"/>
<line x1="285.4" y1="77.1" x2="285.4" y2="78.7" stroke="#444" stroke-width="0.8"/>
<text x="284.4" y="87.6" font-size="6.1" text-anchor="middle" font-weight="normal" fill="#1a1a1a" stroke="#1a1a1a" stroke-width="0.16">&#8722;10<tspan dy="-2.44" font-size="3.54" stroke-width="0.04">3</tspan></text>
<line x1="296.6" y1="77.1" x2="296.6" y2="78.7" stroke="#444" stroke-width="0.8"/>
<text x="296.6" y="87.6" font-size="6.1" text-anchor="middle" font-weight="normal" fill="#1a1a1a" stroke="#1a1a1a" stroke-width="0.16">0</text>
<line x1="307.9" y1="77.1" x2="307.9" y2="78.7" stroke="#444" stroke-width="0.8"/>
<text x="308.7" y="87.6" font-size="6.1" text-anchor="middle" font-weight="normal" fill="#1a1a1a" stroke="#1a1a1a" stroke-width="0.16">10<tspan dy="-2.44" font-size="3.54" stroke-width="0.04">3</tspan></text>
<line x1="330.7" y1="77.1" x2="330.7" y2="78.7" stroke="#444" stroke-width="0.8"/>
<text x="331.5" y="87.6" font-size="6.1" text-anchor="middle" font-weight="normal" fill="#1a1a1a" stroke="#1a1a1a" stroke-width="0.16">10<tspan dy="-2.44" font-size="3.54" stroke-width="0.04">4</tspan></text>
<line x1="347.7" y1="77.1" x2="347.7" y2="78.7" stroke="#444" stroke-width="0.8"/>
<text x="348.5" y="87.6" font-size="6.1" text-anchor="middle" font-weight="normal" fill="#1a1a1a" stroke="#1a1a1a" stroke-width="0.16">10<tspan dy="-2.44" font-size="3.54" stroke-width="0.04">5</tspan></text>
<line x1="287.64" y1="77.1" x2="287.64" y2="77.9" stroke="#666" stroke-width="0.5"/>
<line x1="289.88" y1="77.1" x2="289.88" y2="77.9" stroke="#666" stroke-width="0.5"/>
<line x1="292.12" y1="77.1" x2="292.12" y2="77.9" stroke="#666" stroke-width="0.5"/>
<line x1="294.36" y1="77.1" x2="294.36" y2="77.9" stroke="#666" stroke-width="0.5"/>
<line x1="298.86" y1="77.1" x2="298.86" y2="77.9" stroke="#666" stroke-width="0.5"/>
<line x1="301.12" y1="77.1" x2="301.12" y2="77.9" stroke="#666" stroke-width="0.5"/>
<line x1="303.38" y1="77.1" x2="303.38" y2="77.9" stroke="#666" stroke-width="0.5"/>
<line x1="305.64" y1="77.1" x2="305.64" y2="77.9" stroke="#666" stroke-width="0.5"/>
<line x1="312.46" y1="77.1" x2="312.46" y2="77.9" stroke="#666" stroke-width="0.5"/>
<line x1="317.02" y1="77.1" x2="317.02" y2="77.9" stroke="#666" stroke-width="0.5"/>
<line x1="321.58" y1="77.1" x2="321.58" y2="77.9" stroke="#666" stroke-width="0.5"/>
<line x1="326.14" y1="77.1" x2="326.14" y2="77.9" stroke="#666" stroke-width="0.5"/>
<line x1="334.1" y1="77.1" x2="334.1" y2="77.9" stroke="#666" stroke-width="0.5"/>
<line x1="337.5" y1="77.1" x2="337.5" y2="77.9" stroke="#666" stroke-width="0.5"/>
<line x1="340.9" y1="77.1" x2="340.9" y2="77.9" stroke="#666" stroke-width="0.5"/>
<line x1="344.3" y1="77.1" x2="344.3" y2="77.9" stroke="#666" stroke-width="0.5"/>
<ellipse cx="278.2" cy="60.5" rx="0.8" ry="1.5" fill="#111"/>
<ellipse cx="296.2" cy="78" rx="1.8" ry="0.7" fill="#111"/>
<text x="344.2" y="12.6" font-size="3.9" text-anchor="middle" font-weight="normal" fill="#2a2a2a">CD56Bright</text>
<text x="344.2" y="17.6" font-size="3.9" text-anchor="middle" font-weight="normal" fill="#2a2a2a">2.01</text>
<text x="342.5" y="69.7" font-size="3.9" text-anchor="middle" font-weight="normal" fill="#2a2a2a">CD56Dim</text>
<text x="343.5" y="74.1" font-size="3.9" text-anchor="middle" font-weight="normal" fill="#2a2a2a">96.9</text>
<text x="316.6" y="99.19" font-size="8.3" text-anchor="middle" font-weight="bold" fill="#222" textLength="12.8" lengthAdjust="spacingAndGlyphs">CD16</text>
<text x="255.2" y="43.99" font-size="8.3" text-anchor="middle" font-weight="bold" fill="#222" textLength="13.5" lengthAdjust="spacingAndGlyphs" transform="rotate(-90 255.2 41)">CD56</text>
<clipPath id="c4"><rect x="168.5" y="115.3" width="76.80000000000001" height="71.00000000000001"/></clipPath>
<g clip-path="url(#c4)">
<path d="M207.93 147.11h0.8M200.79 150.56h0.8M211.15 148.01h0.8M209.73 146.87h0.8M200.84 142.37h0.8M210.7 143.29h0.8M207.18 146.95h0.8M207.46 146.36h0.8M209.23 145.02h0.8M202.16 143.61h0.8M211.32 141.49h0.8M209.16 146.6h0.8M203.14 130.35h0.8M206.99 140.98h0.8M204.28 149.87h0.8M203.65 146.82h0.8M207.59 146.05h0.8M215.93 134.77h0.8M211.36 144.26h0.8M205.83 141.54h0.8M207.24 145.25h0.8M202.99 153.52h0.8M203.77 144.31h0.8M201.42 145.8h0.8M208.65 150.64h0.8M211.43 142.42h0.8M214.2 144.46h0.8M213.97 153.91h0.8M205.27 139.44h0.8M209.47 152.47h0.8M208.83 150.69h0.8M209.7 149.62h0.8M212.95 143.48h0.8M200.77 144.39h0.8M203.55 138.83h0.8M206.32 148.71h0.8M198.87 137.15h0.8M210.61 140.41h0.8M205.33 152.03h0.8M212.05 146.86h0.8M209.45 130.92h0.8M209.53 146.99h0.8M200.88 145.95h0.8M209.09 144.41h0.8M210.58 149.58h0.8M207.29 143.72h0.8M201.82 150.92h0.8M204.52 146.66h0.8M213.86 149.02h0.8M201.42 144.56h0.8M203.9 136.48h0.8M203.5 148.04h0.8M208.56 143.94h0.8M207.83 138.97h0.8M203.65 144.14h0.8M210.59 143.35h0.8M206.32 146.74h0.8M213.57 138.48h0.8M209.42 145.97h0.8M206.74 146.29h0.8M198.26 145.16h0.8M206 138.61h0.8M210.8 144.39h0.8M205.54 148.94h0.8M202.97 141.29h0.8M210.71 149.52h0.8M216.01 142.64h0.8M200.61 137.32h0.8M201.75 145.55h0.8M206 141.52h0.8M202.58 141.41h0.8M205.43 151.16h0.8M209.82 152.1h0.8M210.68 148.94h0.8M212.27 147.35h0.8M213.88 150.87h0.8M215.11 146.13h0.8M203.62 158.03h0.8M205.81 147.71h0.8M205.37 141.41h0.8M208.98 139.22h0.8M206.34 152.31h0.8M207.59 149.25h0.8M209.88 147h0.8M207.52 148.18h0.8M202.75 148.02h0.8M202.28 141.1h0.8M204.44 138.09h0.8M198.31 146.98h0.8M209.27 148.42h0.8" stroke="#4050c8" stroke-width="0.8" opacity="0.45"/>
<path d="M216.84 170.33h0.8M210.36 163.4h0.8M210.18 160.42h0.8M215.79 161.75h0.8M205.22 174.64h0.8M197.29 179.1h0.8M202.82 170.51h0.8M211.39 170.18h0.8M211.18 165.22h0.8M209.67 152.62h0.8M213.75 164.01h0.8M203.2 169.13h0.8M214.57 163.71h0.8M206.93 166.29h0.8M202.89 159.17h0.8M209.65 174.33h0.8M203.7 170.72h0.8M209.02 171.87h0.8M206.29 169.35h0.8M208.25 160.99h0.8M206.39 174.99h0.8M204.54 178.89h0.8M205.96 160.72h0.8M205.72 158.82h0.8M209.73 157.02h0.8M207.09 167.23h0.8M205.67 172.19h0.8M208.3 164.81h0.8M210.66 165.62h0.8M211.01 179.11h0.8M208.69 175.98h0.8M201.09 173.25h0.8M200.4 167.69h0.8M210.11 148.82h0.8M203.56 163.19h0.8M202.84 169.17h0.8M209.85 160.3h0.8M204.26 155.03h0.8M203.89 153.24h0.8M200.34 172.53h0.8M210.91 162.88h0.8M208.57 163.16h0.8M211.75 182.17h0.8M196.09 162.48h0.8M204.17 165.42h0.8M213.95 180.84h0.8M206.95 173.81h0.8M199.95 166.77h0.8M205.74 167.88h0.8M208.33 157.24h0.8M202.38 185.12h0.8M199.32 169.45h0.8M210.24 172.71h0.8M207.26 156.86h0.8M204.93 157.26h0.8M215.72 171.71h0.8M210.24 170.54h0.8M205.28 177.9h0.8M210.92 173.79h0.8M209.59 174.57h0.8M205.77 172.25h0.8M207.37 167.12h0.8M209.88 185.12h0.8M198.01 179.83h0.8M205.08 178.05h0.8M202.48 167.61h0.8M211.55 168.47h0.8M208.56 159.9h0.8M201.92 181.56h0.8M207.7 168.35h0.8M200.87 161.2h0.8M202.43 168.63h0.8M206.49 164.41h0.8M204.03 169.84h0.8M212.2 158.43h0.8M200.71 177.5h0.8M200.67 165.92h0.8M207.53 182.72h0.8M197.95 147.14h0.8M206.65 177.09h0.8M207.64 162.91h0.8M207.85 153.5h0.8M210.66 180.15h0.8M206.1 175.18h0.8M202.32 180.13h0.8M204.14 162.99h0.8M203.62 155.68h0.8M209.99 184.1h0.8M200.66 167.51h0.8M209 164.74h0.8M200.07 171.52h0.8M211.46 169.8h0.8M202.25 166.74h0.8M198.43 168.56h0.8M212.41 177.38h0.8M206.62 172.28h0.8M204.7 169.99h0.8M204.36 170.24h0.8M204.71 170.48h0.8M210.08 168.87h0.8M201.25 172.78h0.8M205.91 165.26h0.8M209.5 162.7h0.8M211.14 173.22h0.8M203.94 163.74h0.8M206.47 162.16h0.8M211.21 151.98h0.8M207.66 166.38h0.8M202.14 173.76h0.8M204.86 172.44h0.8M205.07 166.88h0.8M209.32 176.23h0.8M211.43 168.84h0.8M213.57 166.45h0.8M200.97 154.9h0.8M200.6 162.48h0.8M199.1 171.48h0.8M207.15 168.73h0.8M208.06 168.18h0.8M205.89 166.6h0.8" stroke="#4050c8" stroke-width="0.8" opacity="0.45"/>
<path d="M210.1 121.68h0.7M213.15 134.28h0.7M210.09 137.75h0.7M207.62 131.26h0.7M206.01 129.85h0.7M208.17 131.75h0.7M210.28 131.5h0.7M211.5 129.49h0.7M209.33 134.53h0.7M210.88 129.29h0.7M213.53 125.79h0.7M214.29 132.13h0.7M210.2 120.15h0.7M213 125.54h0.7M210.25 127.59h0.7M212.35 130h0.7M205.52 123.9h0.7M210.87 127.82h0.7M211.96 129.69h0.7M214.01 123.59h0.7M213.22 128.82h0.7M210.75 130.24h0.7M209.18 130.39h0.7M209.5 130.42h0.7M208.14 132.56h0.7M206.27 123.91h0.7M209.89 128.15h0.7M208.05 125.11h0.7M210.64 131.97h0.7M213.19 124.76h0.7M209.85 125.53h0.7M206.27 124.9h0.7M212.79 120.65h0.7M217.04 131.63h0.7M214.26 127.88h0.7M204.35 129.09h0.7M213.92 124.29h0.7M213.13 130.59h0.7M211.94 130.55h0.7M211.45 130.08h0.7" stroke="#8090d8" stroke-width="0.7" opacity="0.4"/>
<g transform="translate(207.2 154) rotate(0)" filter="url(#bl09)">
<ellipse cx="0" cy="0" rx="7.6" ry="6" fill="#3050c8"/>
</g>
<path d="M212.22 191.28h0.9M209.52 197.18h0.9M215.42 175.28h0.9M209.82 185.19h0.9M197.7 162.95h0.9M215.1 154.03h0.9M213.58 179.21h0.9M201.41 185.54h0.9M209.16 151.11h0.9M200.38 180.04h0.9M218.02 169h0.9M205.5 150.53h0.9M215.16 162.94h0.9M218.62 191.5h0.9M194.42 176.81h0.9M200.49 180.75h0.9M196.34 178.77h0.9M212.26 155.42h0.9M202.16 154.3h0.9M211.17 151.88h0.9M214.62 160.83h0.9M202.39 184.11h0.9M216.77 172.58h0.9M196.26 171.41h0.9M204.2 151.66h0.9M207.77 190.22h0.9M202.96 185.92h0.9M199.36 180.65h0.9M197.46 167.86h0.9M209.86 147.73h0.9M217.63 169.64h0.9M206.75 186.25h0.9M214.43 179.08h0.9M196.75 168.19h0.9M214.5 176.62h0.9M197.36 166.42h0.9M217.39 167.03h0.9M207.3 185.99h0.9M211.7 185.77h0.9M201.25 149.73h0.9M212.32 181.69h0.9M206.74 151.99h0.9M206.93 185.54h0.9M207.88 184.41h0.9M202.12 185.8h0.9M213.33 157.35h0.9M204.85 186.74h0.9M212.09 153.62h0.9M199.55 180.65h0.9M213.04 152.63h0.9M214.25 159.44h0.9M215.28 188.31h0.9M193.4 172.72h0.9M215.2 187.81h0.9M206.92 148.76h0.9M216.21 160.55h0.9M208.3 148.62h0.9M196.6 171.25h0.9M213.39 156.8h0.9M197.36 175.55h0.9M217.29 163.43h0.9M197.2 166.61h0.9M216.15 172.65h0.9M190.98 157.89h0.9M215.72 169.14h0.9M199.83 182.88h0.9M205.53 186.78h0.9M212.99 153.55h0.9M198.3 177.43h0.9M202.62 154.27h0.9M218.09 181.55h0.9M207.34 151.58h0.9M212.5 183.65h0.9M211.73 153.6h0.9M217.15 161.34h0.9M208.48 185.31h0.9M213.97 158.77h0.9M206.88 151.39h0.9M199.31 180.58h0.9M215.7 152.91h0.9M214.89 148.08h0.9M207.83 186.04h0.9M215.78 165.55h0.9M213.01 185.52h0.9M198.61 188.29h0.9M217.03 164.32h0.9M200.79 184.21h0.9M215.37 153.51h0.9M202.36 183.32h0.9M213.23 185.33h0.9M215.43 151.74h0.9M204.12 187.36h0.9M197.6 172.18h0.9M218.25 170.98h0.9M195.28 167.83h0.9M211.19 184.61h0.9M197.91 179.76h0.9M202.36 182.89h0.9M215.35 164.08h0.9M205.35 151.1h0.9M215.24 162.24h0.9M191.81 164.9h0.9M212.94 184.9h0.9M213.3 155.95h0.9" stroke="#5a6ad0" stroke-width="0.9" opacity="0.5"/>
<path d="M198.96 161.14h0.9M201.37 157.75h0.9M207.96 183.71h0.9M213.64 177.83h0.9M207.97 181.51h0.9M204.48 153.94h0.9M206.16 181.73h0.9M207.42 154.2h0.9M211.8 178.39h0.9M207.96 155.95h0.9M203.32 154.54h0.9M198.55 171.11h0.9M208.68 182.94h0.9M207.16 153.97h0.9M199.64 164.79h0.9M203.55 180.5h0.9M206.67 155.65h0.9M202.16 178.5h0.9M202.24 180.02h0.9M210.85 156.97h0.9M204.34 155.16h0.9M199.04 173.32h0.9M207.2 153h0.9M209.46 180.84h0.9M198.83 161.01h0.9M210.3 156.09h0.9M211.73 179.08h0.9M209.95 157.16h0.9M209.82 181.6h0.9M215.56 168.59h0.9M202.68 180.99h0.9M211.99 156.47h0.9M212.64 159.13h0.9M209.85 181.06h0.9M212.46 160.89h0.9M205.64 154.95h0.9M198.25 166.39h0.9M206.11 155.71h0.9M213.81 174.83h0.9M204.37 154.53h0.9M213.63 159.41h0.9M207.38 181.84h0.9M208.9 153.57h0.9M209.91 156.68h0.9M204.07 156.6h0.9M212.62 158.86h0.9M200.98 180.07h0.9M199.97 175.65h0.9M208.49 155.88h0.9M199.17 176.22h0.9M199.75 177.43h0.9M212.82 160.01h0.9M203.46 156.68h0.9M214.95 171.36h0.9M199.03 160.42h0.9M201.36 158.54h0.9M215.09 166.61h0.9M201.68 156h0.9M206.31 183.05h0.9M199.11 171.94h0.9M213.93 168.11h0.9M213.09 161.35h0.9M210.04 157.33h0.9M201.15 158.04h0.9M206.42 155.21h0.9M206.56 154.87h0.9M212.42 160.65h0.9M211.56 179.66h0.9M215.12 170.21h0.9M199.6 163.13h0.9M198.27 169.82h0.9M211.51 178.55h0.9M214.36 167.09h0.9M202.54 156.44h0.9M198.2 168.27h0.9M202.01 181.55h0.9M210.35 180.89h0.9M206.53 154.25h0.9M202.83 181.53h0.9M205.91 154.69h0.9M213.23 162.88h0.9M213.99 162.19h0.9M206.5 183.32h0.9M205.41 181.32h0.9M205.56 153.11h0.9M200.58 161.37h0.9M203.88 182.68h0.9M209.5 182.43h0.9M200.39 162.09h0.9M201.1 157.2h0.9M211.29 156.85h0.9M214.34 166.62h0.9M209.6 156.18h0.9M201.9 180.89h0.9M206.63 183.15h0.9M200.08 175.25h0.9M200.86 158.8h0.9M200.51 160.11h0.9M210.78 157.62h0.9M208.54 154.35h0.9M198.97 173.23h0.9M200.3 178.58h0.9M213.5 161.86h0.9M199.51 164.71h0.9M213.62 174.77h0.9M203.66 156.36h0.9M203.2 179.8h0.9M201.85 178.83h0.9M213.78 173.53h0.9M211.73 178.57h0.9M199.83 162.32h0.9M199.19 171.87h0.9M199.08 170.81h0.9M215.24 163.83h0.9M214.36 175.27h0.9M213.19 175.7h0.9" stroke="#2e44b8" stroke-width="0.9" opacity="0.7"/>
<g transform="translate(206.7 168.5) rotate(0)" filter="url(#bl07)">
<ellipse cx="0" cy="0" rx="8" ry="14" fill="#3050c8"/>
</g>
<path d="M195.96 145.17h0.9M204.06 153.57h0.9M216.78 141.16h0.9M215.84 137.5h0.9M203.33 131.52h0.9M216.83 141.22h0.9M198.7 123.2h0.9M206.54 131.88h0.9M202.01 133.2h0.9M208.33 158.69h0.9M197.08 143.36h0.9M213.06 127.48h0.9M208.76 155.31h0.9M207.98 131.09h0.9M215.05 147.75h0.9M209.57 132.46h0.9M211.72 132.8h0.9M210.57 153.13h0.9M204.15 155.5h0.9M197.79 149.59h0.9M219.09 143.2h0.9M205.82 154.56h0.9M207.23 156.16h0.9M213.21 135.78h0.9M216.83 150.58h0.9M218.01 150.12h0.9M196.68 143.89h0.9M201.74 132.98h0.9M215.45 140.85h0.9M209.72 154.66h0.9M198.35 148.85h0.9M208.6 155.12h0.9M207.36 155.22h0.9M212.71 133.18h0.9M198.68 148.88h0.9M204.9 154.09h0.9M216.73 147.36h0.9M197.95 146.94h0.9M200.54 151.32h0.9M213.9 156.97h0.9M201.26 131.17h0.9M216.26 144.51h0.9M208.85 133.92h0.9M208.35 131.02h0.9M196.04 146.74h0.9M200.06 154.65h0.9M199.57 155.04h0.9M198.03 137.28h0.9M205.7 155.16h0.9M198.13 139.59h0.9M200.75 136.21h0.9M196.64 145.35h0.9M197.18 148.91h0.9M208.2 131.17h0.9M216.51 134.93h0.9M197.23 147.04h0.9M215.29 137.58h0.9M197.23 145.03h0.9M196.69 141.57h0.9M199.47 154.88h0.9M200.27 152.5h0.9M209.63 129.3h0.9M210.34 155.73h0.9M216.88 144.64h0.9M200.99 152.7h0.9M192.7 141.05h0.9M201.04 153.3h0.9M209.16 132.48h0.9M203.32 153.7h0.9M210.33 153.18h0.9M216.3 141h0.9M207.28 155.64h0.9M200.09 158.6h0.9M213.61 153.22h0.9M204.55 131.36h0.9M207.51 132.75h0.9M215.12 137.52h0.9M199.55 135.61h0.9M218.49 143.93h0.9M219.89 140.83h0.9M201.18 134.35h0.9M215.59 145.61h0.9M213.98 151.62h0.9M193.12 134.25h0.9M212.47 129.54h0.9M217.49 139.59h0.9M215.53 146.32h0.9M205.25 128.3h0.9M215.83 140.81h0.9M206.94 156.48h0.9M213.31 135.67h0.9M196.88 140.8h0.9M216.68 145.38h0.9M198.41 132.98h0.9M217.06 147.08h0.9M217.89 148.54h0.9M208.71 133.77h0.9M199.42 137.65h0.9M197.6 141.76h0.9M204.59 132.83h0.9M211.49 131.08h0.9M202.63 132.96h0.9" stroke="#5a6ad0" stroke-width="0.9" opacity="0.5"/>
<path d="M204.29 134.9h0.9M197.95 143.43h0.9M202.47 136.1h0.9M200.95 149.08h0.9M208.93 135.43h0.9M205.74 153.62h0.9M213.25 147.22h0.9M200.21 147.92h0.9M205.19 134.21h0.9M208.49 152.86h0.9M202.77 135.76h0.9M214.42 145.27h0.9M215.12 146.7h0.9M212.78 136.75h0.9M199.5 147.21h0.9M211.36 151.09h0.9M202.34 135.83h0.9M201.4 149.29h0.9M208.29 152.15h0.9M202.07 152.14h0.9M205.2 153.35h0.9M198.92 144.35h0.9M214.76 145.79h0.9M202.11 151.71h0.9M201.4 136.73h0.9M200.1 148.82h0.9M197.9 143.23h0.9M201.35 149.68h0.9M213.4 148.39h0.9M211.01 152.56h0.9M202.74 150.57h0.9M209.41 135.12h0.9M206.06 152.82h0.9M203.22 135.84h0.9M211.53 136.47h0.9M213.84 139.23h0.9M206.52 151.99h0.9M202.31 150.44h0.9M200.22 149.61h0.9M213.61 147.45h0.9M199.52 142.46h0.9M213.73 139.86h0.9M207.14 135.22h0.9M212.91 137.93h0.9M209.58 136.15h0.9M198.71 148.01h0.9M206.16 135.34h0.9M209.5 152.72h0.9M213.94 139.8h0.9M199.8 147h0.9M212.1 137.46h0.9M210.56 152.71h0.9M214.77 140.07h0.9M208.53 152.51h0.9M205.75 135.76h0.9M201.03 150.08h0.9M199.12 142.9h0.9M201.5 136.13h0.9M206.12 152.72h0.9M211.72 137.85h0.9M200.2 148.72h0.9M209.83 153.1h0.9M199.59 146.8h0.9M204.37 152.37h0.9M211.16 152.46h0.9M206.41 153.07h0.9M198.91 147.45h0.9M207.95 152.28h0.9M204.01 135.09h0.9M205.91 134.79h0.9M203.15 135.27h0.9M209.9 152.65h0.9M214.91 145.15h0.9M204.29 152.07h0.9M200.74 148.37h0.9M209.42 135.25h0.9M203.16 151.53h0.9M198.03 144.22h0.9M211.67 137.64h0.9M204.36 152.27h0.9M206.53 152.67h0.9M214.69 140.48h0.9M214.58 144.61h0.9M199.38 141.61h0.9M200.19 137.72h0.9M203.22 136.25h0.9M199.92 150.15h0.9M211.68 151.06h0.9M201.28 151.26h0.9M214.06 142.55h0.9M201.32 136.26h0.9M198.08 144.21h0.9M214.18 143.87h0.9M198.47 141.88h0.9M199.93 139.12h0.9M209.46 152.01h0.9M212.43 138.85h0.9M214.28 146.77h0.9" stroke="#2e44b8" stroke-width="0.9" opacity="0.7"/>
<g transform="translate(206.7 143.8) rotate(0)" filter="url(#bl07)">
<ellipse cx="0" cy="0" rx="8" ry="9" fill="#3050c8"/>
</g>
<g transform="translate(209.2 168.8) rotate(0)" filter="url(#bl07)">
<ellipse cx="0" cy="0" rx="5.6" ry="11.5" fill="#3a86dc"/>
<ellipse cx="0" cy="0" rx="4.73" ry="9.71" fill="#42b6dc"/>
<ellipse cx="0" cy="0" rx="3.83" ry="7.87" fill="#4cc8a8"/>
<ellipse cx="0" cy="0" rx="2.89" ry="5.94" fill="#66cc66"/>
<ellipse cx="0" cy="0" rx="1.9" ry="3.9" fill="#a8d438"/>
</g>
<g transform="translate(209.4 143.5) rotate(0)" filter="url(#bl06)">
<ellipse cx="0" cy="0" rx="5.8" ry="7.6" fill="#3a86dc"/>
<ellipse cx="0" cy="0" rx="5.19" ry="6.8" fill="#42b6dc"/>
<ellipse cx="0" cy="0" rx="4.59" ry="6.01" fill="#4cc8a8"/>
<ellipse cx="0" cy="0" rx="3.99" ry="5.23" fill="#66cc66"/>
<ellipse cx="0" cy="0" rx="3.39" ry="4.45" fill="#a8d438"/>
<ellipse cx="0" cy="0" rx="2.8" ry="3.67" fill="#e8d424"/>
<ellipse cx="0" cy="0" rx="2.22" ry="2.9" fill="#f4a020"/>
<ellipse cx="0" cy="0" rx="1.64" ry="2.15" fill="#f05a1a"/>
<ellipse cx="0" cy="0" rx="1.07" ry="1.4" fill="#e02a16"/>
</g>
</g>
<polygon points="188.9,115.7 237.7,115.7 237.7,153.4 188.9,153.4" fill="none" stroke="#555" stroke-width="0.7" stroke-linejoin="round"/>
<rect x="168.1" y="115.3" width="77.4" height="71" fill="none" stroke="#7a7a7a" stroke-width="0.8"/>
<line x1="166.5" y1="122.2" x2="168.1" y2="122.2" stroke="#444" stroke-width="0.8"/>
<text x="161.6" y="124.4" font-size="6.1" text-anchor="end" font-weight="normal" fill="#1a1a1a" stroke="#1a1a1a" stroke-width="0.16">10<tspan dy="-2.44" font-size="3.54" stroke-width="0.04">5</tspan></text>
<line x1="166.5" y1="139.3" x2="168.1" y2="139.3" stroke="#444" stroke-width="0.8"/>
<text x="161.6" y="141.5" font-size="6.1" text-anchor="end" font-weight="normal" fill="#1a1a1a" stroke="#1a1a1a" stroke-width="0.16">10<tspan dy="-2.44" font-size="3.54" stroke-width="0.04">4</tspan></text>
<line x1="166.5" y1="158.6" x2="168.1" y2="158.6" stroke="#444" stroke-width="0.8"/>
<text x="161.6" y="160.8" font-size="6.1" text-anchor="end" font-weight="normal" fill="#1a1a1a" stroke="#1a1a1a" stroke-width="0.16">10<tspan dy="-2.44" font-size="3.54" stroke-width="0.04">3</tspan></text>
<line x1="166.5" y1="170.6" x2="168.1" y2="170.6" stroke="#444" stroke-width="0.8"/>
<text x="160" y="172.8" font-size="6.1" text-anchor="end" font-weight="normal" fill="#1a1a1a" stroke="#1a1a1a" stroke-width="0.16">0</text>
<line x1="166.5" y1="181.8" x2="168.1" y2="181.8" stroke="#444" stroke-width="0.8"/>
<text x="161.6" y="184" font-size="6.1" text-anchor="end" font-weight="normal" fill="#1a1a1a" stroke="#1a1a1a" stroke-width="0.16">&#8722;10<tspan dy="-2.44" font-size="3.54" stroke-width="0.04">3</tspan></text>
<line x1="167.3" y1="125.62" x2="168.1" y2="125.62" stroke="#666" stroke-width="0.5"/>
<line x1="167.3" y1="129.04" x2="168.1" y2="129.04" stroke="#666" stroke-width="0.5"/>
<line x1="167.3" y1="132.46" x2="168.1" y2="132.46" stroke="#666" stroke-width="0.5"/>
<line x1="167.3" y1="135.88" x2="168.1" y2="135.88" stroke="#666" stroke-width="0.5"/>
<line x1="167.3" y1="143.16" x2="168.1" y2="143.16" stroke="#666" stroke-width="0.5"/>
<line x1="167.3" y1="147.02" x2="168.1" y2="147.02" stroke="#666" stroke-width="0.5"/>
<line x1="167.3" y1="150.88" x2="168.1" y2="150.88" stroke="#666" stroke-width="0.5"/>
<line x1="167.3" y1="154.74" x2="168.1" y2="154.74" stroke="#666" stroke-width="0.5"/>
<line x1="167.3" y1="161" x2="168.1" y2="161" stroke="#666" stroke-width="0.5"/>
<line x1="167.3" y1="163.4" x2="168.1" y2="163.4" stroke="#666" stroke-width="0.5"/>
<line x1="167.3" y1="165.8" x2="168.1" y2="165.8" stroke="#666" stroke-width="0.5"/>
<line x1="167.3" y1="168.2" x2="168.1" y2="168.2" stroke="#666" stroke-width="0.5"/>
<line x1="167.3" y1="172.84" x2="168.1" y2="172.84" stroke="#666" stroke-width="0.5"/>
<line x1="167.3" y1="175.08" x2="168.1" y2="175.08" stroke="#666" stroke-width="0.5"/>
<line x1="167.3" y1="177.32" x2="168.1" y2="177.32" stroke="#666" stroke-width="0.5"/>
<line x1="167.3" y1="179.56" x2="168.1" y2="179.56" stroke="#666" stroke-width="0.5"/>
<line x1="172.6" y1="186.3" x2="172.6" y2="187.9" stroke="#444" stroke-width="0.8"/>
<text x="171.6" y="196.8" font-size="6.1" text-anchor="middle" font-weight="normal" fill="#1a1a1a" stroke="#1a1a1a" stroke-width="0.16">&#8722;10<tspan dy="-2.44" font-size="3.54" stroke-width="0.04">3</tspan></text>
<line x1="184.6" y1="186.3" x2="184.6" y2="187.9" stroke="#444" stroke-width="0.8"/>
<text x="184.6" y="196.8" font-size="6.1" text-anchor="middle" font-weight="normal" fill="#1a1a1a" stroke="#1a1a1a" stroke-width="0.16">0</text>
<line x1="198" y1="186.3" x2="198" y2="187.9" stroke="#444" stroke-width="0.8"/>
<text x="198.8" y="196.8" font-size="6.1" text-anchor="middle" font-weight="normal" fill="#1a1a1a" stroke="#1a1a1a" stroke-width="0.16">10<tspan dy="-2.44" font-size="3.54" stroke-width="0.04">3</tspan></text>
<line x1="219.6" y1="186.3" x2="219.6" y2="187.9" stroke="#444" stroke-width="0.8"/>
<text x="220.4" y="196.8" font-size="6.1" text-anchor="middle" font-weight="normal" fill="#1a1a1a" stroke="#1a1a1a" stroke-width="0.16">10<tspan dy="-2.44" font-size="3.54" stroke-width="0.04">4</tspan></text>
<line x1="237.9" y1="186.3" x2="237.9" y2="187.9" stroke="#444" stroke-width="0.8"/>
<text x="238.7" y="196.8" font-size="6.1" text-anchor="middle" font-weight="normal" fill="#1a1a1a" stroke="#1a1a1a" stroke-width="0.16">10<tspan dy="-2.44" font-size="3.54" stroke-width="0.04">5</tspan></text>
<line x1="175" y1="186.3" x2="175" y2="187.1" stroke="#666" stroke-width="0.5"/>
<line x1="177.4" y1="186.3" x2="177.4" y2="187.1" stroke="#666" stroke-width="0.5"/>
<line x1="179.8" y1="186.3" x2="179.8" y2="187.1" stroke="#666" stroke-width="0.5"/>
<line x1="182.2" y1="186.3" x2="182.2" y2="187.1" stroke="#666" stroke-width="0.5"/>
<line x1="187.28" y1="186.3" x2="187.28" y2="187.1" stroke="#666" stroke-width="0.5"/>
<line x1="189.96" y1="186.3" x2="189.96" y2="187.1" stroke="#666" stroke-width="0.5"/>
<line x1="192.64" y1="186.3" x2="192.64" y2="187.1" stroke="#666" stroke-width="0.5"/>
<line x1="195.32" y1="186.3" x2="195.32" y2="187.1" stroke="#666" stroke-width="0.5"/>
<line x1="202.32" y1="186.3" x2="202.32" y2="187.1" stroke="#666" stroke-width="0.5"/>
<line x1="206.64" y1="186.3" x2="206.64" y2="187.1" stroke="#666" stroke-width="0.5"/>
<line x1="210.96" y1="186.3" x2="210.96" y2="187.1" stroke="#666" stroke-width="0.5"/>
<line x1="215.28" y1="186.3" x2="215.28" y2="187.1" stroke="#666" stroke-width="0.5"/>
<line x1="223.26" y1="186.3" x2="223.26" y2="187.1" stroke="#666" stroke-width="0.5"/>
<line x1="226.92" y1="186.3" x2="226.92" y2="187.1" stroke="#666" stroke-width="0.5"/>
<line x1="230.58" y1="186.3" x2="230.58" y2="187.1" stroke="#666" stroke-width="0.5"/>
<line x1="234.24" y1="186.3" x2="234.24" y2="187.1" stroke="#666" stroke-width="0.5"/>
<ellipse cx="167.3" cy="170.6" rx="0.8" ry="1.5" fill="#111"/>
<ellipse cx="184.6" cy="187.2" rx="1.8" ry="0.7" fill="#111"/>
<text x="235" y="120.7" font-size="3.9" text-anchor="middle" font-weight="normal" fill="#2a2a2a">CD8+</text>
<text x="235" y="125.1" font-size="3.9" text-anchor="middle" font-weight="normal" fill="#2a2a2a">53.3</text>
<text x="205.2" y="208.29" font-size="8.3" text-anchor="middle" font-weight="bold" fill="#222" textLength="15.4" lengthAdjust="spacingAndGlyphs">SSC-A</text>
<text x="143.7" y="153.99" font-size="8.3" text-anchor="middle" font-weight="bold" fill="#222" textLength="9.8" lengthAdjust="spacingAndGlyphs" transform="rotate(-90 143.7 151)">CD3</text>
<path d="M249 150.4 L259.8 150.4" fill="none" stroke="#3a6ea8" stroke-width="0.9"/>
<polygon points="259.8,150.4 256.4,148.7 256.4,152.1" fill="#3a6ea8"/>
<clipPath id="c5"><rect x="289.9" y="115.0" width="78.20000000000002" height="71.5"/></clipPath>
<g clip-path="url(#c5)">
<path d="M309.02 137.55h0.8M321.38 137.57h0.8M307.09 139.38h0.8M321.82 144.1h0.8M307.53 134.62h0.8M301.78 138.38h0.8M317.61 129.6h0.8M317.69 140.44h0.8M313.16 133.7h0.8M312.09 137.14h0.8M301.51 141.14h0.8M323.81 139.65h0.8M316.99 142.54h0.8M311.47 137.48h0.8M326.31 136.76h0.8M308.09 140.18h0.8M306.92 135.57h0.8M322.27 138.91h0.8M304.13 136.92h0.8M317.15 141.88h0.8M313.25 143.08h0.8M311.08 144.62h0.8M320.39 134.89h0.8M310.29 140.14h0.8M311.07 135.46h0.8M316.01 138.73h0.8M296.22 134.42h0.8M307.34 142.26h0.8M310.89 139.63h0.8M320.84 138.17h0.8M311.44 138.7h0.8M320.42 136.64h0.8M315.17 136.39h0.8M312.16 142.87h0.8M303.4 140.67h0.8M312.07 139.76h0.8M316.57 139.24h0.8M316.3 145.37h0.8M304.44 135.14h0.8M318.8 140.34h0.8M331.22 136.75h0.8M318.57 137.02h0.8M306.53 136.85h0.8M303.28 135.63h0.8M308.17 138.4h0.8M311.92 141.83h0.8M302.43 138.66h0.8M302.71 141.9h0.8M302.32 137.72h0.8M303.6 142.76h0.8M299.41 134.93h0.8M307.51 137.71h0.8M302.26 142.95h0.8M305.94 131.59h0.8M309.41 134.31h0.8M304.92 137.22h0.8M302.49 137.49h0.8M307.46 141.14h0.8M336.21 136.51h0.8M306.85 142.95h0.8M328.09 141.72h0.8M308.82 145.8h0.8M312.22 143.18h0.8M306.05 134.62h0.8M324.55 135.84h0.8M301.13 139.45h0.8M302.25 141.34h0.8M312.13 138.24h0.8M305.87 144.12h0.8M324.9 142.97h0.8M298.5 144.8h0.8M312.39 145h0.8M316.59 136.58h0.8M295.13 136.61h0.8M323.2 137.38h0.8M327.51 134.44h0.8M317.66 138.56h0.8M297.71 140.31h0.8M307.44 137.95h0.8M290.97 135.43h0.8M304.89 138.44h0.8M303.22 146.16h0.8M307.35 139.71h0.8M308.16 143.45h0.8M316.96 142.49h0.8M296.31 139.54h0.8M309.89 141.23h0.8M304.81 139.48h0.8M301.7 137.71h0.8M314.79 137.2h0.8M303.06 138.48h0.8M314.49 140.44h0.8M299.73 137.46h0.8M299.9 135.42h0.8M334.57 143.25h0.8M318.17 137.96h0.8M319.65 144.44h0.8M323.35 141.53h0.8M301.59 147.43h0.8M318.72 142.04h0.8M314.68 140.31h0.8M307.32 132.98h0.8M328.7 148.15h0.8M315.92 141.37h0.8M311.07 141.68h0.8M309.74 138.69h0.8M317.33 132.96h0.8M324.91 137.62h0.8M316.55 141.14h0.8M326.84 144.94h0.8M298.49 135.59h0.8M312.81 133.2h0.8M317.24 138.56h0.8M303.49 141.96h0.8M301.96 136.36h0.8M310.99 142.04h0.8M309.17 137.76h0.8M312.99 137.67h0.8M292.89 142.24h0.8M315.81 142.88h0.8M312.26 140.66h0.8M294.66 134.15h0.8M292.12 143.15h0.8M304.17 143.7h0.8M315.25 137.39h0.8M310 136.17h0.8M306.57 140.18h0.8M317.59 137.26h0.8M295.41 143.01h0.8M300.05 141.52h0.8M295.98 135.77h0.8M291.3 141.3h0.8M315.22 149.96h0.8M329.29 139.45h0.8M290.7 138.19h0.8M313.35 140.28h0.8M312.35 135.41h0.8M307.76 145.68h0.8M305.44 137.6h0.8M299.03 136.79h0.8M322.6 140.28h0.8M305.74 137.7h0.8M318.77 136.97h0.8M302.89 137.87h0.8M285.55 143.02h0.8M302.75 141.66h0.8M310.6 142.57h0.8M305.46 147.7h0.8M316.14 138.23h0.8M313.76 131.65h0.8M299.48 131.74h0.8M308.02 146.68h0.8M314.02 133.82h0.8M295.4 140.32h0.8M316.88 138.26h0.8M325.03 139.85h0.8M330.63 141.97h0.8M331.06 129.62h0.8M318.13 141.74h0.8M325.38 141.1h0.8M314.62 140.12h0.8M312.66 140.99h0.8M326.53 133.3h0.8M306.26 133.83h0.8M304.86 139.97h0.8M312.47 140.35h0.8M317.88 140.53h0.8M307.38 138.56h0.8M300.14 137.42h0.8M309.64 140.33h0.8M294.97 142.9h0.8M309.89 133.51h0.8M309.04 141.03h0.8M311.54 137.53h0.8M301.83 139.78h0.8M312.16 140.05h0.8M306.78 143.32h0.8M292.65 138.98h0.8M294.47 132.13h0.8M312.3 141.94h0.8M307.68 140.57h0.8M308.75 143.05h0.8M304.66 140.88h0.8M313.76 133.43h0.8M322.05 136.93h0.8M299.28 136.67h0.8M318.94 137.56h0.8M318.17 135.68h0.8M313.03 132.91h0.8M307.62 143.54h0.8M305.27 139.62h0.8M292.6 144.83h0.8M308.23 140.58h0.8M306.63 135.35h0.8M306.98 137.83h0.8M300.21 138.43h0.8M300.81 137.26h0.8M282.56 135.56h0.8M313.48 139.76h0.8M308.04 140.43h0.8M327.25 140.22h0.8M311.55 138.68h0.8M313.68 141.22h0.8M288.56 146.36h0.8M319.74 140.64h0.8M304.39 138.59h0.8M302.85 143.66h0.8M303.63 133.32h0.8M308.14 136h0.8M312.19 139.48h0.8M302.02 133.6h0.8M307 134.45h0.8M308.38 139.59h0.8M306.38 139.54h0.8M306.28 144.73h0.8M292.86 135.19h0.8M321.23 134.7h0.8M316.29 138.21h0.8M310.22 134.05h0.8M306.17 138.45h0.8M289.3 139.03h0.8M305.83 131.13h0.8M311.68 137.73h0.8M295.34 142.96h0.8M308.88 135.01h0.8M301.41 139.98h0.8M304.69 141.42h0.8M297.85 139.85h0.8M314.46 140.76h0.8M302.11 135.65h0.8M298.9 139.27h0.8M289.85 148.64h0.8M307.34 143.12h0.8M306.89 143.53h0.8M307.44 142.45h0.8M319.7 139.95h0.8M297.75 140.4h0.8M311.45 137.88h0.8M307.73 141.34h0.8M289.86 140.85h0.8M325.54 136.62h0.8M321.81 137.36h0.8M307.03 137.73h0.8M309.7 136.29h0.8M304.15 138.15h0.8M300.99 138.73h0.8M319.8 136.06h0.8M311.8 136.31h0.8M298.75 138.88h0.8M307.15 142.36h0.8M316.66 139.26h0.8M303.62 143.61h0.8M297.22 136.3h0.8M316.9 140.33h0.8M315.87 138.17h0.8M316.88 142.96h0.8M291.31 140.73h0.8M319.22 135.37h0.8M300.7 140.18h0.8M315.84 138.86h0.8M294.12 139.65h0.8M308.86 137.62h0.8M319.75 131.58h0.8M310.85 136.85h0.8M315.45 137.83h0.8M326.47 139.54h0.8M304.7 133.32h0.8M307.25 138.75h0.8M325.01 140.18h0.8M311.62 135.78h0.8M311.87 135.6h0.8M296.32 140.43h0.8M305.57 134.32h0.8M320.85 143.09h0.8M314.19 133.27h0.8M301.83 135.57h0.8M312.3 150.55h0.8M318.63 138.53h0.8M301.77 134.13h0.8M302.85 139.49h0.8M307.51 140.63h0.8M314.95 135h0.8M317.92 138.99h0.8M325.38 138.43h0.8M306.48 138.49h0.8M321.72 140.66h0.8M321.2 142.44h0.8M313.1 146.86h0.8M309.09 138.11h0.8M320.7 134.93h0.8M313.05 142.31h0.8M301.4 132.41h0.8M296.35 142.77h0.8M333.99 135.84h0.8M297.41 134.58h0.8M325.1 141.5h0.8M316.55 136.42h0.8M316.42 136.36h0.8M315.51 136.29h0.8M297.86 137.35h0.8" stroke="#4050c8" stroke-width="0.8" opacity="0.45"/>
<ellipse cx="309.5" cy="165.6" rx="14" ry="4.0" fill="#8090dc" opacity="0.6" filter="url(#bl12)"/>
<path d="M311.29 166.23h0.8M304.35 167.5h0.8M296.73 161.3h0.8M312.64 165.19h0.8M308.04 164.54h0.8M312.15 166.01h0.8M318.32 163.49h0.8M299.23 165.24h0.8M306.51 164.87h0.8M292.78 166.31h0.8M320.57 166.3h0.8M317.32 166.8h0.8M310.31 166.38h0.8M316.29 166.5h0.8M313.14 165.39h0.8M303.02 166.28h0.8M305.51 166.76h0.8M292.29 169.32h0.8M318.02 168.8h0.8M311.3 163.25h0.8M305.58 163h0.8M311.46 165.56h0.8M309.68 161.53h0.8M297.63 160.78h0.8M318.75 166.6h0.8M308.93 164.75h0.8M295.5 164.71h0.8M305.51 163.7h0.8M315.85 161.15h0.8M309.75 167.25h0.8M314.46 162.28h0.8M288.16 168.5h0.8M318.97 165.17h0.8M306.64 166.25h0.8M316.47 165.78h0.8M306.12 165.98h0.8M311.42 169.95h0.8M308.82 163.53h0.8M322.68 168.75h0.8M319.5 163.49h0.8M304.35 162.55h0.8M307.77 168.39h0.8M315.61 165.63h0.8M310.44 166.58h0.8M307.72 163.25h0.8M303.64 169.1h0.8M301.85 163.06h0.8M312.95 164.8h0.8M306.27 165.86h0.8M307.8 161.95h0.8M315.73 166h0.8M321.45 167.36h0.8M304.55 164.58h0.8M303.57 160.75h0.8M314.25 164.06h0.8M316.12 165.91h0.8M308 169.03h0.8M301.92 169.32h0.8M306.11 170.18h0.8M317.44 164.41h0.8M321.9 166.45h0.8M311.49 164.67h0.8M308.55 164.64h0.8M306.42 167.25h0.8M314.97 168.23h0.8M317.84 165.38h0.8M314.52 164.99h0.8M313.22 166.89h0.8M311.79 163.82h0.8M300.26 169.24h0.8M303.15 164.21h0.8M311.87 164.72h0.8M312.16 168.51h0.8M297.62 165.74h0.8M313.45 162.52h0.8M314.45 168.74h0.8M309.31 166.58h0.8M306.86 167.67h0.8M305.26 165.57h0.8M304.11 164h0.8M317.56 165.43h0.8M315.66 162.11h0.8M300.27 163.6h0.8M323.1 168.07h0.8M325.52 164.59h0.8M313.55 166.35h0.8M307.14 166.85h0.8M308.87 166.6h0.8M295.96 163.3h0.8M301.72 169.19h0.8M315.57 163.47h0.8M312.75 164.33h0.8M300.74 163.57h0.8M331.08 165.75h0.8M308.41 168.25h0.8M311.15 163.17h0.8M324.96 170.32h0.8M314.95 163.72h0.8M308.65 165.81h0.8M300.92 171.27h0.8M309.16 164.36h0.8M307.12 164.85h0.8M290.48 165.87h0.8M317.72 166.04h0.8M312.34 165.4h0.8M296.2 166.83h0.8M314.13 163.33h0.8M300.75 164.3h0.8M299.34 160.2h0.8M306.12 164.28h0.8M309.97 168.14h0.8M302.39 162.2h0.8M308.3 167.02h0.8M319.71 167.59h0.8M310.08 165.66h0.8M296.34 167.05h0.8M314.87 165.39h0.8M306.86 166.45h0.8M312.33 166.68h0.8M312.17 162.27h0.8M304.96 161.99h0.8M314.94 171.13h0.8M303.23 165.26h0.8M310.92 164.04h0.8M321.59 166h0.8M324.95 170.48h0.8M312.66 163.93h0.8M318.81 164.98h0.8M303.1 165.11h0.8M317.39 163.83h0.8M307.4 167.44h0.8M306.98 167.47h0.8M318.09 164.49h0.8M300.35 163h0.8M318.42 166.75h0.8M309.63 164.71h0.8M316.92 164.53h0.8M329.13 166.24h0.8M297.22 167.84h0.8M310.95 165.52h0.8M307.71 168.13h0.8M305.45 168.91h0.8M303.43 167.5h0.8M297.98 167.63h0.8M301.85 165.04h0.8M314.58 163.89h0.8M312.96 165.55h0.8M318.65 167.48h0.8M310.85 165.14h0.8M302.39 168.58h0.8M307.27 162.85h0.8M303.11 161.49h0.8M302.56 164.58h0.8M310.8 167.51h0.8M315.08 161.64h0.8M305.44 166.83h0.8M311.49 165.5h0.8M303.14 167.05h0.8M308.31 165h0.8M308.12 165.04h0.8M311.19 167.89h0.8M309.48 164.17h0.8M308.06 165.2h0.8M312.57 167.17h0.8M321.06 167.45h0.8M296.46 163.72h0.8M299.63 166.17h0.8M326.21 166.51h0.8M304.78 168.5h0.8M313.5 163.78h0.8M301.84 168.69h0.8M314.52 161.05h0.8M303.38 166.73h0.8M298.92 165.52h0.8M302.43 161.94h0.8M305.07 164.38h0.8M310.94 161.84h0.8M310.78 164.74h0.8M297.08 168.11h0.8M305.56 166.42h0.8M320.39 166.4h0.8M315.78 165.98h0.8M304.57 165.94h0.8M297.21 166.56h0.8M314.98 166.45h0.8M303.85 162.94h0.8M303.34 164.91h0.8M298.28 169.64h0.8M302.85 165.8h0.8M305.35 165.8h0.8M292.91 163.33h0.8M308.6 165.44h0.8M311.74 164.38h0.8M314.9 166h0.8M308.45 165.57h0.8M316.65 165.45h0.8M320.34 165.8h0.8M310.61 165.53h0.8M311.01 166.52h0.8M304.17 167.22h0.8M327.86 166.68h0.8M309.66 163.81h0.8M303.13 163.77h0.8M310.74 164.05h0.8M320.69 164.62h0.8M302.17 163.58h0.8M308.06 165.22h0.8M315.69 163.98h0.8M311.27 167.56h0.8M306.67 161.81h0.8M310.55 167.72h0.8M311.71 165.54h0.8M294.43 168.99h0.8M307.38 162.98h0.8M306.29 165.86h0.8M309.1 163.6h0.8M326.61 168.19h0.8M316.2 166.89h0.8M305.82 163.01h0.8M299.31 167.82h0.8M309.36 169.02h0.8M291.96 168.36h0.8M312.21 164.36h0.8M315.33 164.1h0.8M306.71 166.65h0.8M309.93 166.14h0.8M310.37 167.74h0.8M302.44 161.23h0.8M301.92 160.34h0.8M323.21 164.11h0.8M308.45 166.24h0.8M302.98 164.45h0.8M310.67 165.54h0.8M314.76 165h0.8M303.77 162.4h0.8M296.2 166.09h0.8M311.07 164.65h0.8M317.77 159.75h0.8M313.53 162.97h0.8M306.22 165.02h0.8M303.16 164.91h0.8M310.83 170.65h0.8M308.74 167.06h0.8M314.86 163.49h0.8M312.32 164.65h0.8M315.38 164.28h0.8M316.72 163.6h0.8M305.23 167.34h0.8M316.32 167.38h0.8M323.58 167.72h0.8M308.68 167.53h0.8M302.57 167.25h0.8M311.69 165.2h0.8M303.36 167.79h0.8M293.8 165.16h0.8M298.23 164.78h0.8M305.46 163.75h0.8M304.18 166.13h0.8M323.4 169.26h0.8M307.31 164.62h0.8M313.29 163.72h0.8M297.66 167.61h0.8M305.69 168.79h0.8M311.24 162.4h0.8M310.92 166.57h0.8M309.18 162.59h0.8M297.51 169.53h0.8M287.86 163.46h0.8M314.71 169.38h0.8M313.55 165.47h0.8M311.57 167.97h0.8M304.79 168.26h0.8M310.6 165.97h0.8M312 166.2h0.8M301.86 168.86h0.8M305.1 164.95h0.8M291.19 161.99h0.8M312.94 165.32h0.8M307.98 164.72h0.8M313.34 164.12h0.8M297.71 162.03h0.8M302.76 166.2h0.8M319.45 166.74h0.8M303.67 162.67h0.8M314.9 166.6h0.8M308.32 166.87h0.8M313.14 166.62h0.8M318.63 162.2h0.8M303.88 164.37h0.8M301.34 169.77h0.8M311.4 166.43h0.8M314.65 165.02h0.8M315.01 165.08h0.8M314.35 166.73h0.8M318.45 162.25h0.8M301.89 163.88h0.8M302.59 166.35h0.8M315.95 164.77h0.8M316.73 167.44h0.8M304.37 166.96h0.8M319.44 164.49h0.8M292.42 166.72h0.8M310.9 166.87h0.8M312.6 165.42h0.8M308.68 163.79h0.8M323.32 168.88h0.8M307.75 163.69h0.8M312 168.98h0.8M309.11 163.76h0.8M315.8 166.09h0.8M302.87 165.07h0.8M310.01 163.13h0.8M310.93 168.3h0.8M316.65 168.23h0.8M314.38 165.35h0.8M313.41 168.19h0.8M309.15 166.67h0.8M304.19 165.57h0.8M305.24 163.24h0.8M311.81 170.33h0.8M296.26 164.51h0.8M310.31 163.95h0.8M310.07 167.39h0.8M296.77 165.34h0.8M313.21 166.79h0.8M322.39 166h0.8M318.08 164.34h0.8M302.18 164.4h0.8M305.63 167.49h0.8M314.46 165.61h0.8M302.25 165.88h0.8M305.81 164.76h0.8M296.03 168.95h0.8M313.21 172h0.8M328.78 165.68h0.8M325.34 164.67h0.8M329.58 165.46h0.8M295.25 165.56h0.8M314.86 169.28h0.8M316.16 169.41h0.8M310.31 162.28h0.8M310.09 163.67h0.8M315.14 160.97h0.8M301.64 163.06h0.8M309.73 167.82h0.8M306.69 162.75h0.8M305.15 165.24h0.8M317.55 165.84h0.8M319.21 159.41h0.8M322.16 170.37h0.8M305.08 171.47h0.8M297.41 167.62h0.8M299.27 164.25h0.8M312.68 166.08h0.8M311.13 165.18h0.8M295.18 162.05h0.8M302.62 163.41h0.8M305.47 161.86h0.8M308.05 166.65h0.8M305.24 168.5h0.8M310.47 167.61h0.8M302.3 166.04h0.8M298.35 161.45h0.8M295.88 164.7h0.8M310.72 170.22h0.8M311.29 164.77h0.8M316.77 165.83h0.8M309.01 165.88h0.8M316.22 169.09h0.8M298.34 165.8h0.8M305.42 165.62h0.8M326.61 165.08h0.8M290.59 167.47h0.8M305.38 163.57h0.8M325.48 169.98h0.8M316.59 166.14h0.8M303.52 168.78h0.8M307.11 166.09h0.8M307.62 165.93h0.8M294.1 162.91h0.8M299.34 160.81h0.8M300.22 164.49h0.8M307.53 165.4h0.8M305.68 167.87h0.8M293.42 164.42h0.8M307.16 163.68h0.8M319.24 165.32h0.8M317.16 166.78h0.8M306.9 167.74h0.8M297.99 162.89h0.8M305.94 160.33h0.8M305.71 165.13h0.8M295.84 163.29h0.8M299.13 170.77h0.8M318.32 166.9h0.8M310.53 168.49h0.8M309.71 168.29h0.8M315.53 170.22h0.8M316.9 164.34h0.8M313.54 168.04h0.8M313.92 170.39h0.8M311.12 164.66h0.8M315.57 168.09h0.8M308.85 166.72h0.8M309.98 166.15h0.8M311.68 164.7h0.8M314.48 166.38h0.8M321.95 166.24h0.8M309.82 162.89h0.8M325.88 165.07h0.8M305.15 164.97h0.8M309 165.35h0.8M321.68 164.52h0.8M307.24 164.59h0.8M313.52 161.97h0.8M316.44 164.77h0.8M298.28 168.81h0.8M299.05 167.11h0.8M309.1 164.11h0.8M296.52 164.01h0.8" stroke="#3a4cc0" stroke-width="0.8" opacity="0.55"/>
<path d="M323.27 165.43h0.8M313.94 167.5h0.8M318.23 165.71h0.8M311.89 162.81h0.8M314.71 166.14h0.8M315.05 166.18h0.8M316.17 165.08h0.8M317.64 166.26h0.8M302.29 165.53h0.8M316.55 164.67h0.8M324.78 167.86h0.8M325.99 167.01h0.8M321.13 165.81h0.8M323.24 164.24h0.8M317.03 166.18h0.8M316.91 163.08h0.8M317.3 164.72h0.8M313.45 166.78h0.8M325.45 165.71h0.8M309.89 165.2h0.8M316.63 163.45h0.8M313.67 165.82h0.8M313.8 166.41h0.8M308.77 166.83h0.8M313.01 165.78h0.8M318.05 164.52h0.8M325.22 162h0.8M319.3 166.8h0.8M316.19 165.4h0.8M309.89 165.44h0.8M319.07 164.34h0.8M317.99 164.8h0.8M310.73 165.36h0.8M312.4 167.25h0.8M312.37 168.28h0.8M317.73 165.46h0.8M312.74 166.37h0.8M310.68 162.46h0.8M320.89 161.39h0.8M325.87 164.46h0.8M328.93 165.98h0.8M329.38 162.63h0.8M314.77 166.03h0.8M313.95 165.64h0.8M316.75 166.81h0.8M327.91 161.24h0.8M322.28 163.23h0.8M329.35 162.59h0.8M311.98 166.51h0.8M316.66 166.85h0.8M320.48 163.99h0.8M306.38 167.78h0.8M316.34 165.29h0.8M315.7 164.99h0.8M312.75 165.61h0.8M319.63 163.05h0.8M306.73 166.59h0.8M324.02 164.43h0.8M316.7 164.51h0.8M320.69 165.35h0.8M313.95 163.99h0.8M320.99 166.21h0.8M314.81 166.28h0.8M295.99 164.63h0.8M319.09 161.51h0.8M313.74 165.96h0.8M326.75 166.26h0.8M309.14 167.24h0.8M315.9 167.12h0.8M308 162.28h0.8M306.58 166.65h0.8M326.25 165.98h0.8M319.1 165.28h0.8M319.25 163.49h0.8M326.57 167.06h0.8M324.67 165.33h0.8M323.82 167.41h0.8M335.64 167.61h0.8M312.58 163.93h0.8M324.04 166.47h0.8M321.77 165.6h0.8M312.14 165.78h0.8M307.55 166.05h0.8M334.02 166.92h0.8M311.81 163.79h0.8M334.95 166.77h0.8M314.22 166.63h0.8M315.56 163.42h0.8M318.89 166.49h0.8M327.08 163.04h0.8M328.38 165.02h0.8M303.77 167.43h0.8M324.96 166.54h0.8M323.79 163.74h0.8M321.55 162.29h0.8M313.23 170.44h0.8M329.69 166.27h0.8M321.47 165.67h0.8M322.4 165.9h0.8M311.28 164.81h0.8M304.27 163.8h0.8M316.72 166.24h0.8M333.83 162.32h0.8M332.93 164.67h0.8M314.86 165.34h0.8M333.54 163.38h0.8M315.23 166.57h0.8M324.73 166.27h0.8M318.76 167.43h0.8M310.95 168.58h0.8M314.41 166.25h0.8M311.33 164.3h0.8M325.02 166.62h0.8M316.6 167.08h0.8M340.96 160.72h0.8M303.25 165.87h0.8M305.69 167.49h0.8M312.03 165.5h0.8M311.98 169.54h0.8M328.86 162.19h0.8M322.67 164.91h0.8M328.45 166.16h0.8M312.61 164.66h0.8M318.31 168.83h0.8M318.62 164.49h0.8M315.1 167.16h0.8M315.75 168.93h0.8M324.29 165.8h0.8M318.72 164.87h0.8M301.01 167.81h0.8M328.78 165.11h0.8M319.97 162.87h0.8M316.52 165.87h0.8M317.4 165.62h0.8M325.07 166.91h0.8M323.61 164.38h0.8M314.29 165.52h0.8M306.51 162.71h0.8M320.33 165.53h0.8M318.55 167.84h0.8M302.62 166.31h0.8M316.29 162.96h0.8M322.75 168.27h0.8M307.36 165.6h0.8M324.89 165.6h0.8M314.74 167.42h0.8M305.67 165.43h0.8M313.31 165.37h0.8M308.94 165.86h0.8M326.84 166.39h0.8M308.7 164.51h0.8M312.52 162.62h0.8M323.23 166.5h0.8M316.68 168.41h0.8M323.12 164.38h0.8M318.25 165.25h0.8M317.9 168.09h0.8M327.04 163.64h0.8M332.05 162.39h0.8M316.07 170.28h0.8" stroke="#6a7ad0" stroke-width="0.8" opacity="0.45"/>
<path d="M348.04 170.04h0.8M344.41 167.45h0.8M339.12 171.21h0.8M342.14 163.4h0.8M333.58 174.02h0.8M333.56 161.48h0.8M346.74 165.6h0.8M355.03 167.93h0.8M345.72 162.41h0.8M347.12 159.87h0.8M338.45 170.87h0.8M345.32 160.96h0.8M339.27 164.96h0.8M345.6 166.25h0.8M348.95 153.86h0.8M348.34 158.16h0.8M340.47 166h0.8M350.5 163.06h0.8M334.64 162.26h0.8M345.22 174.88h0.8M335.27 163.48h0.8M338.78 169.91h0.8M347.27 164.87h0.8M345.55 171.67h0.8M341.61 161.09h0.8M343.69 160.68h0.8M345.03 168.9h0.8M341.1 169.13h0.8M351.55 172.72h0.8M341.16 167.8h0.8M348.93 168.69h0.8M349.88 167.43h0.8M348.17 169.12h0.8M346.8 167.79h0.8M345.45 165.28h0.8M331.45 165.25h0.8M343.79 163.39h0.8M340.59 170.44h0.8M341.82 156.71h0.8M340.06 165.07h0.8M351.76 166.73h0.8M347.02 163.43h0.8M339.78 159.33h0.8M347.76 165.64h0.8M338.84 165.78h0.8M350.93 169.19h0.8M348.86 170.06h0.8M345.19 165.57h0.8M343.55 167.44h0.8M332.28 166.67h0.8M343.81 162.12h0.8M339.86 170.08h0.8M340.98 165.2h0.8M353.44 161.78h0.8M343.3 163.92h0.8M340.14 164.87h0.8M347.21 164.5h0.8M349.79 168.45h0.8M336.47 165.78h0.8M342.38 160.52h0.8M331.79 169.49h0.8M345.52 170.32h0.8M353.93 168.57h0.8M346 170.54h0.8M342.71 164.03h0.8M350.03 168.1h0.8M340.16 163.95h0.8M335.21 173.7h0.8M341.08 163.64h0.8M339.63 163.54h0.8M344.38 165.71h0.8M348.78 155.85h0.8M344.46 172.06h0.8M343.89 163.25h0.8M356.71 163.55h0.8M348.09 166.48h0.8M342.6 161.67h0.8M344.61 166.34h0.8M355.54 159.66h0.8M333.38 167.71h0.8M333.68 154.52h0.8M341.37 169.98h0.8M331.52 159.7h0.8M353.32 162.12h0.8M337.71 164.9h0.8M354.11 164.78h0.8M348.68 164.89h0.8M336.49 166.55h0.8M331.63 169.53h0.8M332.93 166.07h0.8M329.42 165.14h0.8M346.21 162.64h0.8M356.32 165.52h0.8M346.42 159.81h0.8M340.21 166.42h0.8M348.45 167.82h0.8M334.3 159.76h0.8M336.15 169.88h0.8M331.97 160.73h0.8M344.31 165.32h0.8M343.06 162.3h0.8M345.75 165.07h0.8M342.25 166.38h0.8M341.98 164.77h0.8M350.9 168.25h0.8M344 166.04h0.8M352.44 160.32h0.8M330.83 165.63h0.8M332.21 161.36h0.8M344.94 166.28h0.8M341.2 162.55h0.8M333.86 162.73h0.8M338.08 165.37h0.8M349.57 164.35h0.8M336.05 167.13h0.8M351.42 166.71h0.8M340.51 164h0.8M341.36 161.43h0.8M349.48 164.29h0.8M356.08 170.18h0.8M340.26 175.47h0.8M340.34 162.45h0.8M331.84 165.52h0.8M346.01 164.08h0.8M342.71 167.31h0.8M338.3 165.29h0.8M341.72 171.35h0.8M347.82 165.11h0.8M336.74 164.94h0.8M338.22 164.1h0.8M345.74 168.63h0.8M350.06 163.25h0.8M344.68 165.37h0.8M348.96 173.99h0.8M350.09 168.99h0.8M345.07 167.52h0.8M330.48 166.8h0.8M342.47 165.34h0.8M348.18 177.66h0.8M345.23 160.86h0.8M340.97 168.72h0.8M348.08 166.25h0.8M347.05 162.47h0.8M353.26 157.56h0.8M341.23 162.59h0.8M340.47 166.38h0.8M344.21 169.28h0.8M355.87 167.5h0.8M337.43 165.58h0.8M338.45 162.49h0.8M340.85 169.19h0.8M338.3 166.8h0.8M338.58 168.9h0.8M351.01 160.01h0.8M348.29 162.21h0.8M345.66 165.19h0.8M349.01 160.69h0.8M355.88 166.88h0.8M339.31 170.43h0.8M352.33 167.57h0.8M340.23 162.46h0.8M337.69 171.75h0.8M343.88 165.46h0.8M341.13 170.27h0.8M341.17 168.86h0.8M331.91 162.54h0.8M345.66 161.87h0.8M355.95 157.66h0.8M346.02 167.62h0.8M346.4 165.32h0.8M342.8 179.19h0.8M345.26 163.17h0.8M325.92 172.73h0.8M343.35 172.51h0.8M343.38 169.81h0.8M352.34 163.4h0.8M328.52 170.12h0.8M356.01 159.79h0.8M340.22 165.26h0.8M341.81 167.91h0.8M342.75 167.85h0.8M338.21 159.48h0.8M355.34 166.57h0.8M346.07 161.11h0.8M346.47 165.39h0.8M346.66 166.05h0.8M350.32 170.97h0.8M341.22 164.12h0.8M348.24 159.98h0.8M338.91 164.17h0.8M329.88 172.98h0.8M341.76 164.76h0.8M335.84 167.68h0.8M340.56 161h0.8M345.71 171.48h0.8M333.85 165.47h0.8M357.61 164.82h0.8M338.9 171.76h0.8M345 169.17h0.8M354.2 168.08h0.8M345.63 173.02h0.8M333.76 161.21h0.8M342.06 163.22h0.8M342.43 158.32h0.8M333.01 168.35h0.8M342.24 167.21h0.8M340.99 165.52h0.8M333.68 172.42h0.8M350.29 160.42h0.8M340.58 166.97h0.8M340.76 165.39h0.8M344.87 158.46h0.8M348.36 167.42h0.8M337.19 164.87h0.8M342.9 164.57h0.8M343.81 159.7h0.8M343.9 167.2h0.8M346.02 167.32h0.8M339.82 166.13h0.8M349.76 165.9h0.8" stroke="#4050c8" stroke-width="0.8" opacity="0.45"/>
<path d="M346.98 142.42h0.7M349.78 133.31h0.7M344.49 147.75h0.7M336.92 145.83h0.7M340.88 139.14h0.7M334.93 135.85h0.7M355.56 132.14h0.7M346.27 132.77h0.7M363.15 146.77h0.7M337.87 134.28h0.7M342.52 144.29h0.7M359.95 151.86h0.7M336.19 143.6h0.7M353.32 137.18h0.7M340.75 148.27h0.7M332.58 142.25h0.7M344.36 140.04h0.7M345.21 130.97h0.7M352.39 138.92h0.7M362.6 155.43h0.7M340.85 155.13h0.7M357.73 136.53h0.7M342.68 150.17h0.7M338.47 139.64h0.7M322.43 132.43h0.7M334.5 137.17h0.7M338.47 143.75h0.7M347.28 139.51h0.7M332.73 143.64h0.7M350.52 141.65h0.7M357.34 138.92h0.7M352.56 143.84h0.7M356.85 153.03h0.7M334.55 129.73h0.7M354.25 144.16h0.7M348.09 139.01h0.7M338.28 150.16h0.7M349.23 138.35h0.7M345.43 144h0.7M333.28 137.73h0.7M349.56 142.98h0.7M332.63 144.12h0.7M362.85 146.19h0.7M333.16 138.88h0.7M339.44 136.74h0.7M337.59 138.08h0.7M344.21 133.61h0.7M353.27 144.22h0.7M362.48 147.7h0.7M353.6 145.53h0.7M344.02 134.77h0.7M350.99 142.69h0.7M339.16 144.79h0.7M347.95 137.66h0.7M358 138.76h0.7M346.15 149.26h0.7M340.35 139.93h0.7M349.1 139.82h0.7M340.51 134.43h0.7M347.07 139.47h0.7M352.42 148.9h0.7M344.83 147.29h0.7M338.71 152.89h0.7M340.06 141.2h0.7M341.71 138.72h0.7M352.14 142.05h0.7M337.09 147.28h0.7M345.36 145.96h0.7M346.92 138.99h0.7M328.88 140.06h0.7M337.09 150.25h0.7M343.08 152.03h0.7M365.59 149.94h0.7M366.37 135.81h0.7M340.56 135.07h0.7M333.03 133.42h0.7M352.99 136.72h0.7M342.1 145.97h0.7M341.36 152.55h0.7M355.68 146.92h0.7M359.94 145.69h0.7M346.72 149.52h0.7M354.38 133h0.7M354.94 148.98h0.7M324.87 155.87h0.7M346.5 151.62h0.7M334.56 143.54h0.7M338.86 136.5h0.7M347.5 132.4h0.7M344.83 146.79h0.7" stroke="#8090d8" stroke-width="0.7" opacity="0.35"/>
<path d="M330.54 138.46h0.9M330 135.19h0.9M325.53 132.46h0.9M291.72 139.22h0.9M334.27 136.52h0.9M302.97 145.39h0.9M326.06 133.96h0.9M298.24 134.47h0.9M329.54 143.33h0.9M300.78 132.46h0.9M318.43 130.63h0.9M292.54 138.18h0.9M291.41 133.63h0.9M299.59 133.6h0.9M294.32 144.78h0.9M317.6 130.97h0.9M320.01 132.43h0.9M302.38 131.97h0.9M308.73 144.94h0.9M295.84 141.94h0.9M308.18 146.86h0.9M294.29 140.52h0.9M329.85 141.6h0.9M300.93 144.29h0.9M332.57 140.49h0.9M326.27 130.4h0.9M319.6 132.53h0.9M294.74 139.84h0.9M307.39 145.16h0.9M330.4 139.33h0.9M311.92 131.3h0.9M291.92 137.88h0.9M321.08 132.34h0.9M291.7 134.18h0.9M299.77 133.29h0.9M331.17 135.57h0.9M332.23 138.59h0.9M317.77 146.54h0.9M295.66 142h0.9M313.01 131.85h0.9M318.24 145.73h0.9M305.19 129.43h0.9M297.93 133.96h0.9M294.58 132.87h0.9M302.79 144.59h0.9M304.96 146.26h0.9M337.55 142.33h0.9M301.32 144.04h0.9M335.75 135.4h0.9M321.77 132.1h0.9M295.31 136.96h0.9M319.69 128.86h0.9M293.71 140.59h0.9M297.99 143.68h0.9M307.39 131.65h0.9M333.77 138.68h0.9M313.35 131.96h0.9M321.11 145.06h0.9M297.39 141.99h0.9M332.74 135.91h0.9M295.98 134.75h0.9M304.85 130.98h0.9M324.98 133.86h0.9M332.58 142.28h0.9M320.14 132.65h0.9M329.49 133.13h0.9M329.02 142.31h0.9M315.5 145.36h0.9M297.7 134.27h0.9M330.74 138.24h0.9M322.2 145.12h0.9M329.16 136.18h0.9M323.69 144.27h0.9M332.25 138.9h0.9M333.2 140.64h0.9M317.96 147.96h0.9M313.97 130.93h0.9M339.97 138.29h0.9M293.12 136.58h0.9M291.37 131.11h0.9M292.22 138.11h0.9M292.09 133.23h0.9M300.59 144.89h0.9M319.39 146.27h0.9M303.74 131.72h0.9M305.02 132.49h0.9M324.13 132.48h0.9M316.08 128.93h0.9M296.71 135.3h0.9M328.54 134.03h0.9M297.8 134.75h0.9M292.44 134.85h0.9M322.4 131.93h0.9" stroke="#5a6ad0" stroke-width="0.9" opacity="0.5"/>
<path d="M302.96 142.62h0.9M315.16 143.7h0.9M299.85 134.69h0.9M320.67 134.03h0.9M310.71 143.76h0.9M297.69 137.34h0.9M298.09 136.44h0.9M298.1 138.62h0.9M322.74 134.99h0.9M324.46 141.45h0.9M298.33 140.36h0.9M326.26 135.16h0.9M314.27 132.8h0.9M309.82 143.77h0.9M328.38 139.35h0.9M312.12 133.16h0.9M327.72 139.86h0.9M326.06 139.74h0.9M310.41 144.45h0.9M320.7 133.67h0.9M323.87 135.22h0.9M305.74 143.23h0.9M311.53 132.16h0.9M312.62 144.73h0.9M295.63 136.62h0.9M298.98 136.49h0.9M318.19 144.15h0.9M299.1 135.51h0.9M327.63 140.98h0.9M315.05 133.25h0.9M326.99 135.65h0.9M324.3 141.73h0.9M326.35 138.34h0.9M325.83 137.08h0.9M304.3 133.27h0.9M311.38 132.78h0.9M305.42 133.24h0.9M328.16 137.77h0.9M328.49 136.37h0.9M296.02 139.6h0.9M300.16 135.13h0.9M310.12 144.06h0.9M315.68 133.41h0.9M325.4 136.07h0.9M324.28 134.98h0.9M320.25 142.96h0.9M298.13 135.61h0.9M306.26 144.32h0.9M326.82 137h0.9M315.29 144.38h0.9M295.9 137.94h0.9M314.79 133.33h0.9M306.05 143.53h0.9M307.73 133.49h0.9M303.88 133.22h0.9M327.43 140.65h0.9M297.96 138.38h0.9M318.67 143.35h0.9M312.15 133.2h0.9M329.01 138.17h0.9M324.31 135.73h0.9M327.92 139.04h0.9M315.04 133.33h0.9M301.73 143.01h0.9M326.89 140.05h0.9M294.93 137.84h0.9M313.91 133.01h0.9M326.67 139.13h0.9M300.39 134.76h0.9M327.46 140.38h0.9M302.71 143.49h0.9M318.26 133.56h0.9M297.09 139.03h0.9M303 133.31h0.9M313.7 133.28h0.9M327.14 141.72h0.9M320.89 143.18h0.9M322.83 142.32h0.9M322.68 133.89h0.9M321.72 134.57h0.9M298.19 139.08h0.9M310.58 133.31h0.9M314.32 132.11h0.9M315.36 143.79h0.9M324.77 142.26h0.9M295.98 138.94h0.9M314.77 143.94h0.9M325.2 134.87h0.9M321.95 143.69h0.9M297.85 142.01h0.9M312.06 144.98h0.9M298.89 134.92h0.9M316.91 133.46h0.9M299.77 135.05h0.9M297.47 137.8h0.9M296.2 137.09h0.9M300.49 143.28h0.9M317.87 143.7h0.9M309.09 133.01h0.9M294.89 138.59h0.9M305.32 133.65h0.9M301.77 134.11h0.9M312.09 132.97h0.9M313.94 133.07h0.9M298.1 141.75h0.9M327.92 137.57h0.9M314.41 144.89h0.9" stroke="#2e44b8" stroke-width="0.9" opacity="0.7"/>
<g transform="translate(312.3 138.5) rotate(0)" filter="url(#bl07)">
<ellipse cx="0" cy="0" rx="15.6" ry="5.8" fill="#3050c8"/>
<ellipse cx="0" cy="0" rx="14.26" ry="5.3" fill="#3a86dc"/>
<ellipse cx="0" cy="0" rx="12.9" ry="4.8" fill="#42b6dc"/>
<ellipse cx="0" cy="0" rx="11.52" ry="4.28" fill="#4cc8a8"/>
<ellipse cx="0" cy="0" rx="10.11" ry="3.76" fill="#66cc66"/>
<ellipse cx="0" cy="0" rx="8.65" ry="3.22" fill="#a8d438"/>
<ellipse cx="0" cy="0" rx="7.16" ry="2.66" fill="#e8d424"/>
<ellipse cx="0" cy="0" rx="5.61" ry="2.08" fill="#f4a020"/>
<ellipse cx="0" cy="0" rx="3.97" ry="1.48" fill="#f05a1a"/>
</g>
<path d="M333.89 171.7h0.9M356.22 159.87h0.9M333.38 169.12h0.9M336.64 159.56h0.9M345.27 158.35h0.9M329.87 162.56h0.9M328.67 164.18h0.9M350.16 172.62h0.9M350.78 159.9h0.9M347.92 171.86h0.9M339 158.03h0.9M329.38 171.8h0.9M343.27 172.9h0.9M332.66 171.21h0.9M346.65 158.9h0.9M343.18 158.83h0.9M351.43 160.56h0.9M343.5 172.95h0.9M333.36 170.77h0.9M352.92 161.23h0.9M333.94 158.86h0.9M346.98 175.57h0.9M349.04 156.75h0.9M353.22 157.9h0.9M352.59 170.69h0.9M359.56 163.7h0.9M341.26 173.09h0.9M327.42 157.76h0.9M336.21 160.06h0.9M336.44 172h0.9M331.17 157.82h0.9M353.42 160.75h0.9M343.19 172.51h0.9M355.27 165.89h0.9M354.63 176.65h0.9M348.72 171.68h0.9M351.54 159.39h0.9M355.22 167.69h0.9M355.29 166.02h0.9M331.76 163.56h0.9M340.07 158.76h0.9M357.65 165.35h0.9M351.77 172.76h0.9M338.61 157.02h0.9M330.82 164.88h0.9M334.43 157.13h0.9M346.64 154.84h0.9M338.98 157.64h0.9M355.68 169.61h0.9M336.43 155.18h0.9M339.07 158.73h0.9M352.83 175.21h0.9M356.56 166.64h0.9M334.26 170.5h0.9M346.4 173.79h0.9M343.34 158.83h0.9M338.51 157.96h0.9M332.39 173.02h0.9M351.19 170.88h0.9M341.48 156.77h0.9M355.99 166.88h0.9M332.19 160.11h0.9M346.72 172.24h0.9M329.86 161.01h0.9M344.8 172.9h0.9M330.25 162.93h0.9M354.17 168.12h0.9M331.76 164.94h0.9M343.93 156.67h0.9M341.42 172.75h0.9M328.22 170.79h0.9M356.62 169.26h0.9M336.8 159.73h0.9M344.08 173.78h0.9M335.5 171.96h0.9M332.54 167.93h0.9M331.24 166.73h0.9M331.71 163.69h0.9M327.55 164.84h0.9M354.21 168.37h0.9M346.73 174.57h0.9M355.63 164.27h0.9M342.22 174.68h0.9M353.04 157.65h0.9M343.41 173.88h0.9M338.76 159.13h0.9M348.62 171.55h0.9M348.87 173.17h0.9M329.81 172.61h0.9M349.87 160.07h0.9M334.92 171.48h0.9" stroke="#5a6ad0" stroke-width="0.9" opacity="0.5"/>
<path d="M334.56 163.98h0.9M332.26 165.11h0.9M333.17 166.54h0.9M333.86 168.4h0.9M352.6 167.95h0.9M345.69 171.04h0.9M348.18 160.81h0.9M347.94 170.51h0.9M340.75 160.2h0.9M337.87 170.79h0.9M346.4 160.14h0.9M354.31 165.42h0.9M351.63 169.69h0.9M335.41 161.51h0.9M349.96 169.73h0.9M340.92 160.07h0.9M341.67 171.41h0.9M339.05 170.7h0.9M352.66 162.55h0.9M339.24 160.46h0.9M352.41 164.05h0.9M353.03 165.23h0.9M334.51 163.98h0.9M332.83 164.27h0.9M344.6 159.47h0.9M338.78 171.3h0.9M332.92 166.7h0.9M340.55 171.65h0.9M348.59 170.69h0.9M340.56 170.96h0.9M344.23 159.29h0.9M340.38 159.14h0.9M351.05 169.23h0.9M353.03 163.05h0.9M334.04 162.48h0.9M334.18 166.21h0.9M346.4 160h0.9M334.18 166.54h0.9M339 171.66h0.9M334.92 169.08h0.9M354 164.74h0.9M347.72 160.33h0.9M334.96 161.8h0.9M335.97 169.79h0.9M346.96 170.66h0.9M339.54 171.14h0.9M334.4 167.74h0.9M345.5 171.38h0.9M332.44 166.19h0.9M335.69 169.36h0.9M332.75 166.5h0.9M351.88 168.42h0.9M334.77 162.16h0.9M333.82 167.04h0.9M350.76 162.36h0.9M352.16 162.97h0.9M341.61 159.84h0.9M347.83 160.29h0.9M350.5 169.25h0.9M350.04 161.11h0.9M349.4 170.2h0.9M332.68 165.36h0.9M349.12 170.49h0.9M352.59 165.82h0.9M338.79 160.13h0.9M333.13 165.38h0.9M334.02 163.29h0.9M347.88 160.35h0.9M334.66 167.76h0.9M353.45 167.77h0.9M352.73 169.04h0.9M351.85 163.04h0.9M347.08 159.48h0.9M352.31 163.63h0.9M348.94 160.73h0.9M336.31 169.68h0.9M351.13 169.45h0.9M339.35 171.71h0.9M335.6 169.84h0.9M333.79 167.4h0.9M343.95 171.77h0.9M335.75 168.46h0.9M334.85 168.99h0.9M353.57 166.21h0.9M348.37 170.54h0.9M341.57 171.95h0.9M352.52 168.47h0.9M349.94 161.37h0.9M343.59 171.95h0.9" stroke="#2e44b8" stroke-width="0.9" opacity="0.7"/>
<g transform="translate(343.4 165.6) rotate(0)" filter="url(#bl07)">
<ellipse cx="0" cy="0" rx="10" ry="6" fill="#3050c8"/>
<ellipse cx="0" cy="0" rx="9.1" ry="5.46" fill="#3a86dc"/>
<ellipse cx="0" cy="0" rx="8.18" ry="4.91" fill="#42b6dc"/>
<ellipse cx="0" cy="0" rx="7.25" ry="4.35" fill="#4cc8a8"/>
<ellipse cx="0" cy="0" rx="6.31" ry="3.79" fill="#66cc66"/>
<ellipse cx="0" cy="0" rx="5.36" ry="3.22" fill="#a8d438"/>
<ellipse cx="0" cy="0" rx="4.38" ry="2.63" fill="#e8d424"/>
<ellipse cx="0" cy="0" rx="3.38" ry="2.03" fill="#f4a020"/>
<ellipse cx="0" cy="0" rx="2.35" ry="1.41" fill="#f05a1a"/>
</g>
</g>
<line x1="331.3" y1="115" x2="331.3" y2="186.5" stroke="#333" stroke-width="0.8"/>
<line x1="289.5" y1="156.4" x2="368.3" y2="156.4" stroke="#333" stroke-width="0.8"/>
<rect x="289.5" y="115" width="78.8" height="71.5" fill="none" stroke="#7a7a7a" stroke-width="0.8"/>
<line x1="287.9" y1="122.3" x2="289.5" y2="122.3" stroke="#444" stroke-width="0.8"/>
<text x="284.6" y="124.5" font-size="6.1" text-anchor="end" font-weight="normal" fill="#1a1a1a" stroke="#1a1a1a" stroke-width="0.16">10<tspan dy="-2.44" font-size="3.54" stroke-width="0.04">5</tspan></text>
<line x1="287.9" y1="138.7" x2="289.5" y2="138.7" stroke="#444" stroke-width="0.8"/>
<text x="284.6" y="140.9" font-size="6.1" text-anchor="end" font-weight="normal" fill="#1a1a1a" stroke="#1a1a1a" stroke-width="0.16">10<tspan dy="-2.44" font-size="3.54" stroke-width="0.04">4</tspan></text>
<line x1="287.9" y1="157.8" x2="289.5" y2="157.8" stroke="#444" stroke-width="0.8"/>
<text x="284.6" y="160" font-size="6.1" text-anchor="end" font-weight="normal" fill="#1a1a1a" stroke="#1a1a1a" stroke-width="0.16">10<tspan dy="-2.44" font-size="3.54" stroke-width="0.04">3</tspan></text>
<line x1="287.9" y1="169.9" x2="289.5" y2="169.9" stroke="#444" stroke-width="0.8"/>
<text x="283" y="172.1" font-size="6.1" text-anchor="end" font-weight="normal" fill="#1a1a1a" stroke="#1a1a1a" stroke-width="0.16">0</text>
<line x1="287.9" y1="181.1" x2="289.5" y2="181.1" stroke="#444" stroke-width="0.8"/>
<text x="284.6" y="183.3" font-size="6.1" text-anchor="end" font-weight="normal" fill="#1a1a1a" stroke="#1a1a1a" stroke-width="0.16">&#8722;10<tspan dy="-2.44" font-size="3.54" stroke-width="0.04">3</tspan></text>
<line x1="288.7" y1="125.58" x2="289.5" y2="125.58" stroke="#666" stroke-width="0.5"/>
<line x1="288.7" y1="128.86" x2="289.5" y2="128.86" stroke="#666" stroke-width="0.5"/>
<line x1="288.7" y1="132.14" x2="289.5" y2="132.14" stroke="#666" stroke-width="0.5"/>
<line x1="288.7" y1="135.42" x2="289.5" y2="135.42" stroke="#666" stroke-width="0.5"/>
<line x1="288.7" y1="142.52" x2="289.5" y2="142.52" stroke="#666" stroke-width="0.5"/>
<line x1="288.7" y1="146.34" x2="289.5" y2="146.34" stroke="#666" stroke-width="0.5"/>
<line x1="288.7" y1="150.16" x2="289.5" y2="150.16" stroke="#666" stroke-width="0.5"/>
<line x1="288.7" y1="153.98" x2="289.5" y2="153.98" stroke="#666" stroke-width="0.5"/>
<line x1="288.7" y1="160.22" x2="289.5" y2="160.22" stroke="#666" stroke-width="0.5"/>
<line x1="288.7" y1="162.64" x2="289.5" y2="162.64" stroke="#666" stroke-width="0.5"/>
<line x1="288.7" y1="165.06" x2="289.5" y2="165.06" stroke="#666" stroke-width="0.5"/>
<line x1="288.7" y1="167.48" x2="289.5" y2="167.48" stroke="#666" stroke-width="0.5"/>
<line x1="288.7" y1="172.14" x2="289.5" y2="172.14" stroke="#666" stroke-width="0.5"/>
<line x1="288.7" y1="174.38" x2="289.5" y2="174.38" stroke="#666" stroke-width="0.5"/>
<line x1="288.7" y1="176.62" x2="289.5" y2="176.62" stroke="#666" stroke-width="0.5"/>
<line x1="288.7" y1="178.86" x2="289.5" y2="178.86" stroke="#666" stroke-width="0.5"/>
<line x1="302.4" y1="186.5" x2="302.4" y2="188.1" stroke="#444" stroke-width="0.8"/>
<text x="301.4" y="196.6" font-size="6.1" text-anchor="middle" font-weight="normal" fill="#1a1a1a" stroke="#1a1a1a" stroke-width="0.16">&#8722;10<tspan dy="-2.44" font-size="3.54" stroke-width="0.04">3</tspan></text>
<line x1="311.4" y1="186.5" x2="311.4" y2="188.1" stroke="#444" stroke-width="0.8"/>
<text x="311.4" y="196.6" font-size="6.1" text-anchor="middle" font-weight="normal" fill="#1a1a1a" stroke="#1a1a1a" stroke-width="0.16">0</text>
<line x1="323.6" y1="186.5" x2="323.6" y2="188.1" stroke="#444" stroke-width="0.8"/>
<text x="324.4" y="196.6" font-size="6.1" text-anchor="middle" font-weight="normal" fill="#1a1a1a" stroke="#1a1a1a" stroke-width="0.16">10<tspan dy="-2.44" font-size="3.54" stroke-width="0.04">3</tspan></text>
<line x1="346.3" y1="186.5" x2="346.3" y2="188.1" stroke="#444" stroke-width="0.8"/>
<text x="347.1" y="196.6" font-size="6.1" text-anchor="middle" font-weight="normal" fill="#1a1a1a" stroke="#1a1a1a" stroke-width="0.16">10<tspan dy="-2.44" font-size="3.54" stroke-width="0.04">4</tspan></text>
<line x1="364" y1="186.5" x2="364" y2="188.1" stroke="#444" stroke-width="0.8"/>
<text x="364.8" y="196.6" font-size="6.1" text-anchor="middle" font-weight="normal" fill="#1a1a1a" stroke="#1a1a1a" stroke-width="0.16">10<tspan dy="-2.44" font-size="3.54" stroke-width="0.04">5</tspan></text>
<line x1="304.2" y1="186.5" x2="304.2" y2="187.3" stroke="#666" stroke-width="0.5"/>
<line x1="306" y1="186.5" x2="306" y2="187.3" stroke="#666" stroke-width="0.5"/>
<line x1="307.8" y1="186.5" x2="307.8" y2="187.3" stroke="#666" stroke-width="0.5"/>
<line x1="309.6" y1="186.5" x2="309.6" y2="187.3" stroke="#666" stroke-width="0.5"/>
<line x1="313.84" y1="186.5" x2="313.84" y2="187.3" stroke="#666" stroke-width="0.5"/>
<line x1="316.28" y1="186.5" x2="316.28" y2="187.3" stroke="#666" stroke-width="0.5"/>
<line x1="318.72" y1="186.5" x2="318.72" y2="187.3" stroke="#666" stroke-width="0.5"/>
<line x1="321.16" y1="186.5" x2="321.16" y2="187.3" stroke="#666" stroke-width="0.5"/>
<line x1="328.14" y1="186.5" x2="328.14" y2="187.3" stroke="#666" stroke-width="0.5"/>
<line x1="332.68" y1="186.5" x2="332.68" y2="187.3" stroke="#666" stroke-width="0.5"/>
<line x1="337.22" y1="186.5" x2="337.22" y2="187.3" stroke="#666" stroke-width="0.5"/>
<line x1="341.76" y1="186.5" x2="341.76" y2="187.3" stroke="#666" stroke-width="0.5"/>
<line x1="349.84" y1="186.5" x2="349.84" y2="187.3" stroke="#666" stroke-width="0.5"/>
<line x1="353.38" y1="186.5" x2="353.38" y2="187.3" stroke="#666" stroke-width="0.5"/>
<line x1="356.92" y1="186.5" x2="356.92" y2="187.3" stroke="#666" stroke-width="0.5"/>
<line x1="360.46" y1="186.5" x2="360.46" y2="187.3" stroke="#666" stroke-width="0.5"/>
<ellipse cx="288.7" cy="170.2" rx="0.8" ry="1.5" fill="#111"/>
<ellipse cx="314.6" cy="187.4" rx="1.8" ry="0.7" fill="#111"/>
<text x="290.6" y="121.05" font-size="4.3" text-anchor="start" font-weight="normal" fill="#2a2a2a">CD4+CD8-</text>
<text x="290.8" y="125.75" font-size="4.3" text-anchor="start" font-weight="normal" fill="#2a2a2a">53.5</text>
<text x="337.2" y="120.75" font-size="4.3" text-anchor="start" font-weight="normal" fill="#2a2a2a">CD4+CD8+</text>
<text x="355.4" y="125.55" font-size="4.3" text-anchor="middle" font-weight="normal" fill="#2a2a2a">0.59</text>
<text x="290.6" y="179.45" font-size="4.3" text-anchor="start" font-weight="normal" fill="#2a2a2a">CD4-CD8-</text>
<text x="290.6" y="183.55" font-size="4.3" text-anchor="start" font-weight="normal" fill="#2a2a2a">4.02</text>
<text x="338" y="179.25" font-size="4.3" text-anchor="start" font-weight="normal" fill="#2a2a2a">CD4-CD8+</text>
<text x="357.2" y="183.85" font-size="4.3" text-anchor="middle" font-weight="normal" fill="#2a2a2a">41.3</text>
<text x="332" y="208.19" font-size="8.3" text-anchor="middle" font-weight="bold" fill="#222" textLength="10.2" lengthAdjust="spacingAndGlyphs">CD8</text>
<text x="264.9" y="153.79" font-size="8.3" text-anchor="middle" font-weight="bold" fill="#222" textLength="9.8" lengthAdjust="spacingAndGlyphs" transform="rotate(-90 264.9 150.8)">CD4</text>
<path d="M374.4 150.8 L387.6 150.8" fill="none" stroke="#3a6ea8" stroke-width="0.9"/>
<polygon points="387.6,150.8 384.2,149.1 384.2,152.5" fill="#3a6ea8"/>
<clipPath id="c6"><rect x="419.79999999999995" y="114.6" width="78.30000000000004" height="70.4"/></clipPath>
<g clip-path="url(#c6)">
<path d="M436.4 139.45h0.8M441.17 146.78h0.8M440.02 149.57h0.8M444.66 144.77h0.8M434.56 135.79h0.8M433.51 138.86h0.8M443.66 152.73h0.8M440.85 147.82h0.8M438.5 140.14h0.8M442.98 131.15h0.8M439.26 136.31h0.8M441.06 145.88h0.8M440.85 151.07h0.8M440.42 150.36h0.8M440.99 128.6h0.8M439.93 136.21h0.8M438.56 126.27h0.8M439.05 139.77h0.8M435.56 140.5h0.8M443.3 142.51h0.8M442.76 136.17h0.8M446.91 135.99h0.8M435.11 143.34h0.8M442.4 150.62h0.8M443.02 148.4h0.8M433.88 143.29h0.8M437.62 127.81h0.8M445.99 134.24h0.8M442.62 147.61h0.8M438.8 135.5h0.8M445.33 142.06h0.8M440.68 142.9h0.8M441.39 146.11h0.8M440.73 148.52h0.8M439.88 133.14h0.8M436.84 145.72h0.8M436.44 143.51h0.8M443.05 137.73h0.8M439.9 133.74h0.8M435.04 145.26h0.8M440.88 134.77h0.8M438.3 137.46h0.8M438.69 137.81h0.8M438.02 156.78h0.8M438.01 133.29h0.8M438.39 150.07h0.8M439.17 146.36h0.8M438.67 139.28h0.8M445.79 143.78h0.8M437.73 146.65h0.8M434.45 132.18h0.8M438.84 139.22h0.8M440.36 133.86h0.8M441.72 140.69h0.8M439 144.15h0.8M438.58 148.85h0.8M436.51 143.97h0.8M439.38 126.97h0.8M436.06 138.68h0.8M441.74 133.49h0.8M437.69 138.75h0.8M434.25 138.44h0.8M443.78 148.12h0.8M435.85 136.91h0.8M437.09 127.87h0.8M448.87 137.02h0.8M441.16 138.66h0.8M438.75 131.86h0.8M435.68 140.82h0.8M437.18 146.36h0.8M437.78 144.47h0.8M441.95 133.99h0.8M444.72 140.58h0.8M449.69 138.22h0.8M443.99 146.65h0.8M433.9 131.6h0.8M434.08 147.36h0.8M439.95 148.09h0.8M435.54 146.94h0.8M439.79 145.86h0.8M442.39 142.66h0.8M445.35 132.71h0.8M438.43 148.67h0.8M435.78 146.78h0.8M440.08 143.87h0.8M430.37 136.17h0.8M442.64 134.12h0.8M443.04 146.61h0.8M428.2 142.69h0.8M435.39 134.95h0.8M433.49 143.88h0.8M444.91 158.5h0.8M445.66 138.84h0.8M433.41 148.92h0.8M442.98 142.3h0.8M434.4 134h0.8M438.92 151.87h0.8M445.98 135.7h0.8M432.85 141.2h0.8M443.13 136.91h0.8" stroke="#4050c8" stroke-width="0.8" opacity="0.45"/>
<path d="M450.75 166.54h0.8M434.62 176.36h0.8M462.56 157.69h0.8M452.35 162.85h0.8M443.32 164.88h0.8M450.52 148.82h0.8M448.91 153.92h0.8M445.46 164.51h0.8M456.83 167.05h0.8M445.7 164.04h0.8M447.3 174.87h0.8M440.09 167.94h0.8M444.91 138.58h0.8M456.38 142.92h0.8M441.87 156.26h0.8M453.53 155.68h0.8M453.35 159.95h0.8M434.92 170.12h0.8M462.57 150.76h0.8M456.04 153.89h0.8M442.26 153.97h0.8M432.26 150.15h0.8M455.74 167.69h0.8M454.01 159.52h0.8M443.95 167.22h0.8M466.76 160.72h0.8M465.41 158.31h0.8M447.62 166.52h0.8M450.87 154.55h0.8M444.91 158.38h0.8M449.5 139.95h0.8M454.12 175.15h0.8M452.99 161.94h0.8M454.55 166.48h0.8M456.66 153.53h0.8M439.66 161.88h0.8M453.65 151.29h0.8M447.44 162.05h0.8M463.87 150.72h0.8M441.55 156.92h0.8M442.72 151.86h0.8M441.42 169.5h0.8M453.81 158.93h0.8M464.02 190.75h0.8M455.16 166.25h0.8M441.36 163.21h0.8M444.42 141.31h0.8M453.41 151.04h0.8M462.78 154.34h0.8M447.47 148.08h0.8M448.44 156.22h0.8M455.55 149.08h0.8M443.49 145.92h0.8M443.85 152.87h0.8M448.51 150.07h0.8M457.89 149.46h0.8M452.02 155.6h0.8M453.17 157.98h0.8M446.11 156.92h0.8M445.26 155.58h0.8M460.04 165.93h0.8M461.85 148.34h0.8M460.43 161.69h0.8M455.61 154.26h0.8M465.37 147.81h0.8M452.07 142.98h0.8M447.37 161.15h0.8M452.07 160.01h0.8M461.47 146.24h0.8M434.53 167.84h0.8M436.6 153.84h0.8M470.4 164.74h0.8M448.71 166.93h0.8M442.49 164.86h0.8M446.36 149.88h0.8M441.28 150.91h0.8M452.14 176.06h0.8M458.27 166.92h0.8M448.76 174.99h0.8M449.04 172.24h0.8M439.12 163.52h0.8M440.6 153.79h0.8M448.26 138.14h0.8M453.31 157.93h0.8M434.81 155.96h0.8M448.9 140.61h0.8M444.12 167.86h0.8M446.2 155.14h0.8M448.88 154.88h0.8M440.32 155.58h0.8M432.62 158.73h0.8M447.19 143.17h0.8M436.59 159.26h0.8M445.93 150.5h0.8M445 159.4h0.8M458.92 152.65h0.8M433.05 147.9h0.8M441.59 161.58h0.8M459.63 160.82h0.8M442.41 166.97h0.8M445.98 144.79h0.8M448.18 178.32h0.8M449.61 149.9h0.8M456.4 148.9h0.8M459.92 164.49h0.8M438.35 152.76h0.8M446.64 148.74h0.8M453.03 154.62h0.8M464.79 159.9h0.8M458.14 167.15h0.8M453.76 165.64h0.8M443.83 167.52h0.8M458.47 168.24h0.8M445.03 151.35h0.8M460.04 156.33h0.8M472.23 162.44h0.8M439.83 163.75h0.8M452.08 137.46h0.8M444.73 134.32h0.8M472.97 144.97h0.8M442.62 153.61h0.8M442.88 169.72h0.8M447.63 142.41h0.8M456.59 160.59h0.8M437.49 166.78h0.8M438.19 147.75h0.8M462.78 151.91h0.8M450.34 148.47h0.8M447.27 136.01h0.8M447.23 148.94h0.8M458.01 152.5h0.8M442.51 152.03h0.8M433.18 161.25h0.8M434.32 144.25h0.8M452.14 153.73h0.8M467.7 142.6h0.8M452.89 175.55h0.8M444.29 143.51h0.8M458.82 176.31h0.8M443.11 165.68h0.8M455.78 158.25h0.8M457.12 154.23h0.8M455.58 154.37h0.8M448.46 145.79h0.8M449.5 155.96h0.8M441.98 149.47h0.8M446.54 171.57h0.8M454.07 163.95h0.8M461.43 164.26h0.8M464.55 171.67h0.8M456.31 156.02h0.8M451.11 156.18h0.8M443.45 141.1h0.8M453.6 143.11h0.8M456.06 175.1h0.8M450.86 147.37h0.8M444.34 163.29h0.8M449.16 152.55h0.8M452.28 145.03h0.8M440.99 161.08h0.8M443.62 163.47h0.8M445.71 157.81h0.8M448.59 170.16h0.8M447.55 157.9h0.8M440.09 158.52h0.8M448.55 160.16h0.8M432.22 163.47h0.8M450.62 160.21h0.8M453.41 167.52h0.8M441.47 151.62h0.8M452.11 141.69h0.8M469.32 136.34h0.8M454.66 152.04h0.8M455.55 172.53h0.8M466.41 149.74h0.8M450.54 149.18h0.8M437.99 158.31h0.8M444.54 144.28h0.8M447.09 150.8h0.8M440.04 159.06h0.8M454.64 160.89h0.8M443.98 147.76h0.8M429.92 164.2h0.8M458.52 148.06h0.8M438.02 144.7h0.8M462.23 155h0.8M446.17 157.74h0.8M450.05 153.77h0.8M448.46 163.64h0.8M458.22 145.73h0.8M448.8 156.29h0.8M451.53 181.47h0.8M455.92 164.64h0.8M449.07 162.68h0.8M460.53 169.53h0.8M442.82 158.83h0.8M453.06 146.04h0.8M446.97 152.3h0.8M457.73 157.5h0.8M467.39 162.57h0.8" stroke="#5060c8" stroke-width="0.8" opacity="0.4"/>
<path d="M427.04 158.7h0.9M436.57 164.39h0.9M462.29 150.45h0.9M436.65 162.67h0.9M465.37 156.46h0.9M460.56 147.94h0.9M440.12 147.9h0.9M454.13 170.25h0.9M462.41 156.64h0.9M462.59 155.52h0.9M438.28 175.38h0.9M443.74 171.19h0.9M445.76 177.96h0.9M455.61 169.92h0.9M442.31 170.75h0.9M459.11 166.96h0.9M446.37 171.22h0.9M448.64 141.45h0.9M448.6 143.69h0.9M440.6 169.9h0.9M461.94 158.94h0.9M435.15 152.51h0.9M462.82 153.21h0.9M461.59 149.15h0.9M456.32 171.16h0.9M437.59 165.79h0.9M461.46 166.83h0.9M446.52 172.54h0.9M448.89 139.79h0.9M444.85 171.93h0.9M439.34 144.21h0.9M462.48 154.98h0.9M452.11 143.82h0.9M458.21 169.52h0.9M459.16 146.78h0.9M460.63 144.6h0.9M437.07 164.42h0.9M464.97 158.25h0.9M455.94 169.49h0.9M459.48 172.64h0.9M460.19 163.47h0.9M444.94 170.73h0.9M449.43 142.1h0.9M449.55 143.77h0.9M439.62 144.52h0.9M455.03 143.92h0.9M458.29 171.17h0.9M443.53 146.4h0.9M435.29 156.27h0.9M445.11 142.33h0.9M459.11 146.71h0.9M439.82 167.26h0.9M454.09 142.74h0.9M450.13 175.17h0.9M453.95 142.08h0.9M440.38 169.18h0.9M448.98 142.15h0.9M466.39 155.14h0.9M460.9 143.67h0.9M449.71 139.2h0.9M456.53 170.72h0.9M455.39 143.55h0.9M442.08 172.81h0.9M439.67 169.69h0.9M439.37 150.91h0.9M464.33 156.87h0.9M459.86 147.62h0.9M436.56 156.3h0.9M450.54 174.77h0.9M446.88 144h0.9M438.29 149.33h0.9M460.61 164.68h0.9M463.51 150.6h0.9M449.38 172.04h0.9M441.92 169.91h0.9M459.86 167.93h0.9M436.82 156.72h0.9M441.9 143.12h0.9M445.64 143.66h0.9M437.41 164.79h0.9M463.34 150.76h0.9M452.18 140.52h0.9M465.09 155.04h0.9M462.49 166.69h0.9M458.85 144.33h0.9M467.12 163.34h0.9M460.58 165.82h0.9M456.52 145.05h0.9M451.01 141.52h0.9M456.4 144.36h0.9M457.21 172.82h0.9M447.48 171.93h0.9M449.09 171.34h0.9M433.35 159.53h0.9M452.57 175.58h0.9M437.32 161.53h0.9M443.25 141.72h0.9M437.82 156.49h0.9M462.34 161.31h0.9M435.85 163.89h0.9M464.2 155.25h0.9M438.64 152.25h0.9M443.17 170.57h0.9M435.83 168.64h0.9M454.79 169.9h0.9M443.63 171.67h0.9M442.94 146.81h0.9M441.49 169.96h0.9M463.62 162.94h0.9M446.96 172.58h0.9M462.88 151.93h0.9M439.41 151.57h0.9M439.03 149.88h0.9M450.96 171.22h0.9M460 147.5h0.9M464.51 146.09h0.9M456.21 143.15h0.9M457.07 168.03h0.9M438.58 168.16h0.9M440.27 167.26h0.9M458.18 172.28h0.9M464.32 158.06h0.9M457.44 144.97h0.9M437 158.38h0.9M463.38 153.34h0.9M460.8 165.89h0.9M437.96 165.24h0.9M461.46 150.44h0.9M460.12 172.38h0.9" stroke="#5a6ad0" stroke-width="0.9" opacity="0.5"/>
<path d="M460.05 157.61h0.9M444 168.32h0.9M452.56 145.69h0.9M459.61 159.27h0.9M444.54 168.63h0.9M441.77 150.66h0.9M448.04 146.14h0.9M444.12 147.92h0.9M458.6 163.15h0.9M439.23 158.8h0.9M439.05 154.16h0.9M450.08 170.26h0.9M444.86 170.3h0.9M458.58 150.64h0.9M443.87 149.71h0.9M459.9 151.95h0.9M453.21 144.22h0.9M446.01 147.79h0.9M444.91 169.3h0.9M458.38 162.31h0.9M456.34 166.54h0.9M459.27 149.89h0.9M455.04 146.75h0.9M438.38 155.71h0.9M441.13 151.14h0.9M443.97 147.27h0.9M440.35 154.71h0.9M447.3 169.99h0.9M443.75 148.36h0.9M449.66 146.18h0.9M447.58 168.68h0.9M441.44 164.84h0.9M456.78 166.8h0.9M450.88 168.81h0.9M460.22 162.92h0.9M454.26 147.05h0.9M453.91 168.5h0.9M445.05 167.93h0.9M442.83 167.95h0.9M457.1 147.29h0.9M459.59 158.97h0.9M445.36 147.63h0.9M457.53 165.84h0.9M452.7 169.88h0.9M439.58 162.86h0.9M440.67 152.23h0.9M458.4 165.98h0.9M459.6 153.36h0.9M455.92 166.22h0.9M440.24 160.16h0.9M459.57 149.92h0.9M447.67 168.78h0.9M453.28 169.14h0.9M443.61 166.94h0.9M450.6 144.91h0.9M438.64 157.58h0.9M455.59 166.33h0.9M454.5 167.08h0.9M451.05 168.48h0.9M440.42 151.57h0.9M460.87 157.85h0.9M453.01 167.53h0.9M441.86 165.64h0.9M441.14 164.87h0.9M453.41 168.95h0.9M451.55 145.54h0.9M461.34 156.65h0.9M461.3 157.89h0.9M445.28 147.59h0.9M442.07 151.66h0.9M459.71 163.77h0.9M440.22 165.02h0.9M460.85 153.43h0.9M442.29 151.56h0.9M459.88 161.58h0.9M451.02 169.24h0.9M444.77 147.88h0.9M441.49 150.23h0.9M445.74 148.32h0.9M439.92 160.95h0.9M451.2 169.01h0.9M444.66 168.81h0.9M457.24 166.4h0.9M460.11 159.22h0.9M456.01 147.17h0.9M446.62 170.47h0.9M442.37 151.67h0.9M455.45 165.88h0.9M445.02 169.98h0.9M444.27 169.8h0.9M459.63 150.58h0.9M444.97 147.72h0.9M438.94 164.75h0.9M447.68 147.29h0.9M458.84 149.95h0.9M449.62 170.1h0.9M458.02 163.98h0.9M448.63 169.93h0.9M459.42 150.43h0.9M461.46 156.8h0.9M460.16 153.07h0.9M460.15 152.94h0.9M451.84 168.11h0.9M450.39 144.83h0.9M442.16 151.01h0.9M451.73 168.23h0.9M450.28 168.84h0.9M447.29 168.48h0.9M447.49 145.89h0.9M448.08 170.79h0.9M459.61 160.09h0.9M442.01 149.44h0.9M444.44 167.37h0.9M461.3 154.48h0.9M441.49 166.51h0.9M460.33 157.13h0.9M442.08 165.57h0.9M444.27 149.32h0.9M454 168.67h0.9M460.58 153.73h0.9M445.25 146.43h0.9M442.36 151.77h0.9M460.42 151.78h0.9M461.25 153.79h0.9M442.24 169.03h0.9M452.79 170.08h0.9M443.84 168.55h0.9M454.09 146.93h0.9M439.04 162.25h0.9M439.19 161.92h0.9M445.3 169.47h0.9M450.32 145.66h0.9M443.61 149.22h0.9M447.61 145.55h0.9M450.09 145.39h0.9M451.14 145.49h0.9M438.94 157.42h0.9M440.76 166.57h0.9M454.15 168.29h0.9M444.4 169.79h0.9M454.76 146.93h0.9M454.02 169.57h0.9M441.49 152.01h0.9M452.29 144.04h0.9M450.19 170.01h0.9M438.43 158.58h0.9M456.59 165.52h0.9M448.13 169.39h0.9M450.38 168.67h0.9M453.33 144.39h0.9M451.9 146.27h0.9M452.06 169.82h0.9M450.36 169.43h0.9M441.52 152.5h0.9M437.86 160.2h0.9M440.83 151.3h0.9M446.64 168.61h0.9M444.97 146.69h0.9M446.52 169.48h0.9M442.1 167h0.9M451.73 168.05h0.9M459.85 160.37h0.9M439.92 165.76h0.9M460.3 156.49h0.9M459.91 161.13h0.9M447.7 169.06h0.9M457.36 147.35h0.9M447.38 169.25h0.9M458.02 165.62h0.9M456.75 147.05h0.9M445.41 170.03h0.9" stroke="#2e44b8" stroke-width="0.9" opacity="0.7"/>
<g transform="translate(450 157.5) rotate(25)" filter="url(#bl06)">
<ellipse cx="0" cy="0" rx="10.5" ry="12.5" fill="#3050c8"/>
</g>
<g filter="url(#bl09)">
<path d="M448 143 Q456 142.5 461 147 Q463.5 153 462.5 158 Q461.5 164 458.5 167 Q454 171.5 447 172 Q441 172 438.5 167.5 Q436.5 162 437.5 156.5 Q438.5 151 441 148 Q444 144 448 143 Z" fill="#3050c8"/>
<path d="M449 144.8 Q456 144.5 459.5 148.5 Q461.5 153 460.8 158 Q459.8 163 457 165.5 Q453 169.5 447.5 170 Q442.5 170 440.5 166 Q439 162 440 157 Q441 152 443.5 149 Q446 145.5 449 144.8 Z" fill="#3a86dc"/>
<path d="M450 146.5 Q456 146.5 458.5 150 Q460 154 459 158.5 Q458 162 455 164.5 Q451.5 167.5 447.5 167.8 Q443.5 167.5 442.5 164 Q441.8 160 443 156.5 Q444.5 152 446.5 149.5 Q448 147 450 146.5 Z" fill="#42b6dc"/>
<path d="M450.5 147 Q457 147 458.8 151 Q459.8 155.5 458 159 Q456 163 452 165.5 Q448 168 445 167 Q442.5 165.5 443 161.5 Q443.8 157 445.8 153 Q448 148 450.5 147 Z" fill="#4cc8a8"/>
<path d="M451.5 148 Q457 148 458 151.5 Q458.6 156 456.5 159 Q454 162.5 450 164.5 Q446.5 165.5 445.5 162.5 Q445.5 158 447.5 154 Q449.5 149 451.5 148 Z" fill="#66cc66"/>
<ellipse cx="452.4" cy="153.2" rx="5.0" ry="6.2" transform="rotate(25 452.4 153.2)" fill="#a8d438"/>
</g>
<g filter="url(#bl06)">
<ellipse cx="453.3" cy="152.0" rx="3.8" ry="4.4" fill="#e8d424"/>
<ellipse cx="453.4" cy="151.6" rx="2.7" ry="3.0" fill="#f4a020"/>
<ellipse cx="453.4" cy="151.4" rx="1.6" ry="1.8" fill="#f05a1a"/>
</g>
<path d="M444.15 154.07h0.9M441.83 126.53h0.9M439.74 128.81h0.9M446.66 146.45h0.9M435.93 130.96h0.9M435.68 149.45h0.9M444.83 149.45h0.9M436.34 151.48h0.9M442.37 153.67h0.9M446.59 139.05h0.9M434.29 132.84h0.9M440.72 129.38h0.9M443.56 154.81h0.9M434.27 136.4h0.9M446.66 150.23h0.9M435.43 152.74h0.9M446.8 145.13h0.9M435.02 146.92h0.9M444.59 150.55h0.9M443.07 154.13h0.9M443.81 131.82h0.9M434.45 146.49h0.9M444.52 151h0.9M446.92 148h0.9M441.79 128.19h0.9M440.88 130.6h0.9M438.72 130.16h0.9M442.74 155.1h0.9M445.57 146.87h0.9M436.58 151.28h0.9M445.92 146.21h0.9M440.03 154.57h0.9M433.26 143.65h0.9M433.67 136.36h0.9M442.33 158.1h0.9M445.6 154h0.9M447.77 141.39h0.9M445.47 134.47h0.9M438.6 156.03h0.9M446.72 139.28h0.9M442.77 155.51h0.9M445.63 151.36h0.9M436.41 131.7h0.9M443.21 155.82h0.9M445.36 140.05h0.9M446.86 144.7h0.9M446.79 142.34h0.9M444.27 153.8h0.9M447.13 151.61h0.9M442.75 152.83h0.9M432.47 140.96h0.9M442.04 128.6h0.9M441.75 131.1h0.9M437.49 152.05h0.9M437.56 129.92h0.9M438.06 152.51h0.9M442.32 130.91h0.9M437.15 155.13h0.9M445.28 149.1h0.9M434.89 133.45h0.9M439.17 160.4h0.9M439.09 153.06h0.9M435.31 130.11h0.9M447.3 156.34h0.9M432.89 139.2h0.9M437.87 130.22h0.9M434.39 145.14h0.9M439.55 153.58h0.9M433.75 133.45h0.9M432.08 140.17h0.9M440.83 130.97h0.9M436.25 151.14h0.9M443.24 133.25h0.9M433.78 137.37h0.9M446.28 145.26h0.9M439.6 130.36h0.9M437.5 131.19h0.9M444.64 133.72h0.9M437.83 154.8h0.9M438.86 154.76h0.9M445.59 146.27h0.9" stroke="#5a6ad0" stroke-width="0.9" opacity="0.5"/>
<path d="M442.14 151.79h0.9M443.91 138.28h0.9M441.75 151.42h0.9M444.71 144.81h0.9M443.96 139.07h0.9M443.61 148.87h0.9M437.8 131.26h0.9M435.59 137.67h0.9M436.48 149.97h0.9M434.93 135.29h0.9M434.88 135.45h0.9M435.54 134.76h0.9M443.74 137.74h0.9M441.59 151.27h0.9M437.4 133.46h0.9M443.53 150.99h0.9M436.89 149.72h0.9M436.94 131.88h0.9M435.79 145.7h0.9M444.12 147.08h0.9M434.54 141.7h0.9M439.38 151.73h0.9M436.92 131.96h0.9M437.39 149.54h0.9M436.44 133.25h0.9M437.22 133.06h0.9M444.05 138.56h0.9M434.75 136.26h0.9M439.03 132.61h0.9M440.93 132.59h0.9M445.16 140.58h0.9M435.52 137.59h0.9M439.44 133.06h0.9M437.9 132.59h0.9M434.34 139.59h0.9M442.62 134.98h0.9M434.84 142.84h0.9M438.94 132.95h0.9M435.4 136.84h0.9M441.54 152.41h0.9M440.67 151.96h0.9M439.79 152.12h0.9M437.28 149.42h0.9M441.39 132.84h0.9M445.19 147.49h0.9M435.06 139.34h0.9M436.09 133.28h0.9M441.88 151.95h0.9M445.3 142.36h0.9M436.33 147.07h0.9M440.82 133.58h0.9M434.99 139.79h0.9M437.29 149.29h0.9M437.81 133.09h0.9M437.97 152.02h0.9M444.34 147.01h0.9M442.71 151.53h0.9M437.14 132.3h0.9M442.6 151.44h0.9M445.13 143.13h0.9M442.2 133.68h0.9M436.53 134.13h0.9M437.16 150.02h0.9M436.48 134.54h0.9M444.73 143.28h0.9M441.22 133.34h0.9M435.12 144.09h0.9M438.45 131.86h0.9M438.65 131.61h0.9M437.49 132.5h0.9M436.26 132.49h0.9M436.93 148.75h0.9M438.03 150.76h0.9M440.95 151.83h0.9M435.03 145.23h0.9M443.02 151.92h0.9M436.82 148.74h0.9M439.27 132.15h0.9M440.76 132.63h0.9M440.75 153.21h0.9M438.56 151.12h0.9M442.11 133.99h0.9M436.08 134.42h0.9M439.8 132.38h0.9M444.82 147.61h0.9M437.34 133.54h0.9M444.9 146.36h0.9M437.27 131.58h0.9M435.62 146.67h0.9M435.89 145.49h0.9M441.01 132.97h0.9M443.77 150.48h0.9M441.8 152.63h0.9M444.51 141.42h0.9M439.35 132.44h0.9M445.07 141.06h0.9M440.55 151.74h0.9M440.41 131.93h0.9M438.44 150.91h0.9" stroke="#2e44b8" stroke-width="0.9" opacity="0.7"/>
<g transform="translate(439.9 142.2) rotate(-6)" filter="url(#bl06)">
<ellipse cx="0" cy="0" rx="5" ry="10.2" fill="#3050c8"/>
<ellipse cx="0" cy="0" rx="4.5" ry="9.18" fill="#3a86dc"/>
<ellipse cx="0" cy="0" rx="4" ry="8.16" fill="#42b6dc"/>
<ellipse cx="0" cy="0" rx="3.5" ry="7.14" fill="#4cc8a8"/>
<ellipse cx="0" cy="0" rx="3" ry="6.12" fill="#66cc66"/>
<ellipse cx="0" cy="0" rx="2.5" ry="5.1" fill="#a8d438"/>
<ellipse cx="0" cy="0" rx="2" ry="4.08" fill="#e8d424"/>
<ellipse cx="0" cy="0" rx="1.5" ry="3.06" fill="#f4a020"/>
<ellipse cx="0" cy="0" rx="1" ry="2.04" fill="#f05a1a"/>
</g>
</g>
<path d="M421.2 154.3 L421.2 116.9 L441.4 116.9 Q446 117.5 449.2 121.4 L449.2 142.2 L438.8 154.3 Z" fill="none" stroke="#444" stroke-width="0.7"/>
<path d="M449.2 126.6 L487.8 125.4 L487.8 179 L420.7 179 L420.7 154.3 L438.8 154.3 L449.2 142.2" fill="none" stroke="#444" stroke-width="0.7"/>
<rect x="419.4" y="114.6" width="78.9" height="70.4" fill="none" stroke="#7a7a7a" stroke-width="0.8"/>
<line x1="417.8" y1="120.9" x2="419.4" y2="120.9" stroke="#444" stroke-width="0.8"/>
<text x="414.4" y="123.1" font-size="6.1" text-anchor="end" font-weight="normal" fill="#1a1a1a" stroke="#1a1a1a" stroke-width="0.16">10<tspan dy="-2.44" font-size="3.54" stroke-width="0.04">5</tspan></text>
<line x1="417.8" y1="137.5" x2="419.4" y2="137.5" stroke="#444" stroke-width="0.8"/>
<text x="414.4" y="139.7" font-size="6.1" text-anchor="end" font-weight="normal" fill="#1a1a1a" stroke="#1a1a1a" stroke-width="0.16">10<tspan dy="-2.44" font-size="3.54" stroke-width="0.04">4</tspan></text>
<line x1="417.8" y1="156.6" x2="419.4" y2="156.6" stroke="#444" stroke-width="0.8"/>
<text x="414.4" y="158.8" font-size="6.1" text-anchor="end" font-weight="normal" fill="#1a1a1a" stroke="#1a1a1a" stroke-width="0.16">10<tspan dy="-2.44" font-size="3.54" stroke-width="0.04">3</tspan></text>
<line x1="417.8" y1="169" x2="419.4" y2="169" stroke="#444" stroke-width="0.8"/>
<text x="412.8" y="171.2" font-size="6.1" text-anchor="end" font-weight="normal" fill="#1a1a1a" stroke="#1a1a1a" stroke-width="0.16">0</text>
<line x1="417.8" y1="180.3" x2="419.4" y2="180.3" stroke="#444" stroke-width="0.8"/>
<text x="414.4" y="182.5" font-size="6.1" text-anchor="end" font-weight="normal" fill="#1a1a1a" stroke="#1a1a1a" stroke-width="0.16">&#8722;10<tspan dy="-2.44" font-size="3.54" stroke-width="0.04">3</tspan></text>
<line x1="418.6" y1="124.22" x2="419.4" y2="124.22" stroke="#666" stroke-width="0.5"/>
<line x1="418.6" y1="127.54" x2="419.4" y2="127.54" stroke="#666" stroke-width="0.5"/>
<line x1="418.6" y1="130.86" x2="419.4" y2="130.86" stroke="#666" stroke-width="0.5"/>
<line x1="418.6" y1="134.18" x2="419.4" y2="134.18" stroke="#666" stroke-width="0.5"/>
<line x1="418.6" y1="141.32" x2="419.4" y2="141.32" stroke="#666" stroke-width="0.5"/>
<line x1="418.6" y1="145.14" x2="419.4" y2="145.14" stroke="#666" stroke-width="0.5"/>
<line x1="418.6" y1="148.96" x2="419.4" y2="148.96" stroke="#666" stroke-width="0.5"/>
<line x1="418.6" y1="152.78" x2="419.4" y2="152.78" stroke="#666" stroke-width="0.5"/>
<line x1="418.6" y1="159.08" x2="419.4" y2="159.08" stroke="#666" stroke-width="0.5"/>
<line x1="418.6" y1="161.56" x2="419.4" y2="161.56" stroke="#666" stroke-width="0.5"/>
<line x1="418.6" y1="164.04" x2="419.4" y2="164.04" stroke="#666" stroke-width="0.5"/>
<line x1="418.6" y1="166.52" x2="419.4" y2="166.52" stroke="#666" stroke-width="0.5"/>
<line x1="418.6" y1="171.26" x2="419.4" y2="171.26" stroke="#666" stroke-width="0.5"/>
<line x1="418.6" y1="173.52" x2="419.4" y2="173.52" stroke="#666" stroke-width="0.5"/>
<line x1="418.6" y1="175.78" x2="419.4" y2="175.78" stroke="#666" stroke-width="0.5"/>
<line x1="418.6" y1="178.04" x2="419.4" y2="178.04" stroke="#666" stroke-width="0.5"/>
<line x1="426.3" y1="185" x2="426.3" y2="186.6" stroke="#444" stroke-width="0.8"/>
<text x="425.3" y="196.6" font-size="6.1" text-anchor="middle" font-weight="normal" fill="#1a1a1a" stroke="#1a1a1a" stroke-width="0.16">&#8722;10<tspan dy="-2.44" font-size="3.54" stroke-width="0.04">3</tspan></text>
<line x1="438.5" y1="185" x2="438.5" y2="186.6" stroke="#444" stroke-width="0.8"/>
<text x="438.5" y="196.6" font-size="6.1" text-anchor="middle" font-weight="normal" fill="#1a1a1a" stroke="#1a1a1a" stroke-width="0.16">0</text>
<line x1="451.3" y1="185" x2="451.3" y2="186.6" stroke="#444" stroke-width="0.8"/>
<text x="452.1" y="196.6" font-size="6.1" text-anchor="middle" font-weight="normal" fill="#1a1a1a" stroke="#1a1a1a" stroke-width="0.16">10<tspan dy="-2.44" font-size="3.54" stroke-width="0.04">3</tspan></text>
<line x1="471.9" y1="185" x2="471.9" y2="186.6" stroke="#444" stroke-width="0.8"/>
<text x="472.7" y="196.6" font-size="6.1" text-anchor="middle" font-weight="normal" fill="#1a1a1a" stroke="#1a1a1a" stroke-width="0.16">10<tspan dy="-2.44" font-size="3.54" stroke-width="0.04">4</tspan></text>
<line x1="490.8" y1="185" x2="490.8" y2="186.6" stroke="#444" stroke-width="0.8"/>
<text x="491.6" y="196.6" font-size="6.1" text-anchor="middle" font-weight="normal" fill="#1a1a1a" stroke="#1a1a1a" stroke-width="0.16">10<tspan dy="-2.44" font-size="3.54" stroke-width="0.04">5</tspan></text>
<line x1="428.74" y1="185" x2="428.74" y2="185.8" stroke="#666" stroke-width="0.5"/>
<line x1="431.18" y1="185" x2="431.18" y2="185.8" stroke="#666" stroke-width="0.5"/>
<line x1="433.62" y1="185" x2="433.62" y2="185.8" stroke="#666" stroke-width="0.5"/>
<line x1="436.06" y1="185" x2="436.06" y2="185.8" stroke="#666" stroke-width="0.5"/>
<line x1="441.06" y1="185" x2="441.06" y2="185.8" stroke="#666" stroke-width="0.5"/>
<line x1="443.62" y1="185" x2="443.62" y2="185.8" stroke="#666" stroke-width="0.5"/>
<line x1="446.18" y1="185" x2="446.18" y2="185.8" stroke="#666" stroke-width="0.5"/>
<line x1="448.74" y1="185" x2="448.74" y2="185.8" stroke="#666" stroke-width="0.5"/>
<line x1="455.42" y1="185" x2="455.42" y2="185.8" stroke="#666" stroke-width="0.5"/>
<line x1="459.54" y1="185" x2="459.54" y2="185.8" stroke="#666" stroke-width="0.5"/>
<line x1="463.66" y1="185" x2="463.66" y2="185.8" stroke="#666" stroke-width="0.5"/>
<line x1="467.78" y1="185" x2="467.78" y2="185.8" stroke="#666" stroke-width="0.5"/>
<line x1="475.68" y1="185" x2="475.68" y2="185.8" stroke="#666" stroke-width="0.5"/>
<line x1="479.46" y1="185" x2="479.46" y2="185.8" stroke="#666" stroke-width="0.5"/>
<line x1="483.24" y1="185" x2="483.24" y2="185.8" stroke="#666" stroke-width="0.5"/>
<line x1="487.02" y1="185" x2="487.02" y2="185.8" stroke="#666" stroke-width="0.5"/>
<ellipse cx="418.6" cy="169" rx="0.8" ry="1.5" fill="#111"/>
<ellipse cx="438" cy="185.9" rx="1.8" ry="0.7" fill="#111"/>
<rect x="421.6" y="116" width="9" height="9.6" fill="#fff"/>
<text x="421.6" y="120.1" font-size="3.9" text-anchor="start" font-weight="normal" fill="#2a2a2a">Treg</text>
<text x="421.6" y="124.9" font-size="3.9" text-anchor="start" font-weight="normal" fill="#2a2a2a">24.3</text>
<text x="488.4" y="131.2" font-size="3.9" text-anchor="start" font-weight="normal" fill="#2a2a2a">Tcon</text>
<text x="488.4" y="135.8" font-size="3.9" text-anchor="start" font-weight="normal" fill="#2a2a2a">73.7</text>
<text x="458.7" y="208.39" font-size="8.3" text-anchor="middle" font-weight="bold" fill="#222" textLength="15.2" lengthAdjust="spacingAndGlyphs">CD127</text>
<text x="394.4" y="152.29" font-size="8.3" text-anchor="middle" font-weight="bold" fill="#222" textLength="12.8" lengthAdjust="spacingAndGlyphs" transform="rotate(-90 394.4 149.3)">CD25</text>
<text x="10.4" y="232.98" font-size="10.5" text-anchor="middle" font-weight="bold" fill="#111">B</text>
<rect x="48.4" y="305.25" width="13.4" height="34.95" fill="#17508e"/>
<rect x="65.7" y="278.36" width="13.4" height="61.84" fill="#c8102e"/>
<rect x="108.3" y="313.23" width="12.7" height="26.97" fill="#17508e"/>
<rect x="125.2" y="290.03" width="12.9" height="50.17" fill="#c8102e"/>
<line x1="55.1" y1="286.43" x2="55.1" y2="317.35" stroke="#222" stroke-width="0.8"/>
<polygon points="53.7,285.93 56.5,285.93 55.1,287.43" fill="#222"/>
<line x1="72.4" y1="258.2" x2="72.4" y2="293.15" stroke="#222" stroke-width="0.8"/>
<polygon points="71,257.7 73.8,257.7 72.4,259.2" fill="#222"/>
<line x1="114.65" y1="292.73" x2="114.65" y2="327.66" stroke="#222" stroke-width="0.8"/>
<polygon points="113.25,292.23 116.05,292.23 114.65,293.73" fill="#222"/>
<line x1="131.65" y1="258.48" x2="131.65" y2="315.12" stroke="#222" stroke-width="0.8"/>
<polygon points="130.25,257.98 133.05,257.98 131.65,259.48" fill="#222"/>
<line x1="34.1" y1="245.6" x2="34.1" y2="340.2" stroke="#1a1a1a" stroke-width="1.2"/>
<line x1="33.5" y1="340.2" x2="153.3" y2="340.2" stroke="#1a1a1a" stroke-width="1.2"/>
<line x1="31.3" y1="340.2" x2="34.1" y2="340.2" stroke="#222" stroke-width="0.8"/>
<text x="28.2" y="342.43" font-size="6.2" text-anchor="end" font-weight="normal" fill="#1a1a1a" stroke="#1a1a1a" stroke-width="0.17">0</text>
<line x1="31.3" y1="326.76" x2="34.1" y2="326.76" stroke="#222" stroke-width="0.8"/>
<text x="28.2" y="328.99" font-size="6.2" text-anchor="end" font-weight="normal" fill="#1a1a1a" stroke="#1a1a1a" stroke-width="0.17">1</text>
<line x1="31.3" y1="313.31" x2="34.1" y2="313.31" stroke="#222" stroke-width="0.8"/>
<text x="28.2" y="315.55" font-size="6.2" text-anchor="end" font-weight="normal" fill="#1a1a1a" stroke="#1a1a1a" stroke-width="0.17">2</text>
<line x1="31.3" y1="299.87" x2="34.1" y2="299.87" stroke="#222" stroke-width="0.8"/>
<text x="28.2" y="302.1" font-size="6.2" text-anchor="end" font-weight="normal" fill="#1a1a1a" stroke="#1a1a1a" stroke-width="0.17">3</text>
<line x1="31.3" y1="286.43" x2="34.1" y2="286.43" stroke="#222" stroke-width="0.8"/>
<text x="28.2" y="288.66" font-size="6.2" text-anchor="end" font-weight="normal" fill="#1a1a1a" stroke="#1a1a1a" stroke-width="0.17">4</text>
<line x1="31.3" y1="272.99" x2="34.1" y2="272.99" stroke="#222" stroke-width="0.8"/>
<text x="28.2" y="275.22" font-size="6.2" text-anchor="end" font-weight="normal" fill="#1a1a1a" stroke="#1a1a1a" stroke-width="0.17">5</text>
<line x1="31.3" y1="259.54" x2="34.1" y2="259.54" stroke="#222" stroke-width="0.8"/>
<text x="28.2" y="261.77" font-size="6.2" text-anchor="end" font-weight="normal" fill="#1a1a1a" stroke="#1a1a1a" stroke-width="0.17">6</text>
<line x1="31.3" y1="246.1" x2="34.1" y2="246.1" stroke="#222" stroke-width="0.8"/>
<text x="28.2" y="248.33" font-size="6.2" text-anchor="end" font-weight="normal" fill="#1a1a1a" stroke="#1a1a1a" stroke-width="0.17">7</text>
<line x1="63.6" y1="340.2" x2="63.6" y2="342.2" stroke="#222" stroke-width="0.8"/>
<text x="63.6" y="351.22" font-size="6.45" text-anchor="middle" font-weight="normal" fill="#1a1a1a" stroke="#1a1a1a" stroke-width="0.18">WBC</text>
<line x1="122.7" y1="340.2" x2="122.7" y2="342.2" stroke="#222" stroke-width="0.8"/>
<text x="122.7" y="351.22" font-size="6.45" text-anchor="middle" font-weight="normal" fill="#1a1a1a" stroke="#1a1a1a" stroke-width="0.18">Lymphocyte</text>
<text x="63.4" y="253.86" font-size="6" text-anchor="middle" font-weight="normal" fill="#1a1a1a" stroke="#1a1a1a" stroke-width="0.16"><tspan font-style="italic">P</tspan> &lt; .0005</text>
<text x="123.2" y="253.66" font-size="6" text-anchor="middle" font-weight="normal" fill="#1a1a1a" stroke="#1a1a1a" stroke-width="0.16"><tspan font-style="italic">P</tspan> &lt; .05</text>
<rect x="42.4" y="361.6" width="5.2" height="5" fill="#17508e"/>
<text x="51" y="366.25" font-size="5.7" text-anchor="start" font-weight="normal" fill="#1a1a1a" stroke="#1a1a1a" stroke-width="0.14">No CRS (N = 28)</text>
<rect x="102.4" y="361.6" width="5.2" height="5" fill="#c8102e"/>
<text x="110.8" y="366.25" font-size="5.7" text-anchor="start" font-weight="normal" fill="#1a1a1a" stroke="#1a1a1a" stroke-width="0.14">CRS (N = 37)</text>
<line x1="153.3" y1="245.3" x2="153.3" y2="340.2" stroke="#1a1a1a" stroke-width="1.2"/>
<line x1="153.3" y1="340.2" x2="155.5" y2="340.2" stroke="#222" stroke-width="0.8"/>
<text x="158.9" y="342.43" font-size="6.2" text-anchor="start" font-weight="normal" fill="#1a1a1a" stroke="#1a1a1a" stroke-width="0.17">0</text>
<line x1="153.3" y1="326.71" x2="155.5" y2="326.71" stroke="#222" stroke-width="0.8"/>
<text x="158.9" y="328.95" font-size="6.2" text-anchor="start" font-weight="normal" fill="#1a1a1a" stroke="#1a1a1a" stroke-width="0.17">100</text>
<line x1="153.3" y1="313.23" x2="155.5" y2="313.23" stroke="#222" stroke-width="0.8"/>
<text x="158.9" y="315.46" font-size="6.2" text-anchor="start" font-weight="normal" fill="#1a1a1a" stroke="#1a1a1a" stroke-width="0.17">200</text>
<line x1="153.3" y1="299.74" x2="155.5" y2="299.74" stroke="#222" stroke-width="0.8"/>
<text x="158.9" y="301.97" font-size="6.2" text-anchor="start" font-weight="normal" fill="#1a1a1a" stroke="#1a1a1a" stroke-width="0.17">300</text>
<line x1="153.3" y1="286.26" x2="155.5" y2="286.26" stroke="#222" stroke-width="0.8"/>
<text x="158.9" y="288.49" font-size="6.2" text-anchor="start" font-weight="normal" fill="#1a1a1a" stroke="#1a1a1a" stroke-width="0.17">400</text>
<line x1="153.3" y1="272.77" x2="155.5" y2="272.77" stroke="#222" stroke-width="0.8"/>
<text x="158.9" y="275" font-size="6.2" text-anchor="start" font-weight="normal" fill="#1a1a1a" stroke="#1a1a1a" stroke-width="0.17">500</text>
<line x1="153.3" y1="259.29" x2="155.5" y2="259.29" stroke="#222" stroke-width="0.8"/>
<text x="158.9" y="261.52" font-size="6.2" text-anchor="start" font-weight="normal" fill="#1a1a1a" stroke="#1a1a1a" stroke-width="0.17">600</text>
<line x1="153.3" y1="245.8" x2="155.5" y2="245.8" stroke="#222" stroke-width="0.8"/>
<text x="158.9" y="248.03" font-size="6.2" text-anchor="start" font-weight="normal" fill="#1a1a1a" stroke="#1a1a1a" stroke-width="0.17">700</text>
<text x="17.1" y="294.89" font-size="8.3" text-anchor="middle" font-weight="bold" fill="#222" textLength="36.6" lengthAdjust="spacingAndGlyphs" transform="rotate(-90 17.1 291.9)">WBC (&#215;10<tspan dy="-2.2" font-size="5">9</tspan><tspan dy="2.2">/L)</tspan></text>
<text x="176" y="293.99" font-size="8.3" text-anchor="middle" font-weight="bold" fill="#222" textLength="54.5" lengthAdjust="spacingAndGlyphs" transform="rotate(90 176 291)">Lymphocyte (cells/uL)</text>
<text x="199.2" y="233.58" font-size="10.5" text-anchor="middle" font-weight="bold" fill="#111">C</text>
<rect x="237.1" y="322.2" width="9.6" height="17.8" fill="#17508e"/>
<rect x="249.7" y="286.6" width="9.2" height="53.4" fill="#c8102e"/>
<rect x="280.2" y="333.32" width="9" height="6.68" fill="#17508e"/>
<rect x="291.7" y="321.64" width="9.6" height="18.36" fill="#c8102e"/>
<rect x="322.1" y="334.99" width="9.4" height="5.01" fill="#17508e"/>
<rect x="334" y="314.41" width="9.7" height="25.59" fill="#c8102e"/>
<line x1="241.9" y1="300.51" x2="241.9" y2="337.22" stroke="#222" stroke-width="0.8"/>
<polygon points="240.5,300.01 243.3,300.01 241.9,301.51" fill="#222"/>
<line x1="254.3" y1="252.67" x2="254.3" y2="312.74" stroke="#222" stroke-width="0.8"/>
<polygon points="252.9,252.17 255.7,252.17 254.3,253.67" fill="#222"/>
<line x1="284.7" y1="325.54" x2="284.7" y2="338.89" stroke="#222" stroke-width="0.8"/>
<polygon points="283.3,325.04 286.1,325.04 284.7,326.54" fill="#222"/>
<line x1="296.5" y1="298.28" x2="296.5" y2="328.88" stroke="#222" stroke-width="0.8"/>
<polygon points="295.1,297.78 297.9,297.78 296.5,299.28" fill="#222"/>
<line x1="326.8" y1="306.62" x2="326.8" y2="339.44" stroke="#222" stroke-width="0.8"/>
<polygon points="325.4,306.12 328.2,306.12 326.8,307.62" fill="#222"/>
<line x1="338.85" y1="281.59" x2="338.85" y2="328.88" stroke="#222" stroke-width="0.8"/>
<polygon points="337.45,281.09 340.25,281.09 338.85,282.59" fill="#222"/>
<line x1="226.4" y1="250.5" x2="226.4" y2="340" stroke="#1a1a1a" stroke-width="1.2"/>
<line x1="225.8" y1="340" x2="354.3" y2="340" stroke="#1a1a1a" stroke-width="1.2"/>
<line x1="223.6" y1="340" x2="226.4" y2="340" stroke="#222" stroke-width="0.8"/>
<text x="220.5" y="342.23" font-size="6.2" text-anchor="end" font-weight="normal" fill="#1a1a1a" stroke="#1a1a1a" stroke-width="0.17">0</text>
<line x1="223.6" y1="328.88" x2="226.4" y2="328.88" stroke="#222" stroke-width="0.8"/>
<text x="220.5" y="331.11" font-size="6.2" text-anchor="end" font-weight="normal" fill="#1a1a1a" stroke="#1a1a1a" stroke-width="0.17">20</text>
<line x1="223.6" y1="317.75" x2="226.4" y2="317.75" stroke="#222" stroke-width="0.8"/>
<text x="220.5" y="319.98" font-size="6.2" text-anchor="end" font-weight="normal" fill="#1a1a1a" stroke="#1a1a1a" stroke-width="0.17">40</text>
<line x1="223.6" y1="306.62" x2="226.4" y2="306.62" stroke="#222" stroke-width="0.8"/>
<text x="220.5" y="308.86" font-size="6.2" text-anchor="end" font-weight="normal" fill="#1a1a1a" stroke="#1a1a1a" stroke-width="0.17">60</text>
<line x1="223.6" y1="295.5" x2="226.4" y2="295.5" stroke="#222" stroke-width="0.8"/>
<text x="220.5" y="297.73" font-size="6.2" text-anchor="end" font-weight="normal" fill="#1a1a1a" stroke="#1a1a1a" stroke-width="0.17">80</text>
<line x1="223.6" y1="284.38" x2="226.4" y2="284.38" stroke="#222" stroke-width="0.8"/>
<text x="220.5" y="286.61" font-size="6.2" text-anchor="end" font-weight="normal" fill="#1a1a1a" stroke="#1a1a1a" stroke-width="0.17">100</text>
<line x1="223.6" y1="273.25" x2="226.4" y2="273.25" stroke="#222" stroke-width="0.8"/>
<text x="220.5" y="275.48" font-size="6.2" text-anchor="end" font-weight="normal" fill="#1a1a1a" stroke="#1a1a1a" stroke-width="0.17">120</text>
<line x1="223.6" y1="262.12" x2="226.4" y2="262.12" stroke="#222" stroke-width="0.8"/>
<text x="220.5" y="264.36" font-size="6.2" text-anchor="end" font-weight="normal" fill="#1a1a1a" stroke="#1a1a1a" stroke-width="0.17">140</text>
<line x1="223.6" y1="251" x2="226.4" y2="251" stroke="#222" stroke-width="0.8"/>
<text x="220.5" y="253.23" font-size="6.2" text-anchor="end" font-weight="normal" fill="#1a1a1a" stroke="#1a1a1a" stroke-width="0.17">160</text>
<line x1="248.3" y1="340" x2="248.3" y2="342" stroke="#222" stroke-width="0.8"/>
<text x="248.3" y="351.22" font-size="6.45" text-anchor="middle" font-weight="normal" fill="#1a1a1a" stroke="#1a1a1a" stroke-width="0.18">CD3</text>
<line x1="290.7" y1="340" x2="290.7" y2="342" stroke="#222" stroke-width="0.8"/>
<text x="290.7" y="351.22" font-size="6.45" text-anchor="middle" font-weight="normal" fill="#1a1a1a" stroke="#1a1a1a" stroke-width="0.18">CD4</text>
<line x1="332.9" y1="340" x2="332.9" y2="342" stroke="#222" stroke-width="0.8"/>
<text x="332.9" y="351.22" font-size="6.45" text-anchor="middle" font-weight="normal" fill="#1a1a1a" stroke="#1a1a1a" stroke-width="0.18">CD8</text>
<text x="248" y="245.76" font-size="6" text-anchor="middle" font-weight="normal" fill="#1a1a1a" stroke="#1a1a1a" stroke-width="0.16"><tspan font-style="italic">P</tspan> &lt; .001</text>
<text x="290.5" y="293.36" font-size="6" text-anchor="middle" font-weight="normal" fill="#1a1a1a" stroke="#1a1a1a" stroke-width="0.16"><tspan font-style="italic">P</tspan> &lt; .005</text>
<text x="332.9" y="279.46" font-size="6" text-anchor="middle" font-weight="normal" fill="#1a1a1a" stroke="#1a1a1a" stroke-width="0.16"><tspan font-style="italic">P</tspan> &lt; .005</text>
<text x="202.8" y="294.99" font-size="8.3" text-anchor="middle" font-weight="bold" fill="#222" textLength="19.4" lengthAdjust="spacingAndGlyphs" transform="rotate(-90 202.8 292)">Cells/uL</text>
<rect x="239.8" y="361.6" width="5.2" height="5" fill="#17508e"/>
<text x="248" y="366.25" font-size="5.7" text-anchor="start" font-weight="normal" fill="#1a1a1a" stroke="#1a1a1a" stroke-width="0.14">No CRS (N = 28)</text>
<rect x="299.4" y="361.6" width="5.2" height="5" fill="#c8102e"/>
<text x="308" y="366.25" font-size="5.7" text-anchor="start" font-weight="normal" fill="#1a1a1a" stroke="#1a1a1a" stroke-width="0.14">CRS (N = 37)</text>
<text x="373.1" y="233.28" font-size="10.5" text-anchor="middle" font-weight="bold" fill="#111">D</text>
<rect x="411.1" y="336.5" width="13" height="3.7" fill="#17508e"/>
<rect x="428.1" y="326.62" width="13" height="13.58" fill="#c8102e"/>
<rect x="469.5" y="322.3" width="13.1" height="17.9" fill="#17508e"/>
<rect x="486.1" y="286.7" width="12.9" height="53.5" fill="#c8102e"/>
<line x1="417.6" y1="333.41" x2="417.6" y2="339.38" stroke="#222" stroke-width="0.8"/>
<polygon points="416.2,332.91 419,332.91 417.6,334.41" fill="#222"/>
<line x1="434.6" y1="316.33" x2="434.6" y2="333.2" stroke="#222" stroke-width="0.8"/>
<polygon points="433.2,315.83 436,315.83 434.6,317.33" fill="#222"/>
<line x1="476.05" y1="302.14" x2="476.05" y2="335.26" stroke="#222" stroke-width="0.8"/>
<polygon points="474.65,301.64 477.45,301.64 476.05,303.14" fill="#222"/>
<line x1="492.55" y1="246.38" x2="492.55" y2="314.28" stroke="#222" stroke-width="0.8"/>
<polygon points="491.15,245.88 493.95,245.88 492.55,247.38" fill="#222"/>
<line x1="397.1" y1="257.4" x2="397.1" y2="340.2" stroke="#1a1a1a" stroke-width="1.2"/>
<line x1="396.5" y1="340.2" x2="513.5" y2="340.2" stroke="#1a1a1a" stroke-width="1.2"/>
<line x1="394.3" y1="340.2" x2="397.1" y2="340.2" stroke="#222" stroke-width="0.8"/>
<text x="391.2" y="342.43" font-size="6.2" text-anchor="end" font-weight="normal" fill="#1a1a1a" stroke="#1a1a1a" stroke-width="0.17">0</text>
<line x1="394.3" y1="319.62" x2="397.1" y2="319.62" stroke="#222" stroke-width="0.8"/>
<text x="391.2" y="321.86" font-size="6.2" text-anchor="end" font-weight="normal" fill="#1a1a1a" stroke="#1a1a1a" stroke-width="0.17">10</text>
<line x1="394.3" y1="299.05" x2="397.1" y2="299.05" stroke="#222" stroke-width="0.8"/>
<text x="391.2" y="301.28" font-size="6.2" text-anchor="end" font-weight="normal" fill="#1a1a1a" stroke="#1a1a1a" stroke-width="0.17">20</text>
<line x1="394.3" y1="278.47" x2="397.1" y2="278.47" stroke="#222" stroke-width="0.8"/>
<text x="391.2" y="280.71" font-size="6.2" text-anchor="end" font-weight="normal" fill="#1a1a1a" stroke="#1a1a1a" stroke-width="0.17">30</text>
<line x1="394.3" y1="257.9" x2="397.1" y2="257.9" stroke="#222" stroke-width="0.8"/>
<text x="391.2" y="260.13" font-size="6.2" text-anchor="end" font-weight="normal" fill="#1a1a1a" stroke="#1a1a1a" stroke-width="0.17">40</text>
<line x1="425.9" y1="340.2" x2="425.9" y2="342.2" stroke="#222" stroke-width="0.8"/>
<text x="425.9" y="351.22" font-size="6.45" text-anchor="middle" font-weight="normal" fill="#1a1a1a" stroke="#1a1a1a" stroke-width="0.18">Treg</text>
<line x1="484.3" y1="340.2" x2="484.3" y2="342.2" stroke="#222" stroke-width="0.8"/>
<text x="484.3" y="351.22" font-size="6.45" text-anchor="middle" font-weight="normal" fill="#1a1a1a" stroke="#1a1a1a" stroke-width="0.18">Tcon</text>
<text x="425.5" y="310.16" font-size="6" text-anchor="middle" font-weight="normal" fill="#1a1a1a" stroke="#1a1a1a" stroke-width="0.16"><tspan font-style="italic">P</tspan> &lt; .0005</text>
<text x="483.6" y="242.06" font-size="6" text-anchor="middle" font-weight="normal" fill="#1a1a1a" stroke="#1a1a1a" stroke-width="0.16"><tspan font-style="italic">P</tspan> &lt; .005</text>
<text x="376.7" y="300.69" font-size="8.3" text-anchor="middle" font-weight="bold" fill="#222" textLength="19.4" lengthAdjust="spacingAndGlyphs" transform="rotate(-90 376.7 297.7)">Cells/uL</text>
<rect x="404.2" y="361.6" width="5.2" height="5" fill="#17508e"/>
<text x="412.9" y="366.25" font-size="5.7" text-anchor="start" font-weight="normal" fill="#1a1a1a" stroke="#1a1a1a" stroke-width="0.14">No CRS (N = 28)</text>
<rect x="464.3" y="361.6" width="5.2" height="5" fill="#c8102e"/>
<text x="472.3" y="366.25" font-size="5.7" text-anchor="start" font-weight="normal" fill="#1a1a1a" stroke="#1a1a1a" stroke-width="0.14">CRS (N = 37)</text>
<text x="98" y="391.18" font-size="10.5" text-anchor="middle" font-weight="bold" fill="#111">E</text>
<line x1="139.4" y1="465.69" x2="139.4" y2="471.73" stroke="#3a7aa6" stroke-width="0.7"/>
<line x1="138.1" y1="465.69" x2="140.7" y2="465.69" stroke="#3a7aa6" stroke-width="0.8"/>
<line x1="138.1" y1="471.73" x2="140.7" y2="471.73" stroke="#3a7aa6" stroke-width="0.8"/>
<line x1="165.8" y1="438.25" x2="165.8" y2="462.4" stroke="#3a7aa6" stroke-width="0.7"/>
<line x1="164.5" y1="438.25" x2="167.1" y2="438.25" stroke="#3a7aa6" stroke-width="0.8"/>
<line x1="164.5" y1="462.4" x2="167.1" y2="462.4" stroke="#3a7aa6" stroke-width="0.8"/>
<line x1="192.2" y1="442.27" x2="192.2" y2="464.78" stroke="#3a7aa6" stroke-width="0.7"/>
<line x1="190.9" y1="442.27" x2="193.5" y2="442.27" stroke="#3a7aa6" stroke-width="0.8"/>
<line x1="190.9" y1="464.78" x2="193.5" y2="464.78" stroke="#3a7aa6" stroke-width="0.8"/>
<line x1="218.5" y1="435.5" x2="218.5" y2="458.19" stroke="#3a7aa6" stroke-width="0.7"/>
<line x1="217.2" y1="435.5" x2="219.8" y2="435.5" stroke="#3a7aa6" stroke-width="0.8"/>
<line x1="217.2" y1="458.19" x2="219.8" y2="458.19" stroke="#3a7aa6" stroke-width="0.8"/>
<line x1="244.7" y1="421.77" x2="244.7" y2="457.46" stroke="#3a7aa6" stroke-width="0.7"/>
<line x1="243.4" y1="421.77" x2="246" y2="421.77" stroke="#3a7aa6" stroke-width="0.8"/>
<line x1="243.4" y1="457.46" x2="246" y2="457.46" stroke="#3a7aa6" stroke-width="0.8"/>
<line x1="139.4" y1="450.87" x2="139.4" y2="470.64" stroke="#cc3a64" stroke-width="0.7"/>
<line x1="138.1" y1="450.87" x2="140.7" y2="450.87" stroke="#cc3a64" stroke-width="0.8"/>
<line x1="138.1" y1="470.64" x2="140.7" y2="470.64" stroke="#cc3a64" stroke-width="0.8"/>
<line x1="165.8" y1="430.01" x2="165.8" y2="462.4" stroke="#cc3a64" stroke-width="0.7"/>
<line x1="164.5" y1="430.01" x2="167.1" y2="430.01" stroke="#cc3a64" stroke-width="0.8"/>
<line x1="164.5" y1="462.4" x2="167.1" y2="462.4" stroke="#cc3a64" stroke-width="0.8"/>
<line x1="192.2" y1="427.63" x2="192.2" y2="462.95" stroke="#cc3a64" stroke-width="0.7"/>
<line x1="190.9" y1="427.63" x2="193.5" y2="427.63" stroke="#cc3a64" stroke-width="0.8"/>
<line x1="190.9" y1="462.95" x2="193.5" y2="462.95" stroke="#cc3a64" stroke-width="0.8"/>
<line x1="218.5" y1="429.09" x2="218.5" y2="457.46" stroke="#cc3a64" stroke-width="0.7"/>
<line x1="217.2" y1="429.09" x2="219.8" y2="429.09" stroke="#cc3a64" stroke-width="0.8"/>
<line x1="217.2" y1="457.46" x2="219.8" y2="457.46" stroke="#cc3a64" stroke-width="0.8"/>
<line x1="244.7" y1="404.39" x2="244.7" y2="448.31" stroke="#cc3a64" stroke-width="0.7"/>
<line x1="243.4" y1="404.39" x2="246" y2="404.39" stroke="#cc3a64" stroke-width="0.8"/>
<line x1="243.4" y1="448.31" x2="246" y2="448.31" stroke="#cc3a64" stroke-width="0.8"/>
<path d="M139.4 469.36 L165.8 453.98 L192.2 456.36 L218.5 450.32 L244.7 443.37" fill="none" stroke="#1d547e" stroke-width="1.1"/>
<path d="M139.4 461.12 L165.8 449.23 L192.2 449.04 L218.5 445.2 L244.7 428.91" fill="none" stroke="#c8143c" stroke-width="1.1"/>
<circle cx="139.4" cy="469.36" r="1.35" fill="#1d3f6a"/>
<circle cx="165.8" cy="453.98" r="1.35" fill="#1d3f6a"/>
<circle cx="192.2" cy="456.36" r="1.35" fill="#1d3f6a"/>
<circle cx="218.5" cy="450.32" r="1.35" fill="#1d3f6a"/>
<circle cx="244.7" cy="443.37" r="1.35" fill="#1d3f6a"/>
<circle cx="139.4" cy="461.12" r="1.35" fill="#b0102c"/>
<circle cx="165.8" cy="449.23" r="1.35" fill="#b0102c"/>
<circle cx="192.2" cy="449.04" r="1.35" fill="#b0102c"/>
<circle cx="218.5" cy="445.2" r="1.35" fill="#b0102c"/>
<circle cx="244.7" cy="428.91" r="1.35" fill="#b0102c"/>
<line x1="125.8" y1="398.3" x2="125.8" y2="472.1" stroke="#1a1a1a" stroke-width="1.2"/>
<line x1="125.2" y1="472.1" x2="253" y2="472.1" stroke="#1a1a1a" stroke-width="1.2"/>
<line x1="123.3" y1="472.1" x2="125.8" y2="472.1" stroke="#222" stroke-width="0.8"/>
<text x="120.8" y="474.3" font-size="6.1" text-anchor="end" font-weight="normal" fill="#1a1a1a" stroke="#1a1a1a" stroke-width="0.16">0</text>
<line x1="123.3" y1="453.8" x2="125.8" y2="453.8" stroke="#222" stroke-width="0.8"/>
<text x="120.8" y="456" font-size="6.1" text-anchor="end" font-weight="normal" fill="#1a1a1a" stroke="#1a1a1a" stroke-width="0.16">10</text>
<line x1="123.3" y1="435.5" x2="125.8" y2="435.5" stroke="#222" stroke-width="0.8"/>
<text x="120.8" y="437.7" font-size="6.1" text-anchor="end" font-weight="normal" fill="#1a1a1a" stroke="#1a1a1a" stroke-width="0.16">20</text>
<line x1="123.3" y1="417.2" x2="125.8" y2="417.2" stroke="#222" stroke-width="0.8"/>
<text x="120.8" y="419.4" font-size="6.1" text-anchor="end" font-weight="normal" fill="#1a1a1a" stroke="#1a1a1a" stroke-width="0.16">30</text>
<line x1="123.3" y1="398.9" x2="125.8" y2="398.9" stroke="#222" stroke-width="0.8"/>
<text x="120.8" y="401.1" font-size="6.1" text-anchor="end" font-weight="normal" fill="#1a1a1a" stroke="#1a1a1a" stroke-width="0.16">40</text>
<line x1="139.4" y1="472.1" x2="139.4" y2="474.1" stroke="#222" stroke-width="0.8"/>
<line x1="165.8" y1="472.1" x2="165.8" y2="474.1" stroke="#222" stroke-width="0.8"/>
<line x1="192.2" y1="472.1" x2="192.2" y2="474.1" stroke="#222" stroke-width="0.8"/>
<line x1="218.5" y1="472.1" x2="218.5" y2="474.1" stroke="#222" stroke-width="0.8"/>
<line x1="244.7" y1="472.1" x2="244.7" y2="474.1" stroke="#222" stroke-width="0.8"/>
<text x="191.6" y="391.46" font-size="8.5" text-anchor="middle" font-weight="normal" fill="#222" stroke="#222" stroke-width="0.18" textLength="14.8" lengthAdjust="spacingAndGlyphs">Treg</text>
<text x="141" y="445.46" font-size="6" text-anchor="middle" font-weight="normal" fill="#1a1a1a" stroke="#1a1a1a" stroke-width="0.16"><tspan font-style="italic">P</tspan> &lt; .0005</text>
<text x="105.8" y="438.49" font-size="8.3" text-anchor="middle" font-weight="bold" fill="#222" textLength="19.4" lengthAdjust="spacingAndGlyphs" transform="rotate(-90 105.8 435.5)">Cells/uL</text>
<text x="139.4" y="484.05" font-size="5.7" text-anchor="middle" font-weight="normal" fill="#1a1a1a" stroke="#1a1a1a" stroke-width="0.14">1</text>
<text x="139.4" y="493.95" font-size="5.7" text-anchor="middle" font-weight="normal" fill="#1a1a1a" stroke="#1a1a1a" stroke-width="0.14">28</text>
<text x="139.4" y="503.65" font-size="5.7" text-anchor="middle" font-weight="normal" fill="#1a1a1a" stroke="#1a1a1a" stroke-width="0.14">37</text>
<text x="165.8" y="484.05" font-size="5.7" text-anchor="middle" font-weight="normal" fill="#1a1a1a" stroke="#1a1a1a" stroke-width="0.14">2</text>
<text x="165.8" y="493.95" font-size="5.7" text-anchor="middle" font-weight="normal" fill="#1a1a1a" stroke="#1a1a1a" stroke-width="0.14">41</text>
<text x="165.8" y="503.65" font-size="5.7" text-anchor="middle" font-weight="normal" fill="#1a1a1a" stroke="#1a1a1a" stroke-width="0.14">43</text>
<text x="192.2" y="484.05" font-size="5.7" text-anchor="middle" font-weight="normal" fill="#1a1a1a" stroke="#1a1a1a" stroke-width="0.14">3</text>
<text x="192.2" y="493.95" font-size="5.7" text-anchor="middle" font-weight="normal" fill="#1a1a1a" stroke="#1a1a1a" stroke-width="0.14">40</text>
<text x="192.2" y="503.65" font-size="5.7" text-anchor="middle" font-weight="normal" fill="#1a1a1a" stroke="#1a1a1a" stroke-width="0.14">52</text>
<text x="218.5" y="484.05" font-size="5.7" text-anchor="middle" font-weight="normal" fill="#1a1a1a" stroke="#1a1a1a" stroke-width="0.14">6</text>
<text x="218.5" y="493.95" font-size="5.7" text-anchor="middle" font-weight="normal" fill="#1a1a1a" stroke="#1a1a1a" stroke-width="0.14">31</text>
<text x="218.5" y="503.65" font-size="5.7" text-anchor="middle" font-weight="normal" fill="#1a1a1a" stroke="#1a1a1a" stroke-width="0.14">58</text>
<text x="244.7" y="484.05" font-size="5.7" text-anchor="middle" font-weight="normal" fill="#1a1a1a" stroke="#1a1a1a" stroke-width="0.14">12</text>
<text x="244.7" y="493.95" font-size="5.7" text-anchor="middle" font-weight="normal" fill="#1a1a1a" stroke="#1a1a1a" stroke-width="0.14">29</text>
<text x="244.7" y="503.65" font-size="5.7" text-anchor="middle" font-weight="normal" fill="#1a1a1a" stroke="#1a1a1a" stroke-width="0.14">40</text>
<text x="125.4" y="484.02" font-size="5.6" text-anchor="end" font-weight="normal" fill="#1a1a1a" stroke="#1a1a1a" stroke-width="0.14">months</text>
<text x="125.4" y="494.02" font-size="5.9" text-anchor="end" font-weight="normal" fill="#1a1a1a" stroke="#1a1a1a" stroke-width="0.15">No CRS</text>
<text x="125.4" y="503.72" font-size="5.9" text-anchor="end" font-weight="normal" fill="#1a1a1a" stroke="#1a1a1a" stroke-width="0.15">CRS</text>
<line x1="315.5" y1="468.13" x2="315.5" y2="472.8" stroke="#3a7aa6" stroke-width="0.7"/>
<line x1="314.2" y1="468.13" x2="316.8" y2="468.13" stroke="#3a7aa6" stroke-width="0.8"/>
<line x1="314.2" y1="472.8" x2="316.8" y2="472.8" stroke="#3a7aa6" stroke-width="0.8"/>
<line x1="341.4" y1="433.02" x2="341.4" y2="466.26" stroke="#3a7aa6" stroke-width="0.7"/>
<line x1="340.1" y1="433.02" x2="342.7" y2="433.02" stroke="#3a7aa6" stroke-width="0.8"/>
<line x1="340.1" y1="466.26" x2="342.7" y2="466.26" stroke="#3a7aa6" stroke-width="0.8"/>
<line x1="366.9" y1="452.26" x2="366.9" y2="468.13" stroke="#3a7aa6" stroke-width="0.7"/>
<line x1="365.6" y1="452.26" x2="368.2" y2="452.26" stroke="#3a7aa6" stroke-width="0.8"/>
<line x1="365.6" y1="468.13" x2="368.2" y2="468.13" stroke="#3a7aa6" stroke-width="0.8"/>
<line x1="392.5" y1="428.91" x2="392.5" y2="459.73" stroke="#3a7aa6" stroke-width="0.7"/>
<line x1="391.2" y1="428.91" x2="393.8" y2="428.91" stroke="#3a7aa6" stroke-width="0.8"/>
<line x1="391.2" y1="459.73" x2="393.8" y2="459.73" stroke="#3a7aa6" stroke-width="0.8"/>
<line x1="418.3" y1="412.11" x2="418.3" y2="455.43" stroke="#3a7aa6" stroke-width="0.7"/>
<line x1="417" y1="412.11" x2="419.6" y2="412.11" stroke="#3a7aa6" stroke-width="0.8"/>
<line x1="417" y1="455.43" x2="419.6" y2="455.43" stroke="#3a7aa6" stroke-width="0.8"/>
<line x1="315.5" y1="463.46" x2="315.5" y2="471.87" stroke="#cc3a64" stroke-width="0.7"/>
<line x1="314.2" y1="463.46" x2="316.8" y2="463.46" stroke="#cc3a64" stroke-width="0.8"/>
<line x1="314.2" y1="471.87" x2="316.8" y2="471.87" stroke="#cc3a64" stroke-width="0.8"/>
<line x1="341.4" y1="445.72" x2="341.4" y2="467.2" stroke="#cc3a64" stroke-width="0.7"/>
<line x1="340.1" y1="445.72" x2="342.7" y2="445.72" stroke="#cc3a64" stroke-width="0.8"/>
<line x1="340.1" y1="467.2" x2="342.7" y2="467.2" stroke="#cc3a64" stroke-width="0.8"/>
<line x1="366.9" y1="443.29" x2="366.9" y2="465.7" stroke="#cc3a64" stroke-width="0.7"/>
<line x1="365.6" y1="443.29" x2="368.2" y2="443.29" stroke="#cc3a64" stroke-width="0.8"/>
<line x1="365.6" y1="465.7" x2="368.2" y2="465.7" stroke="#cc3a64" stroke-width="0.8"/>
<line x1="392.5" y1="426.49" x2="392.5" y2="457.86" stroke="#cc3a64" stroke-width="0.7"/>
<line x1="391.2" y1="426.49" x2="393.8" y2="426.49" stroke="#cc3a64" stroke-width="0.8"/>
<line x1="391.2" y1="457.86" x2="393.8" y2="457.86" stroke="#cc3a64" stroke-width="0.8"/>
<line x1="418.3" y1="399.03" x2="418.3" y2="449.46" stroke="#cc3a64" stroke-width="0.7"/>
<line x1="417" y1="399.03" x2="419.6" y2="399.03" stroke="#cc3a64" stroke-width="0.8"/>
<line x1="417" y1="449.46" x2="419.6" y2="449.46" stroke="#cc3a64" stroke-width="0.8"/>
<path d="M315.5 471.31 L341.4 452.82 L366.9 460.29 L392.5 444.41 L418.3 434.52" fill="none" stroke="#1d547e" stroke-width="1.1"/>
<path d="M315.5 467.94 L341.4 458.79 L366.9 456.37 L392.5 444.41 L418.3 432.65" fill="none" stroke="#c8143c" stroke-width="1.1"/>
<circle cx="315.5" cy="471.31" r="1.35" fill="#1d3f6a"/>
<circle cx="341.4" cy="452.82" r="1.35" fill="#1d3f6a"/>
<circle cx="366.9" cy="460.29" r="1.35" fill="#1d3f6a"/>
<circle cx="392.5" cy="444.41" r="1.35" fill="#1d3f6a"/>
<circle cx="418.3" cy="434.52" r="1.35" fill="#1d3f6a"/>
<circle cx="315.5" cy="467.94" r="1.35" fill="#b0102c"/>
<circle cx="341.4" cy="458.79" r="1.35" fill="#b0102c"/>
<circle cx="366.9" cy="456.37" r="1.35" fill="#b0102c"/>
<circle cx="392.5" cy="444.41" r="1.35" fill="#b0102c"/>
<circle cx="418.3" cy="432.65" r="1.35" fill="#b0102c"/>
<line x1="301.7" y1="397.5" x2="301.7" y2="472.8" stroke="#1a1a1a" stroke-width="1.2"/>
<line x1="301.1" y1="472.8" x2="425.4" y2="472.8" stroke="#1a1a1a" stroke-width="1.2"/>
<line x1="299.2" y1="472.8" x2="301.7" y2="472.8" stroke="#222" stroke-width="0.8"/>
<text x="296.7" y="475" font-size="6.1" text-anchor="end" font-weight="normal" fill="#1a1a1a" stroke="#1a1a1a" stroke-width="0.16">0</text>
<line x1="299.2" y1="454.12" x2="301.7" y2="454.12" stroke="#222" stroke-width="0.8"/>
<text x="296.7" y="456.32" font-size="6.1" text-anchor="end" font-weight="normal" fill="#1a1a1a" stroke="#1a1a1a" stroke-width="0.16">100</text>
<line x1="299.2" y1="435.45" x2="301.7" y2="435.45" stroke="#222" stroke-width="0.8"/>
<text x="296.7" y="437.65" font-size="6.1" text-anchor="end" font-weight="normal" fill="#1a1a1a" stroke="#1a1a1a" stroke-width="0.16">200</text>
<line x1="299.2" y1="416.78" x2="301.7" y2="416.78" stroke="#222" stroke-width="0.8"/>
<text x="296.7" y="418.97" font-size="6.1" text-anchor="end" font-weight="normal" fill="#1a1a1a" stroke="#1a1a1a" stroke-width="0.16">300</text>
<line x1="299.2" y1="398.1" x2="301.7" y2="398.1" stroke="#222" stroke-width="0.8"/>
<text x="296.7" y="400.3" font-size="6.1" text-anchor="end" font-weight="normal" fill="#1a1a1a" stroke="#1a1a1a" stroke-width="0.16">400</text>
<line x1="315.5" y1="472.8" x2="315.5" y2="474.8" stroke="#222" stroke-width="0.8"/>
<line x1="341.4" y1="472.8" x2="341.4" y2="474.8" stroke="#222" stroke-width="0.8"/>
<line x1="366.9" y1="472.8" x2="366.9" y2="474.8" stroke="#222" stroke-width="0.8"/>
<line x1="392.5" y1="472.8" x2="392.5" y2="474.8" stroke="#222" stroke-width="0.8"/>
<line x1="418.3" y1="472.8" x2="418.3" y2="474.8" stroke="#222" stroke-width="0.8"/>
<text x="363.8" y="391.66" font-size="8.5" text-anchor="middle" font-weight="normal" fill="#222" stroke="#222" stroke-width="0.18" textLength="16.7" lengthAdjust="spacingAndGlyphs">Tcon</text>
<text x="317.4" y="454.06" font-size="6" text-anchor="middle" font-weight="normal" fill="#1a1a1a" stroke="#1a1a1a" stroke-width="0.16"><tspan font-style="italic">P</tspan> &lt; .005</text>
<text x="277.7" y="443.99" font-size="8.3" text-anchor="middle" font-weight="bold" fill="#222" textLength="21" lengthAdjust="spacingAndGlyphs" transform="rotate(-90 277.7 441)">Cells/uL</text>
<text x="315.5" y="484.05" font-size="5.7" text-anchor="middle" font-weight="normal" fill="#1a1a1a" stroke="#1a1a1a" stroke-width="0.14">1</text>
<text x="315.5" y="493.95" font-size="5.7" text-anchor="middle" font-weight="normal" fill="#1a1a1a" stroke="#1a1a1a" stroke-width="0.14">28</text>
<text x="315.5" y="503.65" font-size="5.7" text-anchor="middle" font-weight="normal" fill="#1a1a1a" stroke="#1a1a1a" stroke-width="0.14">37</text>
<text x="341.4" y="484.05" font-size="5.7" text-anchor="middle" font-weight="normal" fill="#1a1a1a" stroke="#1a1a1a" stroke-width="0.14">2</text>
<text x="341.4" y="493.95" font-size="5.7" text-anchor="middle" font-weight="normal" fill="#1a1a1a" stroke="#1a1a1a" stroke-width="0.14">41</text>
<text x="341.4" y="503.65" font-size="5.7" text-anchor="middle" font-weight="normal" fill="#1a1a1a" stroke="#1a1a1a" stroke-width="0.14">43</text>
<text x="366.9" y="484.05" font-size="5.7" text-anchor="middle" font-weight="normal" fill="#1a1a1a" stroke="#1a1a1a" stroke-width="0.14">3</text>
<text x="366.9" y="493.95" font-size="5.7" text-anchor="middle" font-weight="normal" fill="#1a1a1a" stroke="#1a1a1a" stroke-width="0.14">40</text>
<text x="366.9" y="503.65" font-size="5.7" text-anchor="middle" font-weight="normal" fill="#1a1a1a" stroke="#1a1a1a" stroke-width="0.14">52</text>
<text x="392.5" y="484.05" font-size="5.7" text-anchor="middle" font-weight="normal" fill="#1a1a1a" stroke="#1a1a1a" stroke-width="0.14">6</text>
<text x="392.5" y="493.95" font-size="5.7" text-anchor="middle" font-weight="normal" fill="#1a1a1a" stroke="#1a1a1a" stroke-width="0.14">31</text>
<text x="392.5" y="503.65" font-size="5.7" text-anchor="middle" font-weight="normal" fill="#1a1a1a" stroke="#1a1a1a" stroke-width="0.14">58</text>
<text x="418.3" y="484.05" font-size="5.7" text-anchor="middle" font-weight="normal" fill="#1a1a1a" stroke="#1a1a1a" stroke-width="0.14">12</text>
<text x="418.3" y="493.95" font-size="5.7" text-anchor="middle" font-weight="normal" fill="#1a1a1a" stroke="#1a1a1a" stroke-width="0.14">29</text>
<text x="418.3" y="503.65" font-size="5.7" text-anchor="middle" font-weight="normal" fill="#1a1a1a" stroke="#1a1a1a" stroke-width="0.14">40</text>
<text x="302.2" y="494.02" font-size="5.9" text-anchor="end" font-weight="normal" fill="#1a1a1a" stroke="#1a1a1a" stroke-width="0.15">No CRS</text>
<text x="302.2" y="503.72" font-size="5.9" text-anchor="end" font-weight="normal" fill="#1a1a1a" stroke="#1a1a1a" stroke-width="0.15">CRS</text>
<line x1="156" y1="516.2" x2="168.2" y2="516.2" stroke="#1d4e7a" stroke-width="0.9"/>
<circle cx="162.3" cy="516.2" r="1.2" fill="#1d3f6a"/>
<text x="170.6" y="518.42" font-size="5.9" text-anchor="start" font-weight="normal" fill="#1a1a1a" stroke="#1a1a1a" stroke-width="0.15">No CRS</text>
<line x1="201" y1="516.2" x2="213.2" y2="516.2" stroke="#c8143c" stroke-width="0.9"/>
<circle cx="207.3" cy="516.2" r="1.2" fill="#b0102c"/>
<text x="215.4" y="518.42" font-size="5.9" text-anchor="start" font-weight="normal" fill="#1a1a1a" stroke="#1a1a1a" stroke-width="0.15">CRS</text>
<rect x="0" y="0" width="520" height="1.1" fill="#666"/>
<rect x="0" y="0" width="1.3" height="526" fill="#555"/>
<rect x="518.6" y="0" width="1.4" height="526" fill="#686868"/>
<rect x="0" y="524.6" width="520" height="1.4" fill="#3e3e3e"/>
</svg></body></html>
